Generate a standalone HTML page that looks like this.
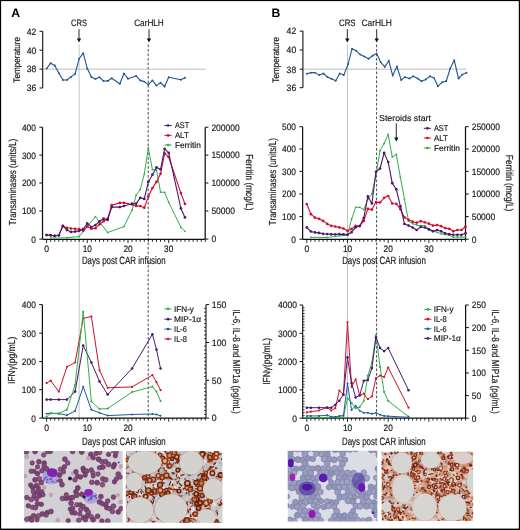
<!DOCTYPE html>
<html><head><meta charset="utf-8"><style>
html,body{margin:0;padding:0;background:#fff;width:520px;height:530px;overflow:hidden;}
svg{display:block;font-family:"Liberation Sans",sans-serif;filter:blur(0.3px);}
</style></head><body>
<svg width="520" height="530" viewBox="0 0 520 530" font-family="Liberation Sans, sans-serif" text-rendering="geometricPrecision"><rect x="0" y="0" width="520" height="530" fill="#fff"/>
<text x="11.30" y="16.90" font-size="12.2" text-anchor="start" fill="#000" font-weight="bold">A</text>
<text x="271.60" y="16.90" font-size="12.2" text-anchor="start" fill="#000" font-weight="bold">B</text>
<line x1="79.10" y1="44.50" x2="79.10" y2="418.00" stroke="#c4c4c4" stroke-width="1.0"/>
<line x1="148.20" y1="44.50" x2="148.20" y2="418.00" stroke="#4a4a4a" stroke-width="1.0" stroke-dasharray="2.7,1.8"/>
<line x1="347.50" y1="44.50" x2="347.50" y2="418.00" stroke="#c4c4c4" stroke-width="1.0"/>
<line x1="376.60" y1="44.50" x2="376.60" y2="418.00" stroke="#4a4a4a" stroke-width="1.0" stroke-dasharray="2.7,1.8"/>
<line x1="42.70" y1="69.20" x2="205.50" y2="69.20" stroke="#b4b4b4" stroke-width="0.9"/>
<line x1="42.70" y1="31.30" x2="42.70" y2="88.00" stroke="#111" stroke-width="1.1"/>
<line x1="39.50" y1="31.30" x2="42.70" y2="31.30" stroke="#111" stroke-width="1"/>
<text x="36.40" y="34.60" font-size="9.2" text-anchor="end" fill="#1a1a1a" stroke="#1a1a1a" stroke-width="0.18" textLength="9.6" lengthAdjust="spacingAndGlyphs">42</text>
<line x1="39.50" y1="50.20" x2="42.70" y2="50.20" stroke="#111" stroke-width="1"/>
<text x="36.40" y="53.50" font-size="9.2" text-anchor="end" fill="#1a1a1a" stroke="#1a1a1a" stroke-width="0.18" textLength="9.6" lengthAdjust="spacingAndGlyphs">40</text>
<line x1="39.50" y1="69.10" x2="42.70" y2="69.10" stroke="#111" stroke-width="1"/>
<text x="36.40" y="72.40" font-size="9.2" text-anchor="end" fill="#1a1a1a" stroke="#1a1a1a" stroke-width="0.18" textLength="9.6" lengthAdjust="spacingAndGlyphs">38</text>
<line x1="39.50" y1="88.00" x2="42.70" y2="88.00" stroke="#111" stroke-width="1"/>
<text x="36.40" y="91.30" font-size="9.2" text-anchor="end" fill="#1a1a1a" stroke="#1a1a1a" stroke-width="0.18" textLength="9.6" lengthAdjust="spacingAndGlyphs">36</text>
<text x="19.70" y="59.80" font-size="9.5" text-anchor="middle" fill="#1a1a1a" stroke="#1a1a1a" stroke-width="0.18" textLength="45.7" lengthAdjust="spacingAndGlyphs" transform="rotate(-90 19.70 59.80)">Temperature</text>
<polyline points="46.60,68.60 50.67,63.20 54.74,65.50 58.81,73.00 62.88,80.00 66.95,80.00 71.02,76.90 75.09,73.90 79.16,58.70 83.23,53.10 87.30,68.60 91.37,76.90 95.44,78.90 99.51,77.30 103.58,81.00 107.65,81.00 111.72,78.20 119.86,83.70 123.93,73.50 128.00,78.70 136.14,75.90 140.21,80.40 144.28,81.60 148.35,84.60 152.42,80.40 156.49,85.60 160.56,82.80 164.63,86.50 168.70,77.30 180.91,79.80 184.98,77.80" fill="none" stroke="#1d5590" stroke-width="1.1" stroke-linejoin="round"/>
<circle cx="46.60" cy="68.60" r="0.95" fill="#1d5590"/>
<circle cx="50.67" cy="63.20" r="0.95" fill="#1d5590"/>
<circle cx="54.74" cy="65.50" r="0.95" fill="#1d5590"/>
<circle cx="58.81" cy="73.00" r="0.95" fill="#1d5590"/>
<circle cx="62.88" cy="80.00" r="0.95" fill="#1d5590"/>
<circle cx="66.95" cy="80.00" r="0.95" fill="#1d5590"/>
<circle cx="71.02" cy="76.90" r="0.95" fill="#1d5590"/>
<circle cx="75.09" cy="73.90" r="0.95" fill="#1d5590"/>
<circle cx="79.16" cy="58.70" r="0.95" fill="#1d5590"/>
<circle cx="83.23" cy="53.10" r="0.95" fill="#1d5590"/>
<circle cx="87.30" cy="68.60" r="0.95" fill="#1d5590"/>
<circle cx="91.37" cy="76.90" r="0.95" fill="#1d5590"/>
<circle cx="95.44" cy="78.90" r="0.95" fill="#1d5590"/>
<circle cx="99.51" cy="77.30" r="0.95" fill="#1d5590"/>
<circle cx="103.58" cy="81.00" r="0.95" fill="#1d5590"/>
<circle cx="107.65" cy="81.00" r="0.95" fill="#1d5590"/>
<circle cx="111.72" cy="78.20" r="0.95" fill="#1d5590"/>
<circle cx="119.86" cy="83.70" r="0.95" fill="#1d5590"/>
<circle cx="123.93" cy="73.50" r="0.95" fill="#1d5590"/>
<circle cx="128.00" cy="78.70" r="0.95" fill="#1d5590"/>
<circle cx="136.14" cy="75.90" r="0.95" fill="#1d5590"/>
<circle cx="140.21" cy="80.40" r="0.95" fill="#1d5590"/>
<circle cx="144.28" cy="81.60" r="0.95" fill="#1d5590"/>
<circle cx="148.35" cy="84.60" r="0.95" fill="#1d5590"/>
<circle cx="152.42" cy="80.40" r="0.95" fill="#1d5590"/>
<circle cx="156.49" cy="85.60" r="0.95" fill="#1d5590"/>
<circle cx="160.56" cy="82.80" r="0.95" fill="#1d5590"/>
<circle cx="164.63" cy="86.50" r="0.95" fill="#1d5590"/>
<circle cx="168.70" cy="77.30" r="0.95" fill="#1d5590"/>
<circle cx="180.91" cy="79.80" r="0.95" fill="#1d5590"/>
<circle cx="184.98" cy="77.80" r="0.95" fill="#1d5590"/>
<text x="79.00" y="25.60" font-size="9.3" text-anchor="middle" fill="#1a1a1a" stroke="#1a1a1a" stroke-width="0.18" textLength="15.9" lengthAdjust="spacingAndGlyphs">CRS</text>
<line x1="79.00" y1="29.20" x2="79.00" y2="39.10" stroke="#111" stroke-width="0.9"/>
<path d="M76.80,38.60 L81.20,38.60 L79.00,42.60 Z" fill="#111"/>
<text x="149.00" y="25.60" font-size="9.3" text-anchor="middle" fill="#1a1a1a" stroke="#1a1a1a" stroke-width="0.18" textLength="29.6" lengthAdjust="spacingAndGlyphs">CarHLH</text>
<line x1="149.00" y1="29.20" x2="149.00" y2="39.10" stroke="#111" stroke-width="0.9"/>
<path d="M146.80,38.60 L151.20,38.60 L149.00,42.60 Z" fill="#111"/>
<line x1="302.90" y1="69.20" x2="466.20" y2="69.20" stroke="#b4b4b4" stroke-width="0.9"/>
<line x1="302.90" y1="31.10" x2="302.90" y2="87.70" stroke="#111" stroke-width="1.1"/>
<line x1="299.70" y1="31.10" x2="302.90" y2="31.10" stroke="#111" stroke-width="1"/>
<text x="296.20" y="34.40" font-size="9.2" text-anchor="end" fill="#1a1a1a" stroke="#1a1a1a" stroke-width="0.18" textLength="9.6" lengthAdjust="spacingAndGlyphs">42</text>
<line x1="299.70" y1="50.00" x2="302.90" y2="50.00" stroke="#111" stroke-width="1"/>
<text x="296.20" y="53.30" font-size="9.2" text-anchor="end" fill="#1a1a1a" stroke="#1a1a1a" stroke-width="0.18" textLength="9.6" lengthAdjust="spacingAndGlyphs">40</text>
<line x1="299.70" y1="69.20" x2="302.90" y2="69.20" stroke="#111" stroke-width="1"/>
<text x="296.20" y="72.50" font-size="9.2" text-anchor="end" fill="#1a1a1a" stroke="#1a1a1a" stroke-width="0.18" textLength="9.6" lengthAdjust="spacingAndGlyphs">38</text>
<line x1="299.70" y1="87.70" x2="302.90" y2="87.70" stroke="#111" stroke-width="1"/>
<text x="296.20" y="91.00" font-size="9.2" text-anchor="end" fill="#1a1a1a" stroke="#1a1a1a" stroke-width="0.18" textLength="9.6" lengthAdjust="spacingAndGlyphs">36</text>
<text x="279.50" y="59.80" font-size="9.5" text-anchor="middle" fill="#1a1a1a" stroke="#1a1a1a" stroke-width="0.18" textLength="45.7" lengthAdjust="spacingAndGlyphs" transform="rotate(-90 279.50 59.80)">Temperature</text>
<polyline points="306.90,73.80 311.10,72.60 315.10,72.60 319.20,75.10 323.40,73.50 327.40,76.90 331.50,78.80 335.70,80.80 339.70,73.50 343.80,75.10 348.00,64.30 352.00,48.80 356.20,50.80 360.30,54.60 364.30,56.60 368.50,58.80 372.60,55.70 376.60,53.50 380.60,62.10 384.80,66.90 388.80,60.80 392.70,75.60 396.90,66.50 401.20,80.00 405.00,77.10 409.40,78.50 413.30,76.20 417.70,78.50 421.50,81.30 425.80,79.40 430.00,76.20 434.00,78.10 437.90,86.20 442.10,82.30 446.30,81.00 450.20,68.50 454.20,60.20 458.50,78.50 462.30,74.60 466.50,72.70" fill="none" stroke="#1d5590" stroke-width="1.1" stroke-linejoin="round"/>
<circle cx="306.90" cy="73.80" r="0.95" fill="#1d5590"/>
<circle cx="311.10" cy="72.60" r="0.95" fill="#1d5590"/>
<circle cx="315.10" cy="72.60" r="0.95" fill="#1d5590"/>
<circle cx="319.20" cy="75.10" r="0.95" fill="#1d5590"/>
<circle cx="323.40" cy="73.50" r="0.95" fill="#1d5590"/>
<circle cx="327.40" cy="76.90" r="0.95" fill="#1d5590"/>
<circle cx="331.50" cy="78.80" r="0.95" fill="#1d5590"/>
<circle cx="335.70" cy="80.80" r="0.95" fill="#1d5590"/>
<circle cx="339.70" cy="73.50" r="0.95" fill="#1d5590"/>
<circle cx="343.80" cy="75.10" r="0.95" fill="#1d5590"/>
<circle cx="348.00" cy="64.30" r="0.95" fill="#1d5590"/>
<circle cx="352.00" cy="48.80" r="0.95" fill="#1d5590"/>
<circle cx="356.20" cy="50.80" r="0.95" fill="#1d5590"/>
<circle cx="360.30" cy="54.60" r="0.95" fill="#1d5590"/>
<circle cx="364.30" cy="56.60" r="0.95" fill="#1d5590"/>
<circle cx="368.50" cy="58.80" r="0.95" fill="#1d5590"/>
<circle cx="372.60" cy="55.70" r="0.95" fill="#1d5590"/>
<circle cx="376.60" cy="53.50" r="0.95" fill="#1d5590"/>
<circle cx="380.60" cy="62.10" r="0.95" fill="#1d5590"/>
<circle cx="384.80" cy="66.90" r="0.95" fill="#1d5590"/>
<circle cx="388.80" cy="60.80" r="0.95" fill="#1d5590"/>
<circle cx="392.70" cy="75.60" r="0.95" fill="#1d5590"/>
<circle cx="396.90" cy="66.50" r="0.95" fill="#1d5590"/>
<circle cx="401.20" cy="80.00" r="0.95" fill="#1d5590"/>
<circle cx="405.00" cy="77.10" r="0.95" fill="#1d5590"/>
<circle cx="409.40" cy="78.50" r="0.95" fill="#1d5590"/>
<circle cx="413.30" cy="76.20" r="0.95" fill="#1d5590"/>
<circle cx="417.70" cy="78.50" r="0.95" fill="#1d5590"/>
<circle cx="421.50" cy="81.30" r="0.95" fill="#1d5590"/>
<circle cx="425.80" cy="79.40" r="0.95" fill="#1d5590"/>
<circle cx="430.00" cy="76.20" r="0.95" fill="#1d5590"/>
<circle cx="434.00" cy="78.10" r="0.95" fill="#1d5590"/>
<circle cx="437.90" cy="86.20" r="0.95" fill="#1d5590"/>
<circle cx="442.10" cy="82.30" r="0.95" fill="#1d5590"/>
<circle cx="446.30" cy="81.00" r="0.95" fill="#1d5590"/>
<circle cx="450.20" cy="68.50" r="0.95" fill="#1d5590"/>
<circle cx="454.20" cy="60.20" r="0.95" fill="#1d5590"/>
<circle cx="458.50" cy="78.50" r="0.95" fill="#1d5590"/>
<circle cx="462.30" cy="74.60" r="0.95" fill="#1d5590"/>
<circle cx="466.50" cy="72.70" r="0.95" fill="#1d5590"/>
<text x="347.30" y="25.60" font-size="9.3" text-anchor="middle" fill="#1a1a1a" stroke="#1a1a1a" stroke-width="0.18" textLength="16.4" lengthAdjust="spacingAndGlyphs">CRS</text>
<line x1="347.30" y1="29.20" x2="347.30" y2="39.10" stroke="#111" stroke-width="0.9"/>
<path d="M345.10,38.60 L349.50,38.60 L347.30,42.60 Z" fill="#111"/>
<text x="376.70" y="25.60" font-size="9.3" text-anchor="middle" fill="#1a1a1a" stroke="#1a1a1a" stroke-width="0.18" textLength="30.3" lengthAdjust="spacingAndGlyphs">CarHLH</text>
<line x1="376.70" y1="29.20" x2="376.70" y2="39.10" stroke="#111" stroke-width="0.9"/>
<path d="M374.50,38.60 L378.90,38.60 L376.70,42.60 Z" fill="#111"/>
<line x1="42.50" y1="127.20" x2="42.50" y2="239.10" stroke="#111" stroke-width="1.25"/>
<line x1="39.30" y1="239.10" x2="42.50" y2="239.10" stroke="#111" stroke-width="1"/>
<text x="35.90" y="242.50" font-size="9.2" text-anchor="end" fill="#1a1a1a" stroke="#1a1a1a" stroke-width="0.18" textLength="4.65" lengthAdjust="spacingAndGlyphs">0</text>
<line x1="39.30" y1="211.00" x2="42.50" y2="211.00" stroke="#111" stroke-width="1"/>
<text x="35.90" y="214.40" font-size="9.2" text-anchor="end" fill="#1a1a1a" stroke="#1a1a1a" stroke-width="0.18" textLength="13.950000000000001" lengthAdjust="spacingAndGlyphs">100</text>
<line x1="39.30" y1="183.00" x2="42.50" y2="183.00" stroke="#111" stroke-width="1"/>
<text x="35.90" y="186.40" font-size="9.2" text-anchor="end" fill="#1a1a1a" stroke="#1a1a1a" stroke-width="0.18" textLength="13.950000000000001" lengthAdjust="spacingAndGlyphs">200</text>
<line x1="39.30" y1="155.10" x2="42.50" y2="155.10" stroke="#111" stroke-width="1"/>
<text x="35.90" y="158.50" font-size="9.2" text-anchor="end" fill="#1a1a1a" stroke="#1a1a1a" stroke-width="0.18" textLength="13.950000000000001" lengthAdjust="spacingAndGlyphs">300</text>
<line x1="39.30" y1="127.20" x2="42.50" y2="127.20" stroke="#111" stroke-width="1"/>
<text x="35.90" y="130.60" font-size="9.2" text-anchor="end" fill="#1a1a1a" stroke="#1a1a1a" stroke-width="0.18" textLength="13.950000000000001" lengthAdjust="spacingAndGlyphs">400</text>
<line x1="205.20" y1="127.20" x2="205.20" y2="239.10" stroke="#111" stroke-width="1.25"/>
<line x1="205.20" y1="239.10" x2="208.40" y2="239.10" stroke="#111" stroke-width="1"/>
<text x="211.40" y="242.40" font-size="9.2" text-anchor="start" fill="#1a1a1a" stroke="#1a1a1a" stroke-width="0.18" textLength="4.72" lengthAdjust="spacingAndGlyphs">0</text>
<line x1="205.20" y1="211.00" x2="208.40" y2="211.00" stroke="#111" stroke-width="1"/>
<text x="211.40" y="214.30" font-size="9.2" text-anchor="start" fill="#1a1a1a" stroke="#1a1a1a" stroke-width="0.18" textLength="23.599999999999998" lengthAdjust="spacingAndGlyphs">50000</text>
<line x1="205.20" y1="183.00" x2="208.40" y2="183.00" stroke="#111" stroke-width="1"/>
<text x="211.40" y="186.30" font-size="9.2" text-anchor="start" fill="#1a1a1a" stroke="#1a1a1a" stroke-width="0.18" textLength="28.32" lengthAdjust="spacingAndGlyphs">100000</text>
<line x1="205.20" y1="155.10" x2="208.40" y2="155.10" stroke="#111" stroke-width="1"/>
<text x="211.40" y="158.40" font-size="9.2" text-anchor="start" fill="#1a1a1a" stroke="#1a1a1a" stroke-width="0.18" textLength="28.32" lengthAdjust="spacingAndGlyphs">150000</text>
<line x1="205.20" y1="127.20" x2="208.40" y2="127.20" stroke="#111" stroke-width="1"/>
<text x="211.40" y="130.50" font-size="9.2" text-anchor="start" fill="#1a1a1a" stroke="#1a1a1a" stroke-width="0.18" textLength="28.32" lengthAdjust="spacingAndGlyphs">200000</text>
<line x1="42.50" y1="239.40" x2="205.20" y2="239.40" stroke="#111" stroke-width="1.25"/>
<line x1="46.60" y1="239.40" x2="46.60" y2="243.00" stroke="#111" stroke-width="0.9"/>
<line x1="50.67" y1="239.40" x2="50.67" y2="241.80" stroke="#111" stroke-width="0.9"/>
<line x1="54.74" y1="239.40" x2="54.74" y2="241.80" stroke="#111" stroke-width="0.9"/>
<line x1="58.81" y1="239.40" x2="58.81" y2="241.80" stroke="#111" stroke-width="0.9"/>
<line x1="62.88" y1="239.40" x2="62.88" y2="241.80" stroke="#111" stroke-width="0.9"/>
<line x1="66.95" y1="239.40" x2="66.95" y2="241.80" stroke="#111" stroke-width="0.9"/>
<line x1="71.02" y1="239.40" x2="71.02" y2="241.80" stroke="#111" stroke-width="0.9"/>
<line x1="75.09" y1="239.40" x2="75.09" y2="241.80" stroke="#111" stroke-width="0.9"/>
<line x1="79.16" y1="239.40" x2="79.16" y2="241.80" stroke="#111" stroke-width="0.9"/>
<line x1="83.23" y1="239.40" x2="83.23" y2="241.80" stroke="#111" stroke-width="0.9"/>
<line x1="87.30" y1="239.40" x2="87.30" y2="243.00" stroke="#111" stroke-width="0.9"/>
<line x1="91.37" y1="239.40" x2="91.37" y2="241.80" stroke="#111" stroke-width="0.9"/>
<line x1="95.44" y1="239.40" x2="95.44" y2="241.80" stroke="#111" stroke-width="0.9"/>
<line x1="99.51" y1="239.40" x2="99.51" y2="241.80" stroke="#111" stroke-width="0.9"/>
<line x1="103.58" y1="239.40" x2="103.58" y2="241.80" stroke="#111" stroke-width="0.9"/>
<line x1="107.65" y1="239.40" x2="107.65" y2="241.80" stroke="#111" stroke-width="0.9"/>
<line x1="111.72" y1="239.40" x2="111.72" y2="241.80" stroke="#111" stroke-width="0.9"/>
<line x1="115.79" y1="239.40" x2="115.79" y2="241.80" stroke="#111" stroke-width="0.9"/>
<line x1="119.86" y1="239.40" x2="119.86" y2="241.80" stroke="#111" stroke-width="0.9"/>
<line x1="123.93" y1="239.40" x2="123.93" y2="241.80" stroke="#111" stroke-width="0.9"/>
<line x1="128.00" y1="239.40" x2="128.00" y2="243.00" stroke="#111" stroke-width="0.9"/>
<line x1="132.07" y1="239.40" x2="132.07" y2="241.80" stroke="#111" stroke-width="0.9"/>
<line x1="136.14" y1="239.40" x2="136.14" y2="241.80" stroke="#111" stroke-width="0.9"/>
<line x1="140.21" y1="239.40" x2="140.21" y2="241.80" stroke="#111" stroke-width="0.9"/>
<line x1="144.28" y1="239.40" x2="144.28" y2="241.80" stroke="#111" stroke-width="0.9"/>
<line x1="148.35" y1="239.40" x2="148.35" y2="241.80" stroke="#111" stroke-width="0.9"/>
<line x1="152.42" y1="239.40" x2="152.42" y2="241.80" stroke="#111" stroke-width="0.9"/>
<line x1="156.49" y1="239.40" x2="156.49" y2="241.80" stroke="#111" stroke-width="0.9"/>
<line x1="160.56" y1="239.40" x2="160.56" y2="241.80" stroke="#111" stroke-width="0.9"/>
<line x1="164.63" y1="239.40" x2="164.63" y2="241.80" stroke="#111" stroke-width="0.9"/>
<line x1="168.70" y1="239.40" x2="168.70" y2="243.00" stroke="#111" stroke-width="0.9"/>
<line x1="172.77" y1="239.40" x2="172.77" y2="241.80" stroke="#111" stroke-width="0.9"/>
<line x1="176.84" y1="239.40" x2="176.84" y2="241.80" stroke="#111" stroke-width="0.9"/>
<line x1="180.91" y1="239.40" x2="180.91" y2="241.80" stroke="#111" stroke-width="0.9"/>
<line x1="184.98" y1="239.40" x2="184.98" y2="241.80" stroke="#111" stroke-width="0.9"/>
<line x1="189.05" y1="239.40" x2="189.05" y2="241.80" stroke="#111" stroke-width="0.9"/>
<line x1="193.12" y1="239.40" x2="193.12" y2="241.80" stroke="#111" stroke-width="0.9"/>
<line x1="197.19" y1="239.40" x2="197.19" y2="241.80" stroke="#111" stroke-width="0.9"/>
<line x1="201.26" y1="239.40" x2="201.26" y2="241.80" stroke="#111" stroke-width="0.9"/>
<line x1="205.33" y1="239.40" x2="205.33" y2="241.80" stroke="#111" stroke-width="0.9"/>
<text x="46.60" y="252.30" font-size="9.4" text-anchor="middle" fill="#1a1a1a" stroke="#1a1a1a" stroke-width="0.18" textLength="4.8" lengthAdjust="spacingAndGlyphs">0</text>
<text x="87.30" y="252.30" font-size="9.4" text-anchor="middle" fill="#1a1a1a" stroke="#1a1a1a" stroke-width="0.18" textLength="9.2" lengthAdjust="spacingAndGlyphs">10</text>
<text x="128.00" y="252.30" font-size="9.4" text-anchor="middle" fill="#1a1a1a" stroke="#1a1a1a" stroke-width="0.18" textLength="9.2" lengthAdjust="spacingAndGlyphs">20</text>
<text x="168.70" y="252.30" font-size="9.4" text-anchor="middle" fill="#1a1a1a" stroke="#1a1a1a" stroke-width="0.18" textLength="9.2" lengthAdjust="spacingAndGlyphs">30</text>
<text x="123.75" y="263.80" font-size="10.6" text-anchor="middle" fill="#1a1a1a" stroke="#1a1a1a" stroke-width="0.18" textLength="83.7" lengthAdjust="spacingAndGlyphs">Days post CAR infusion</text>
<text x="15.90" y="182.00" font-size="10.2" text-anchor="middle" fill="#1a1a1a" stroke="#1a1a1a" stroke-width="0.18" textLength="86.3" lengthAdjust="spacingAndGlyphs" transform="rotate(-90 15.90 182.00)">Transaminases (units/L)</text>
<text x="246.20" y="182.40" font-size="10.2" text-anchor="middle" fill="#1a1a1a" stroke="#1a1a1a" stroke-width="0.18" textLength="56.5" lengthAdjust="spacingAndGlyphs" transform="rotate(90 246.20 182.40)">Ferritin (mcg/L)</text>
<polyline points="50.67,238.10 66.95,237.80 79.16,236.50 95.44,216.70 107.65,232.50 123.93,226.60 132.07,210.20 136.14,195.20 140.21,189.50 144.28,174.20 148.35,147.80 152.42,169.60 156.49,170.00 160.56,192.20 164.63,192.30 168.70,202.30 180.91,227.40 184.98,231.30" fill="none" stroke="#30b04a" stroke-width="1.0" stroke-linejoin="round"/>
<circle cx="50.67" cy="238.10" r="0.9" fill="#30b04a"/>
<circle cx="66.95" cy="237.80" r="0.9" fill="#30b04a"/>
<circle cx="79.16" cy="236.50" r="0.9" fill="#30b04a"/>
<circle cx="95.44" cy="216.70" r="0.9" fill="#30b04a"/>
<circle cx="107.65" cy="232.50" r="0.9" fill="#30b04a"/>
<circle cx="123.93" cy="226.60" r="0.9" fill="#30b04a"/>
<circle cx="132.07" cy="210.20" r="0.9" fill="#30b04a"/>
<circle cx="136.14" cy="195.20" r="0.9" fill="#30b04a"/>
<circle cx="140.21" cy="189.50" r="0.9" fill="#30b04a"/>
<circle cx="144.28" cy="174.20" r="0.9" fill="#30b04a"/>
<circle cx="148.35" cy="147.80" r="0.9" fill="#30b04a"/>
<circle cx="152.42" cy="169.60" r="0.9" fill="#30b04a"/>
<circle cx="156.49" cy="170.00" r="0.9" fill="#30b04a"/>
<circle cx="160.56" cy="192.20" r="0.9" fill="#30b04a"/>
<circle cx="164.63" cy="192.30" r="0.9" fill="#30b04a"/>
<circle cx="168.70" cy="202.30" r="0.9" fill="#30b04a"/>
<circle cx="180.91" cy="227.40" r="0.9" fill="#30b04a"/>
<circle cx="184.98" cy="231.30" r="0.9" fill="#30b04a"/>
<polyline points="46.60,235.00 50.67,235.30 54.74,235.90 58.81,235.30 62.88,226.20 66.95,227.80 71.02,228.50 75.09,228.80 79.16,229.20 83.23,230.70 87.30,226.40 91.37,228.70 95.44,228.20 99.51,224.30 103.58,221.20 107.65,218.50 111.72,205.20 119.86,202.90 123.93,202.90 132.07,204.50 136.14,205.90 140.21,206.00 144.28,207.70 148.35,196.60 152.42,188.10 156.49,181.90 160.56,173.80 164.63,153.40 168.70,157.00 180.91,193.10 184.98,204.00" fill="none" stroke="#d20f2d" stroke-width="1.1" stroke-linejoin="round"/>
<circle cx="46.60" cy="235.00" r="1.35" fill="#d20f2d"/>
<circle cx="50.67" cy="235.30" r="1.35" fill="#d20f2d"/>
<circle cx="54.74" cy="235.90" r="1.35" fill="#d20f2d"/>
<circle cx="58.81" cy="235.30" r="1.35" fill="#d20f2d"/>
<circle cx="62.88" cy="226.20" r="1.35" fill="#d20f2d"/>
<circle cx="66.95" cy="227.80" r="1.35" fill="#d20f2d"/>
<circle cx="71.02" cy="228.50" r="1.35" fill="#d20f2d"/>
<circle cx="75.09" cy="228.80" r="1.35" fill="#d20f2d"/>
<circle cx="79.16" cy="229.20" r="1.35" fill="#d20f2d"/>
<circle cx="83.23" cy="230.70" r="1.35" fill="#d20f2d"/>
<circle cx="87.30" cy="226.40" r="1.35" fill="#d20f2d"/>
<circle cx="91.37" cy="228.70" r="1.35" fill="#d20f2d"/>
<circle cx="95.44" cy="228.20" r="1.35" fill="#d20f2d"/>
<circle cx="99.51" cy="224.30" r="1.35" fill="#d20f2d"/>
<circle cx="103.58" cy="221.20" r="1.35" fill="#d20f2d"/>
<circle cx="107.65" cy="218.50" r="1.35" fill="#d20f2d"/>
<circle cx="111.72" cy="205.20" r="1.35" fill="#d20f2d"/>
<circle cx="119.86" cy="202.90" r="1.35" fill="#d20f2d"/>
<circle cx="123.93" cy="202.90" r="1.35" fill="#d20f2d"/>
<circle cx="132.07" cy="204.50" r="1.35" fill="#d20f2d"/>
<circle cx="136.14" cy="205.90" r="1.35" fill="#d20f2d"/>
<circle cx="140.21" cy="206.00" r="1.35" fill="#d20f2d"/>
<circle cx="144.28" cy="207.70" r="1.35" fill="#d20f2d"/>
<circle cx="148.35" cy="196.60" r="1.35" fill="#d20f2d"/>
<circle cx="152.42" cy="188.10" r="1.35" fill="#d20f2d"/>
<circle cx="156.49" cy="181.90" r="1.35" fill="#d20f2d"/>
<circle cx="160.56" cy="173.80" r="1.35" fill="#d20f2d"/>
<circle cx="164.63" cy="153.40" r="1.35" fill="#d20f2d"/>
<circle cx="168.70" cy="157.00" r="1.35" fill="#d20f2d"/>
<circle cx="180.91" cy="193.10" r="1.35" fill="#d20f2d"/>
<circle cx="184.98" cy="204.00" r="1.35" fill="#d20f2d"/>
<polyline points="46.60,235.00 50.67,235.30 54.74,235.90 58.81,235.30 62.88,225.80 66.95,230.10 71.02,231.90 75.09,231.60 79.16,230.80 83.23,229.20 87.30,223.40 91.37,227.10 95.44,225.10 99.51,221.30 103.58,218.70 107.65,219.90 111.72,207.10 119.86,207.10 123.93,206.00 132.07,203.70 136.14,203.60 140.21,197.90 144.28,198.90 148.35,181.90 152.42,174.70 156.49,167.40 160.56,169.30 164.63,148.80 168.70,152.90 180.91,208.40 184.98,217.40" fill="none" stroke="#4a1872" stroke-width="1.1" stroke-linejoin="round"/>
<circle cx="46.60" cy="235.00" r="1.35" fill="#4a1872"/>
<circle cx="50.67" cy="235.30" r="1.35" fill="#4a1872"/>
<circle cx="54.74" cy="235.90" r="1.35" fill="#4a1872"/>
<circle cx="58.81" cy="235.30" r="1.35" fill="#4a1872"/>
<circle cx="62.88" cy="225.80" r="1.35" fill="#4a1872"/>
<circle cx="66.95" cy="230.10" r="1.35" fill="#4a1872"/>
<circle cx="71.02" cy="231.90" r="1.35" fill="#4a1872"/>
<circle cx="75.09" cy="231.60" r="1.35" fill="#4a1872"/>
<circle cx="79.16" cy="230.80" r="1.35" fill="#4a1872"/>
<circle cx="83.23" cy="229.20" r="1.35" fill="#4a1872"/>
<circle cx="87.30" cy="223.40" r="1.35" fill="#4a1872"/>
<circle cx="91.37" cy="227.10" r="1.35" fill="#4a1872"/>
<circle cx="95.44" cy="225.10" r="1.35" fill="#4a1872"/>
<circle cx="99.51" cy="221.30" r="1.35" fill="#4a1872"/>
<circle cx="103.58" cy="218.70" r="1.35" fill="#4a1872"/>
<circle cx="107.65" cy="219.90" r="1.35" fill="#4a1872"/>
<circle cx="111.72" cy="207.10" r="1.35" fill="#4a1872"/>
<circle cx="119.86" cy="207.10" r="1.35" fill="#4a1872"/>
<circle cx="123.93" cy="206.00" r="1.35" fill="#4a1872"/>
<circle cx="132.07" cy="203.70" r="1.35" fill="#4a1872"/>
<circle cx="136.14" cy="203.60" r="1.35" fill="#4a1872"/>
<circle cx="140.21" cy="197.90" r="1.35" fill="#4a1872"/>
<circle cx="144.28" cy="198.90" r="1.35" fill="#4a1872"/>
<circle cx="148.35" cy="181.90" r="1.35" fill="#4a1872"/>
<circle cx="152.42" cy="174.70" r="1.35" fill="#4a1872"/>
<circle cx="156.49" cy="167.40" r="1.35" fill="#4a1872"/>
<circle cx="160.56" cy="169.30" r="1.35" fill="#4a1872"/>
<circle cx="164.63" cy="148.80" r="1.35" fill="#4a1872"/>
<circle cx="168.70" cy="152.90" r="1.35" fill="#4a1872"/>
<circle cx="180.91" cy="208.40" r="1.35" fill="#4a1872"/>
<circle cx="184.98" cy="217.40" r="1.35" fill="#4a1872"/>
<line x1="164.40" y1="125.50" x2="171.70" y2="125.50" stroke="#4a1872" stroke-width="1.0"/>
<circle cx="168.05" cy="125.50" r="1.35" fill="#4a1872"/>
<text x="174.90" y="128.25" font-size="8.4" text-anchor="start" fill="#1a1a1a" stroke="#1a1a1a" stroke-width="0.18" textLength="14.2" lengthAdjust="spacingAndGlyphs">AST</text>
<line x1="164.40" y1="135.40" x2="171.70" y2="135.40" stroke="#d20f2d" stroke-width="1.0"/>
<circle cx="168.05" cy="135.40" r="1.35" fill="#d20f2d"/>
<text x="174.90" y="138.15" font-size="8.4" text-anchor="start" fill="#1a1a1a" stroke="#1a1a1a" stroke-width="0.18" textLength="13.8" lengthAdjust="spacingAndGlyphs">ALT</text>
<line x1="164.40" y1="145.00" x2="171.70" y2="145.00" stroke="#30b04a" stroke-width="1.0"/>
<circle cx="168.05" cy="145.00" r="1.35" fill="#30b04a"/>
<text x="174.90" y="147.75" font-size="8.4" text-anchor="start" fill="#1a1a1a" stroke="#1a1a1a" stroke-width="0.18" textLength="25.9" lengthAdjust="spacingAndGlyphs">Ferritin</text>
<line x1="302.60" y1="126.70" x2="302.60" y2="239.20" stroke="#111" stroke-width="1.25"/>
<line x1="299.40" y1="239.20" x2="302.60" y2="239.20" stroke="#111" stroke-width="1"/>
<text x="296.00" y="242.60" font-size="9.2" text-anchor="end" fill="#1a1a1a" stroke="#1a1a1a" stroke-width="0.18" textLength="4.65" lengthAdjust="spacingAndGlyphs">0</text>
<line x1="299.40" y1="216.60" x2="302.60" y2="216.60" stroke="#111" stroke-width="1"/>
<text x="296.00" y="220.00" font-size="9.2" text-anchor="end" fill="#1a1a1a" stroke="#1a1a1a" stroke-width="0.18" textLength="13.950000000000001" lengthAdjust="spacingAndGlyphs">100</text>
<line x1="299.40" y1="194.00" x2="302.60" y2="194.00" stroke="#111" stroke-width="1"/>
<text x="296.00" y="197.40" font-size="9.2" text-anchor="end" fill="#1a1a1a" stroke="#1a1a1a" stroke-width="0.18" textLength="13.950000000000001" lengthAdjust="spacingAndGlyphs">200</text>
<line x1="299.40" y1="171.40" x2="302.60" y2="171.40" stroke="#111" stroke-width="1"/>
<text x="296.00" y="174.80" font-size="9.2" text-anchor="end" fill="#1a1a1a" stroke="#1a1a1a" stroke-width="0.18" textLength="13.950000000000001" lengthAdjust="spacingAndGlyphs">300</text>
<line x1="299.40" y1="149.00" x2="302.60" y2="149.00" stroke="#111" stroke-width="1"/>
<text x="296.00" y="152.40" font-size="9.2" text-anchor="end" fill="#1a1a1a" stroke="#1a1a1a" stroke-width="0.18" textLength="13.950000000000001" lengthAdjust="spacingAndGlyphs">400</text>
<line x1="299.40" y1="126.70" x2="302.60" y2="126.70" stroke="#111" stroke-width="1"/>
<text x="296.00" y="130.10" font-size="9.2" text-anchor="end" fill="#1a1a1a" stroke="#1a1a1a" stroke-width="0.18" textLength="13.950000000000001" lengthAdjust="spacingAndGlyphs">500</text>
<line x1="465.50" y1="126.70" x2="465.50" y2="239.20" stroke="#111" stroke-width="1.25"/>
<line x1="465.50" y1="239.20" x2="468.70" y2="239.20" stroke="#111" stroke-width="1"/>
<text x="471.70" y="242.50" font-size="9.2" text-anchor="start" fill="#1a1a1a" stroke="#1a1a1a" stroke-width="0.18" textLength="4.72" lengthAdjust="spacingAndGlyphs">0</text>
<line x1="465.50" y1="216.60" x2="468.70" y2="216.60" stroke="#111" stroke-width="1"/>
<text x="471.70" y="219.90" font-size="9.2" text-anchor="start" fill="#1a1a1a" stroke="#1a1a1a" stroke-width="0.18" textLength="23.599999999999998" lengthAdjust="spacingAndGlyphs">50000</text>
<line x1="465.50" y1="194.00" x2="468.70" y2="194.00" stroke="#111" stroke-width="1"/>
<text x="471.70" y="197.30" font-size="9.2" text-anchor="start" fill="#1a1a1a" stroke="#1a1a1a" stroke-width="0.18" textLength="28.32" lengthAdjust="spacingAndGlyphs">100000</text>
<line x1="465.50" y1="171.40" x2="468.70" y2="171.40" stroke="#111" stroke-width="1"/>
<text x="471.70" y="174.70" font-size="9.2" text-anchor="start" fill="#1a1a1a" stroke="#1a1a1a" stroke-width="0.18" textLength="28.32" lengthAdjust="spacingAndGlyphs">150000</text>
<line x1="465.50" y1="149.00" x2="468.70" y2="149.00" stroke="#111" stroke-width="1"/>
<text x="471.70" y="152.30" font-size="9.2" text-anchor="start" fill="#1a1a1a" stroke="#1a1a1a" stroke-width="0.18" textLength="28.32" lengthAdjust="spacingAndGlyphs">200000</text>
<line x1="465.50" y1="126.70" x2="468.70" y2="126.70" stroke="#111" stroke-width="1"/>
<text x="471.70" y="130.00" font-size="9.2" text-anchor="start" fill="#1a1a1a" stroke="#1a1a1a" stroke-width="0.18" textLength="28.32" lengthAdjust="spacingAndGlyphs">250000</text>
<line x1="302.60" y1="239.40" x2="465.50" y2="239.40" stroke="#111" stroke-width="1.25"/>
<line x1="306.80" y1="239.40" x2="306.80" y2="243.00" stroke="#111" stroke-width="0.9"/>
<line x1="310.87" y1="239.40" x2="310.87" y2="241.80" stroke="#111" stroke-width="0.9"/>
<line x1="314.94" y1="239.40" x2="314.94" y2="241.80" stroke="#111" stroke-width="0.9"/>
<line x1="319.01" y1="239.40" x2="319.01" y2="241.80" stroke="#111" stroke-width="0.9"/>
<line x1="323.08" y1="239.40" x2="323.08" y2="241.80" stroke="#111" stroke-width="0.9"/>
<line x1="327.15" y1="239.40" x2="327.15" y2="241.80" stroke="#111" stroke-width="0.9"/>
<line x1="331.22" y1="239.40" x2="331.22" y2="241.80" stroke="#111" stroke-width="0.9"/>
<line x1="335.29" y1="239.40" x2="335.29" y2="241.80" stroke="#111" stroke-width="0.9"/>
<line x1="339.36" y1="239.40" x2="339.36" y2="241.80" stroke="#111" stroke-width="0.9"/>
<line x1="343.43" y1="239.40" x2="343.43" y2="241.80" stroke="#111" stroke-width="0.9"/>
<line x1="347.50" y1="239.40" x2="347.50" y2="243.00" stroke="#111" stroke-width="0.9"/>
<line x1="351.57" y1="239.40" x2="351.57" y2="241.80" stroke="#111" stroke-width="0.9"/>
<line x1="355.64" y1="239.40" x2="355.64" y2="241.80" stroke="#111" stroke-width="0.9"/>
<line x1="359.71" y1="239.40" x2="359.71" y2="241.80" stroke="#111" stroke-width="0.9"/>
<line x1="363.78" y1="239.40" x2="363.78" y2="241.80" stroke="#111" stroke-width="0.9"/>
<line x1="367.85" y1="239.40" x2="367.85" y2="241.80" stroke="#111" stroke-width="0.9"/>
<line x1="371.92" y1="239.40" x2="371.92" y2="241.80" stroke="#111" stroke-width="0.9"/>
<line x1="375.99" y1="239.40" x2="375.99" y2="241.80" stroke="#111" stroke-width="0.9"/>
<line x1="380.06" y1="239.40" x2="380.06" y2="241.80" stroke="#111" stroke-width="0.9"/>
<line x1="384.13" y1="239.40" x2="384.13" y2="241.80" stroke="#111" stroke-width="0.9"/>
<line x1="388.20" y1="239.40" x2="388.20" y2="243.00" stroke="#111" stroke-width="0.9"/>
<line x1="392.27" y1="239.40" x2="392.27" y2="241.80" stroke="#111" stroke-width="0.9"/>
<line x1="396.34" y1="239.40" x2="396.34" y2="241.80" stroke="#111" stroke-width="0.9"/>
<line x1="400.41" y1="239.40" x2="400.41" y2="241.80" stroke="#111" stroke-width="0.9"/>
<line x1="404.48" y1="239.40" x2="404.48" y2="241.80" stroke="#111" stroke-width="0.9"/>
<line x1="408.55" y1="239.40" x2="408.55" y2="241.80" stroke="#111" stroke-width="0.9"/>
<line x1="412.62" y1="239.40" x2="412.62" y2="241.80" stroke="#111" stroke-width="0.9"/>
<line x1="416.69" y1="239.40" x2="416.69" y2="241.80" stroke="#111" stroke-width="0.9"/>
<line x1="420.76" y1="239.40" x2="420.76" y2="241.80" stroke="#111" stroke-width="0.9"/>
<line x1="424.83" y1="239.40" x2="424.83" y2="241.80" stroke="#111" stroke-width="0.9"/>
<line x1="428.90" y1="239.40" x2="428.90" y2="243.00" stroke="#111" stroke-width="0.9"/>
<line x1="432.97" y1="239.40" x2="432.97" y2="241.80" stroke="#111" stroke-width="0.9"/>
<line x1="437.04" y1="239.40" x2="437.04" y2="241.80" stroke="#111" stroke-width="0.9"/>
<line x1="441.11" y1="239.40" x2="441.11" y2="241.80" stroke="#111" stroke-width="0.9"/>
<line x1="445.18" y1="239.40" x2="445.18" y2="241.80" stroke="#111" stroke-width="0.9"/>
<line x1="449.25" y1="239.40" x2="449.25" y2="241.80" stroke="#111" stroke-width="0.9"/>
<line x1="453.32" y1="239.40" x2="453.32" y2="241.80" stroke="#111" stroke-width="0.9"/>
<line x1="457.39" y1="239.40" x2="457.39" y2="241.80" stroke="#111" stroke-width="0.9"/>
<line x1="461.46" y1="239.40" x2="461.46" y2="241.80" stroke="#111" stroke-width="0.9"/>
<line x1="465.53" y1="239.40" x2="465.53" y2="241.80" stroke="#111" stroke-width="0.9"/>
<text x="306.80" y="252.30" font-size="9.4" text-anchor="middle" fill="#1a1a1a" stroke="#1a1a1a" stroke-width="0.18" textLength="4.8" lengthAdjust="spacingAndGlyphs">0</text>
<text x="347.50" y="252.30" font-size="9.4" text-anchor="middle" fill="#1a1a1a" stroke="#1a1a1a" stroke-width="0.18" textLength="9.2" lengthAdjust="spacingAndGlyphs">10</text>
<text x="388.20" y="252.30" font-size="9.4" text-anchor="middle" fill="#1a1a1a" stroke="#1a1a1a" stroke-width="0.18" textLength="9.2" lengthAdjust="spacingAndGlyphs">20</text>
<text x="428.90" y="252.30" font-size="9.4" text-anchor="middle" fill="#1a1a1a" stroke="#1a1a1a" stroke-width="0.18" textLength="9.2" lengthAdjust="spacingAndGlyphs">30</text>
<text x="384.00" y="263.80" font-size="10.6" text-anchor="middle" fill="#1a1a1a" stroke="#1a1a1a" stroke-width="0.18" textLength="83.7" lengthAdjust="spacingAndGlyphs">Days post CAR infusion</text>
<text x="276.30" y="181.60" font-size="10.2" text-anchor="middle" fill="#1a1a1a" stroke="#1a1a1a" stroke-width="0.18" textLength="87.3" lengthAdjust="spacingAndGlyphs" transform="rotate(-90 276.30 181.60)">Transaminases (units/L)</text>
<text x="506.30" y="183.10" font-size="10.2" text-anchor="middle" fill="#1a1a1a" stroke="#1a1a1a" stroke-width="0.18" textLength="56.5" lengthAdjust="spacingAndGlyphs" transform="rotate(90 506.30 183.10)">Ferritin (mcg/L)</text>
<text x="405.00" y="121.00" font-size="8.6" text-anchor="middle" fill="#1a1a1a" stroke="#1a1a1a" stroke-width="0.18" textLength="52.0" lengthAdjust="spacingAndGlyphs">Steroids start</text>
<line x1="396.30" y1="123.30" x2="396.30" y2="138.00" stroke="#111" stroke-width="0.9"/>
<path d="M394.10,137.50 L398.50,137.50 L396.30,141.50 Z" fill="#111"/>
<polyline points="310.87,237.30 327.15,237.50 347.50,235.00 351.57,219.10 355.64,207.30 359.71,207.30 363.78,209.60 367.85,199.00 371.92,194.00 375.99,174.20 380.06,150.70 384.13,143.50 388.20,134.30 392.27,157.00 396.34,154.50 400.41,177.50 404.48,199.30 408.55,221.20 412.62,223.70 416.69,225.00 420.76,225.60 424.83,225.60 428.90,228.80 432.97,230.80 437.04,232.30 441.11,233.80 445.18,234.60 449.25,235.20 453.32,237.10 457.39,237.10 461.46,237.10 465.53,237.10" fill="none" stroke="#30b04a" stroke-width="1.0" stroke-linejoin="round"/>
<circle cx="310.87" cy="237.30" r="0.9" fill="#30b04a"/>
<circle cx="327.15" cy="237.50" r="0.9" fill="#30b04a"/>
<circle cx="347.50" cy="235.00" r="0.9" fill="#30b04a"/>
<circle cx="351.57" cy="219.10" r="0.9" fill="#30b04a"/>
<circle cx="355.64" cy="207.30" r="0.9" fill="#30b04a"/>
<circle cx="359.71" cy="207.30" r="0.9" fill="#30b04a"/>
<circle cx="363.78" cy="209.60" r="0.9" fill="#30b04a"/>
<circle cx="367.85" cy="199.00" r="0.9" fill="#30b04a"/>
<circle cx="371.92" cy="194.00" r="0.9" fill="#30b04a"/>
<circle cx="375.99" cy="174.20" r="0.9" fill="#30b04a"/>
<circle cx="380.06" cy="150.70" r="0.9" fill="#30b04a"/>
<circle cx="384.13" cy="143.50" r="0.9" fill="#30b04a"/>
<circle cx="388.20" cy="134.30" r="0.9" fill="#30b04a"/>
<circle cx="392.27" cy="157.00" r="0.9" fill="#30b04a"/>
<circle cx="396.34" cy="154.50" r="0.9" fill="#30b04a"/>
<circle cx="400.41" cy="177.50" r="0.9" fill="#30b04a"/>
<circle cx="404.48" cy="199.30" r="0.9" fill="#30b04a"/>
<circle cx="408.55" cy="221.20" r="0.9" fill="#30b04a"/>
<circle cx="412.62" cy="223.70" r="0.9" fill="#30b04a"/>
<circle cx="416.69" cy="225.00" r="0.9" fill="#30b04a"/>
<circle cx="420.76" cy="225.60" r="0.9" fill="#30b04a"/>
<circle cx="424.83" cy="225.60" r="0.9" fill="#30b04a"/>
<circle cx="428.90" cy="228.80" r="0.9" fill="#30b04a"/>
<circle cx="432.97" cy="230.80" r="0.9" fill="#30b04a"/>
<circle cx="437.04" cy="232.30" r="0.9" fill="#30b04a"/>
<circle cx="441.11" cy="233.80" r="0.9" fill="#30b04a"/>
<circle cx="445.18" cy="234.60" r="0.9" fill="#30b04a"/>
<circle cx="449.25" cy="235.20" r="0.9" fill="#30b04a"/>
<circle cx="453.32" cy="237.10" r="0.9" fill="#30b04a"/>
<circle cx="457.39" cy="237.10" r="0.9" fill="#30b04a"/>
<circle cx="461.46" cy="237.10" r="0.9" fill="#30b04a"/>
<circle cx="465.53" cy="237.10" r="0.9" fill="#30b04a"/>
<polyline points="306.80,204.00 310.87,214.20 314.94,217.70 319.01,218.80 323.08,220.90 327.15,223.90 331.22,225.80 335.29,226.50 339.36,227.40 343.43,228.50 347.50,230.80 351.57,228.90 355.64,225.90 359.71,226.00 363.78,220.90 367.85,208.90 371.92,209.60 375.99,202.10 380.06,202.50 384.13,197.80 388.20,196.00 392.27,203.50 396.34,203.80 400.41,209.20 404.48,217.40 408.55,219.80 412.62,221.70 416.69,222.70 420.76,221.20 424.83,222.30 428.90,223.70 432.97,225.60 437.04,225.00 441.11,226.20 445.18,228.10 449.25,228.80 453.32,231.30 457.39,230.00 461.46,230.00 465.53,226.50" fill="none" stroke="#d20f2d" stroke-width="1.1" stroke-linejoin="round"/>
<circle cx="306.80" cy="204.00" r="1.35" fill="#d20f2d"/>
<circle cx="310.87" cy="214.20" r="1.35" fill="#d20f2d"/>
<circle cx="314.94" cy="217.70" r="1.35" fill="#d20f2d"/>
<circle cx="319.01" cy="218.80" r="1.35" fill="#d20f2d"/>
<circle cx="323.08" cy="220.90" r="1.35" fill="#d20f2d"/>
<circle cx="327.15" cy="223.90" r="1.35" fill="#d20f2d"/>
<circle cx="331.22" cy="225.80" r="1.35" fill="#d20f2d"/>
<circle cx="335.29" cy="226.50" r="1.35" fill="#d20f2d"/>
<circle cx="339.36" cy="227.40" r="1.35" fill="#d20f2d"/>
<circle cx="343.43" cy="228.50" r="1.35" fill="#d20f2d"/>
<circle cx="347.50" cy="230.80" r="1.35" fill="#d20f2d"/>
<circle cx="351.57" cy="228.90" r="1.35" fill="#d20f2d"/>
<circle cx="355.64" cy="225.90" r="1.35" fill="#d20f2d"/>
<circle cx="359.71" cy="226.00" r="1.35" fill="#d20f2d"/>
<circle cx="363.78" cy="220.90" r="1.35" fill="#d20f2d"/>
<circle cx="367.85" cy="208.90" r="1.35" fill="#d20f2d"/>
<circle cx="371.92" cy="209.60" r="1.35" fill="#d20f2d"/>
<circle cx="375.99" cy="202.10" r="1.35" fill="#d20f2d"/>
<circle cx="380.06" cy="202.50" r="1.35" fill="#d20f2d"/>
<circle cx="384.13" cy="197.80" r="1.35" fill="#d20f2d"/>
<circle cx="388.20" cy="196.00" r="1.35" fill="#d20f2d"/>
<circle cx="392.27" cy="203.50" r="1.35" fill="#d20f2d"/>
<circle cx="396.34" cy="203.80" r="1.35" fill="#d20f2d"/>
<circle cx="400.41" cy="209.20" r="1.35" fill="#d20f2d"/>
<circle cx="404.48" cy="217.40" r="1.35" fill="#d20f2d"/>
<circle cx="408.55" cy="219.80" r="1.35" fill="#d20f2d"/>
<circle cx="412.62" cy="221.70" r="1.35" fill="#d20f2d"/>
<circle cx="416.69" cy="222.70" r="1.35" fill="#d20f2d"/>
<circle cx="420.76" cy="221.20" r="1.35" fill="#d20f2d"/>
<circle cx="424.83" cy="222.30" r="1.35" fill="#d20f2d"/>
<circle cx="428.90" cy="223.70" r="1.35" fill="#d20f2d"/>
<circle cx="432.97" cy="225.60" r="1.35" fill="#d20f2d"/>
<circle cx="437.04" cy="225.00" r="1.35" fill="#d20f2d"/>
<circle cx="441.11" cy="226.20" r="1.35" fill="#d20f2d"/>
<circle cx="445.18" cy="228.10" r="1.35" fill="#d20f2d"/>
<circle cx="449.25" cy="228.80" r="1.35" fill="#d20f2d"/>
<circle cx="453.32" cy="231.30" r="1.35" fill="#d20f2d"/>
<circle cx="457.39" cy="230.00" r="1.35" fill="#d20f2d"/>
<circle cx="461.46" cy="230.00" r="1.35" fill="#d20f2d"/>
<circle cx="465.53" cy="226.50" r="1.35" fill="#d20f2d"/>
<polyline points="306.80,227.40 310.87,231.50 314.94,232.40 319.01,232.90 323.08,233.80 327.15,234.00 331.22,234.40 335.29,234.40 339.36,234.20 343.43,234.40 347.50,234.70 351.57,232.20 355.64,227.30 359.71,226.10 363.78,218.10 367.85,196.40 371.92,203.50 375.99,171.80 380.06,168.50 384.13,152.90 388.20,162.10 392.27,183.20 396.34,189.40 400.41,206.30 404.48,224.00 408.55,225.60 412.62,227.50 416.69,230.00 420.76,226.90 424.83,227.50 428.90,229.40 432.97,231.30 437.04,230.00 441.11,231.30 445.18,233.30 449.25,234.20 453.32,234.80 457.39,234.80 461.46,234.80 465.53,233.30" fill="none" stroke="#4a1872" stroke-width="1.1" stroke-linejoin="round"/>
<circle cx="306.80" cy="227.40" r="1.35" fill="#4a1872"/>
<circle cx="310.87" cy="231.50" r="1.35" fill="#4a1872"/>
<circle cx="314.94" cy="232.40" r="1.35" fill="#4a1872"/>
<circle cx="319.01" cy="232.90" r="1.35" fill="#4a1872"/>
<circle cx="323.08" cy="233.80" r="1.35" fill="#4a1872"/>
<circle cx="327.15" cy="234.00" r="1.35" fill="#4a1872"/>
<circle cx="331.22" cy="234.40" r="1.35" fill="#4a1872"/>
<circle cx="335.29" cy="234.40" r="1.35" fill="#4a1872"/>
<circle cx="339.36" cy="234.20" r="1.35" fill="#4a1872"/>
<circle cx="343.43" cy="234.40" r="1.35" fill="#4a1872"/>
<circle cx="347.50" cy="234.70" r="1.35" fill="#4a1872"/>
<circle cx="351.57" cy="232.20" r="1.35" fill="#4a1872"/>
<circle cx="355.64" cy="227.30" r="1.35" fill="#4a1872"/>
<circle cx="359.71" cy="226.10" r="1.35" fill="#4a1872"/>
<circle cx="363.78" cy="218.10" r="1.35" fill="#4a1872"/>
<circle cx="367.85" cy="196.40" r="1.35" fill="#4a1872"/>
<circle cx="371.92" cy="203.50" r="1.35" fill="#4a1872"/>
<circle cx="375.99" cy="171.80" r="1.35" fill="#4a1872"/>
<circle cx="380.06" cy="168.50" r="1.35" fill="#4a1872"/>
<circle cx="384.13" cy="152.90" r="1.35" fill="#4a1872"/>
<circle cx="388.20" cy="162.10" r="1.35" fill="#4a1872"/>
<circle cx="392.27" cy="183.20" r="1.35" fill="#4a1872"/>
<circle cx="396.34" cy="189.40" r="1.35" fill="#4a1872"/>
<circle cx="400.41" cy="206.30" r="1.35" fill="#4a1872"/>
<circle cx="404.48" cy="224.00" r="1.35" fill="#4a1872"/>
<circle cx="408.55" cy="225.60" r="1.35" fill="#4a1872"/>
<circle cx="412.62" cy="227.50" r="1.35" fill="#4a1872"/>
<circle cx="416.69" cy="230.00" r="1.35" fill="#4a1872"/>
<circle cx="420.76" cy="226.90" r="1.35" fill="#4a1872"/>
<circle cx="424.83" cy="227.50" r="1.35" fill="#4a1872"/>
<circle cx="428.90" cy="229.40" r="1.35" fill="#4a1872"/>
<circle cx="432.97" cy="231.30" r="1.35" fill="#4a1872"/>
<circle cx="437.04" cy="230.00" r="1.35" fill="#4a1872"/>
<circle cx="441.11" cy="231.30" r="1.35" fill="#4a1872"/>
<circle cx="445.18" cy="233.30" r="1.35" fill="#4a1872"/>
<circle cx="449.25" cy="234.20" r="1.35" fill="#4a1872"/>
<circle cx="453.32" cy="234.80" r="1.35" fill="#4a1872"/>
<circle cx="457.39" cy="234.80" r="1.35" fill="#4a1872"/>
<circle cx="461.46" cy="234.80" r="1.35" fill="#4a1872"/>
<circle cx="465.53" cy="233.30" r="1.35" fill="#4a1872"/>
<line x1="423.80" y1="128.30" x2="431.00" y2="128.30" stroke="#4a1872" stroke-width="1.0"/>
<circle cx="427.40" cy="128.30" r="1.35" fill="#4a1872"/>
<text x="434.00" y="131.05" font-size="8.4" text-anchor="start" fill="#1a1a1a" stroke="#1a1a1a" stroke-width="0.18" textLength="14.2" lengthAdjust="spacingAndGlyphs">AST</text>
<line x1="423.80" y1="138.00" x2="431.00" y2="138.00" stroke="#d20f2d" stroke-width="1.0"/>
<circle cx="427.40" cy="138.00" r="1.35" fill="#d20f2d"/>
<text x="434.00" y="140.75" font-size="8.4" text-anchor="start" fill="#1a1a1a" stroke="#1a1a1a" stroke-width="0.18" textLength="13.8" lengthAdjust="spacingAndGlyphs">ALT</text>
<line x1="423.80" y1="148.00" x2="431.00" y2="148.00" stroke="#30b04a" stroke-width="1.0"/>
<circle cx="427.40" cy="148.00" r="1.35" fill="#30b04a"/>
<text x="434.00" y="150.75" font-size="8.4" text-anchor="start" fill="#1a1a1a" stroke="#1a1a1a" stroke-width="0.18" textLength="25.9" lengthAdjust="spacingAndGlyphs">Ferritin</text>
<line x1="42.40" y1="304.60" x2="42.40" y2="418.10" stroke="#111" stroke-width="1.25"/>
<line x1="39.20" y1="418.10" x2="42.40" y2="418.10" stroke="#111" stroke-width="1"/>
<text x="35.80" y="421.50" font-size="9.2" text-anchor="end" fill="#1a1a1a" stroke="#1a1a1a" stroke-width="0.18" textLength="4.65" lengthAdjust="spacingAndGlyphs">0</text>
<line x1="39.20" y1="389.70" x2="42.40" y2="389.70" stroke="#111" stroke-width="1"/>
<text x="35.80" y="393.10" font-size="9.2" text-anchor="end" fill="#1a1a1a" stroke="#1a1a1a" stroke-width="0.18" textLength="13.950000000000001" lengthAdjust="spacingAndGlyphs">100</text>
<line x1="39.20" y1="361.60" x2="42.40" y2="361.60" stroke="#111" stroke-width="1"/>
<text x="35.80" y="365.00" font-size="9.2" text-anchor="end" fill="#1a1a1a" stroke="#1a1a1a" stroke-width="0.18" textLength="13.950000000000001" lengthAdjust="spacingAndGlyphs">200</text>
<line x1="39.20" y1="333.20" x2="42.40" y2="333.20" stroke="#111" stroke-width="1"/>
<text x="35.80" y="336.60" font-size="9.2" text-anchor="end" fill="#1a1a1a" stroke="#1a1a1a" stroke-width="0.18" textLength="13.950000000000001" lengthAdjust="spacingAndGlyphs">300</text>
<line x1="39.20" y1="304.60" x2="42.40" y2="304.60" stroke="#111" stroke-width="1"/>
<text x="35.80" y="308.00" font-size="9.2" text-anchor="end" fill="#1a1a1a" stroke="#1a1a1a" stroke-width="0.18" textLength="13.950000000000001" lengthAdjust="spacingAndGlyphs">400</text>
<line x1="206.00" y1="304.60" x2="206.00" y2="418.10" stroke="#111" stroke-width="1.1"/>
<line x1="206.00" y1="418.10" x2="209.20" y2="418.10" stroke="#111" stroke-width="1"/>
<line x1="204.00" y1="414.32" x2="206.00" y2="414.32" stroke="#111" stroke-width="0.8"/>
<line x1="204.00" y1="410.53" x2="206.00" y2="410.53" stroke="#111" stroke-width="0.8"/>
<line x1="204.00" y1="406.75" x2="206.00" y2="406.75" stroke="#111" stroke-width="0.8"/>
<line x1="204.00" y1="402.97" x2="206.00" y2="402.97" stroke="#111" stroke-width="0.8"/>
<line x1="204.00" y1="399.18" x2="206.00" y2="399.18" stroke="#111" stroke-width="0.8"/>
<line x1="204.00" y1="395.40" x2="206.00" y2="395.40" stroke="#111" stroke-width="0.8"/>
<line x1="204.00" y1="391.62" x2="206.00" y2="391.62" stroke="#111" stroke-width="0.8"/>
<line x1="204.00" y1="387.83" x2="206.00" y2="387.83" stroke="#111" stroke-width="0.8"/>
<line x1="204.00" y1="384.05" x2="206.00" y2="384.05" stroke="#111" stroke-width="0.8"/>
<line x1="206.00" y1="380.27" x2="209.20" y2="380.27" stroke="#111" stroke-width="1"/>
<line x1="204.00" y1="376.48" x2="206.00" y2="376.48" stroke="#111" stroke-width="0.8"/>
<line x1="204.00" y1="372.70" x2="206.00" y2="372.70" stroke="#111" stroke-width="0.8"/>
<line x1="204.00" y1="368.92" x2="206.00" y2="368.92" stroke="#111" stroke-width="0.8"/>
<line x1="204.00" y1="365.13" x2="206.00" y2="365.13" stroke="#111" stroke-width="0.8"/>
<line x1="204.00" y1="361.35" x2="206.00" y2="361.35" stroke="#111" stroke-width="0.8"/>
<line x1="204.00" y1="357.57" x2="206.00" y2="357.57" stroke="#111" stroke-width="0.8"/>
<line x1="204.00" y1="353.78" x2="206.00" y2="353.78" stroke="#111" stroke-width="0.8"/>
<line x1="204.00" y1="350.00" x2="206.00" y2="350.00" stroke="#111" stroke-width="0.8"/>
<line x1="204.00" y1="346.22" x2="206.00" y2="346.22" stroke="#111" stroke-width="0.8"/>
<line x1="206.00" y1="342.43" x2="209.20" y2="342.43" stroke="#111" stroke-width="1"/>
<line x1="204.00" y1="338.65" x2="206.00" y2="338.65" stroke="#111" stroke-width="0.8"/>
<line x1="204.00" y1="334.87" x2="206.00" y2="334.87" stroke="#111" stroke-width="0.8"/>
<line x1="204.00" y1="331.08" x2="206.00" y2="331.08" stroke="#111" stroke-width="0.8"/>
<line x1="204.00" y1="327.30" x2="206.00" y2="327.30" stroke="#111" stroke-width="0.8"/>
<line x1="204.00" y1="323.52" x2="206.00" y2="323.52" stroke="#111" stroke-width="0.8"/>
<line x1="204.00" y1="319.73" x2="206.00" y2="319.73" stroke="#111" stroke-width="0.8"/>
<line x1="204.00" y1="315.95" x2="206.00" y2="315.95" stroke="#111" stroke-width="0.8"/>
<line x1="204.00" y1="312.17" x2="206.00" y2="312.17" stroke="#111" stroke-width="0.8"/>
<line x1="204.00" y1="308.38" x2="206.00" y2="308.38" stroke="#111" stroke-width="0.8"/>
<line x1="206.00" y1="304.60" x2="209.20" y2="304.60" stroke="#111" stroke-width="1"/>
<text x="211.80" y="421.40" font-size="9.2" text-anchor="start" fill="#1a1a1a" stroke="#1a1a1a" stroke-width="0.18" textLength="4.85" lengthAdjust="spacingAndGlyphs">0</text>
<text x="211.80" y="383.70" font-size="9.2" text-anchor="start" fill="#1a1a1a" stroke="#1a1a1a" stroke-width="0.18" textLength="9.7" lengthAdjust="spacingAndGlyphs">50</text>
<text x="211.80" y="345.70" font-size="9.2" text-anchor="start" fill="#1a1a1a" stroke="#1a1a1a" stroke-width="0.18" textLength="14.549999999999999" lengthAdjust="spacingAndGlyphs">100</text>
<text x="211.80" y="307.90" font-size="9.2" text-anchor="start" fill="#1a1a1a" stroke="#1a1a1a" stroke-width="0.18" textLength="14.549999999999999" lengthAdjust="spacingAndGlyphs">150</text>
<line x1="42.40" y1="418.10" x2="206.00" y2="418.10" stroke="#111" stroke-width="1.25"/>
<line x1="46.60" y1="418.10" x2="46.60" y2="421.70" stroke="#111" stroke-width="0.9"/>
<line x1="50.67" y1="418.10" x2="50.67" y2="420.50" stroke="#111" stroke-width="0.9"/>
<line x1="54.74" y1="418.10" x2="54.74" y2="420.50" stroke="#111" stroke-width="0.9"/>
<line x1="58.81" y1="418.10" x2="58.81" y2="420.50" stroke="#111" stroke-width="0.9"/>
<line x1="62.88" y1="418.10" x2="62.88" y2="420.50" stroke="#111" stroke-width="0.9"/>
<line x1="66.95" y1="418.10" x2="66.95" y2="420.50" stroke="#111" stroke-width="0.9"/>
<line x1="71.02" y1="418.10" x2="71.02" y2="420.50" stroke="#111" stroke-width="0.9"/>
<line x1="75.09" y1="418.10" x2="75.09" y2="420.50" stroke="#111" stroke-width="0.9"/>
<line x1="79.16" y1="418.10" x2="79.16" y2="420.50" stroke="#111" stroke-width="0.9"/>
<line x1="83.23" y1="418.10" x2="83.23" y2="420.50" stroke="#111" stroke-width="0.9"/>
<line x1="87.30" y1="418.10" x2="87.30" y2="421.70" stroke="#111" stroke-width="0.9"/>
<line x1="91.37" y1="418.10" x2="91.37" y2="420.50" stroke="#111" stroke-width="0.9"/>
<line x1="95.44" y1="418.10" x2="95.44" y2="420.50" stroke="#111" stroke-width="0.9"/>
<line x1="99.51" y1="418.10" x2="99.51" y2="420.50" stroke="#111" stroke-width="0.9"/>
<line x1="103.58" y1="418.10" x2="103.58" y2="420.50" stroke="#111" stroke-width="0.9"/>
<line x1="107.65" y1="418.10" x2="107.65" y2="420.50" stroke="#111" stroke-width="0.9"/>
<line x1="111.72" y1="418.10" x2="111.72" y2="420.50" stroke="#111" stroke-width="0.9"/>
<line x1="115.79" y1="418.10" x2="115.79" y2="420.50" stroke="#111" stroke-width="0.9"/>
<line x1="119.86" y1="418.10" x2="119.86" y2="420.50" stroke="#111" stroke-width="0.9"/>
<line x1="123.93" y1="418.10" x2="123.93" y2="420.50" stroke="#111" stroke-width="0.9"/>
<line x1="128.00" y1="418.10" x2="128.00" y2="421.70" stroke="#111" stroke-width="0.9"/>
<line x1="132.07" y1="418.10" x2="132.07" y2="420.50" stroke="#111" stroke-width="0.9"/>
<line x1="136.14" y1="418.10" x2="136.14" y2="420.50" stroke="#111" stroke-width="0.9"/>
<line x1="140.21" y1="418.10" x2="140.21" y2="420.50" stroke="#111" stroke-width="0.9"/>
<line x1="144.28" y1="418.10" x2="144.28" y2="420.50" stroke="#111" stroke-width="0.9"/>
<line x1="148.35" y1="418.10" x2="148.35" y2="420.50" stroke="#111" stroke-width="0.9"/>
<line x1="152.42" y1="418.10" x2="152.42" y2="420.50" stroke="#111" stroke-width="0.9"/>
<line x1="156.49" y1="418.10" x2="156.49" y2="420.50" stroke="#111" stroke-width="0.9"/>
<line x1="160.56" y1="418.10" x2="160.56" y2="420.50" stroke="#111" stroke-width="0.9"/>
<line x1="164.63" y1="418.10" x2="164.63" y2="420.50" stroke="#111" stroke-width="0.9"/>
<line x1="168.70" y1="418.10" x2="168.70" y2="421.70" stroke="#111" stroke-width="0.9"/>
<line x1="172.77" y1="418.10" x2="172.77" y2="420.50" stroke="#111" stroke-width="0.9"/>
<line x1="176.84" y1="418.10" x2="176.84" y2="420.50" stroke="#111" stroke-width="0.9"/>
<line x1="180.91" y1="418.10" x2="180.91" y2="420.50" stroke="#111" stroke-width="0.9"/>
<line x1="184.98" y1="418.10" x2="184.98" y2="420.50" stroke="#111" stroke-width="0.9"/>
<line x1="189.05" y1="418.10" x2="189.05" y2="420.50" stroke="#111" stroke-width="0.9"/>
<line x1="193.12" y1="418.10" x2="193.12" y2="420.50" stroke="#111" stroke-width="0.9"/>
<line x1="197.19" y1="418.10" x2="197.19" y2="420.50" stroke="#111" stroke-width="0.9"/>
<line x1="201.26" y1="418.10" x2="201.26" y2="420.50" stroke="#111" stroke-width="0.9"/>
<line x1="205.33" y1="418.10" x2="205.33" y2="420.50" stroke="#111" stroke-width="0.9"/>
<text x="46.60" y="431.00" font-size="9.4" text-anchor="middle" fill="#1a1a1a" stroke="#1a1a1a" stroke-width="0.18" textLength="4.8" lengthAdjust="spacingAndGlyphs">0</text>
<text x="87.30" y="431.00" font-size="9.4" text-anchor="middle" fill="#1a1a1a" stroke="#1a1a1a" stroke-width="0.18" textLength="9.2" lengthAdjust="spacingAndGlyphs">10</text>
<text x="128.00" y="431.00" font-size="9.4" text-anchor="middle" fill="#1a1a1a" stroke="#1a1a1a" stroke-width="0.18" textLength="9.2" lengthAdjust="spacingAndGlyphs">20</text>
<text x="123.90" y="444.60" font-size="10.6" text-anchor="middle" fill="#1a1a1a" stroke="#1a1a1a" stroke-width="0.18" textLength="83.7" lengthAdjust="spacingAndGlyphs">Days post CAR infusion</text>
<text x="15.00" y="360.30" font-size="10.2" text-anchor="middle" fill="#1a1a1a" stroke="#1a1a1a" stroke-width="0.18" textLength="47.3" lengthAdjust="spacingAndGlyphs" transform="rotate(-90 15.00 360.30)">IFN&#947;(pg/mL)</text>
<text x="232.50" y="361.40" font-size="10.2" text-anchor="middle" fill="#1a1a1a" stroke="#1a1a1a" stroke-width="0.18" textLength="104.5" lengthAdjust="spacingAndGlyphs" transform="rotate(90 232.50 361.40)">IL-6, IL-8 and MIP1a (pg/mL)</text>
<polyline points="46.60,413.70 50.67,413.30 58.81,413.70 66.95,415.20 75.09,410.90 83.23,386.80 91.37,409.70 99.51,412.80 107.65,415.60 132.07,414.50 152.42,414.00 156.49,414.50 160.56,415.70" fill="none" stroke="#1d5b98" stroke-width="1.0" stroke-linejoin="round"/>
<circle cx="46.60" cy="413.70" r="1.0" fill="#1d5b98"/>
<circle cx="50.67" cy="413.30" r="1.0" fill="#1d5b98"/>
<circle cx="58.81" cy="413.70" r="1.0" fill="#1d5b98"/>
<circle cx="66.95" cy="415.20" r="1.0" fill="#1d5b98"/>
<circle cx="75.09" cy="410.90" r="1.0" fill="#1d5b98"/>
<circle cx="83.23" cy="386.80" r="1.0" fill="#1d5b98"/>
<circle cx="91.37" cy="409.70" r="1.0" fill="#1d5b98"/>
<circle cx="99.51" cy="412.80" r="1.0" fill="#1d5b98"/>
<circle cx="107.65" cy="415.60" r="1.0" fill="#1d5b98"/>
<circle cx="132.07" cy="414.50" r="1.0" fill="#1d5b98"/>
<circle cx="152.42" cy="414.00" r="1.0" fill="#1d5b98"/>
<circle cx="156.49" cy="414.50" r="1.0" fill="#1d5b98"/>
<circle cx="160.56" cy="415.70" r="1.0" fill="#1d5b98"/>
<polyline points="46.60,383.10 50.67,380.70 58.81,391.60 66.95,366.80 75.09,362.50 83.23,318.40 91.37,316.50 99.51,370.30 107.65,387.80 132.07,386.90 152.42,375.10 156.49,382.20 160.56,390.20" fill="none" stroke="#d20f2d" stroke-width="1.0" stroke-linejoin="round"/>
<circle cx="46.60" cy="383.10" r="1.1" fill="#d20f2d"/>
<circle cx="50.67" cy="380.70" r="1.1" fill="#d20f2d"/>
<circle cx="58.81" cy="391.60" r="1.1" fill="#d20f2d"/>
<circle cx="66.95" cy="366.80" r="1.1" fill="#d20f2d"/>
<circle cx="75.09" cy="362.50" r="1.1" fill="#d20f2d"/>
<circle cx="83.23" cy="318.40" r="1.1" fill="#d20f2d"/>
<circle cx="91.37" cy="316.50" r="1.1" fill="#d20f2d"/>
<circle cx="99.51" cy="370.30" r="1.1" fill="#d20f2d"/>
<circle cx="107.65" cy="387.80" r="1.1" fill="#d20f2d"/>
<circle cx="132.07" cy="386.90" r="1.1" fill="#d20f2d"/>
<circle cx="152.42" cy="375.10" r="1.1" fill="#d20f2d"/>
<circle cx="156.49" cy="382.20" r="1.1" fill="#d20f2d"/>
<circle cx="160.56" cy="390.20" r="1.1" fill="#d20f2d"/>
<polyline points="46.60,399.60 50.67,399.60 58.81,399.60 66.95,399.60 75.09,391.60 83.23,345.50 91.37,362.50 99.51,381.40 107.65,394.40 132.07,368.50 152.42,334.20 156.49,349.60 160.56,368.50" fill="none" stroke="#4a1872" stroke-width="1.0" stroke-linejoin="round"/>
<circle cx="46.60" cy="399.60" r="1.3" fill="#4a1872"/>
<circle cx="50.67" cy="399.60" r="1.3" fill="#4a1872"/>
<circle cx="58.81" cy="399.60" r="1.3" fill="#4a1872"/>
<circle cx="66.95" cy="399.60" r="1.3" fill="#4a1872"/>
<circle cx="75.09" cy="391.60" r="1.3" fill="#4a1872"/>
<circle cx="83.23" cy="345.50" r="1.3" fill="#4a1872"/>
<circle cx="91.37" cy="362.50" r="1.3" fill="#4a1872"/>
<circle cx="99.51" cy="381.40" r="1.3" fill="#4a1872"/>
<circle cx="107.65" cy="394.40" r="1.3" fill="#4a1872"/>
<circle cx="132.07" cy="368.50" r="1.3" fill="#4a1872"/>
<circle cx="152.42" cy="334.20" r="1.3" fill="#4a1872"/>
<circle cx="156.49" cy="349.60" r="1.3" fill="#4a1872"/>
<circle cx="160.56" cy="368.50" r="1.3" fill="#4a1872"/>
<polyline points="46.60,416.80 50.67,413.30 58.81,413.30 66.95,409.70 75.09,385.00 83.23,311.80 91.37,401.50 99.51,409.00 107.65,408.60 132.07,392.10 152.42,386.60 156.49,391.60 160.56,401.00" fill="none" stroke="#30b04a" stroke-width="1.0" stroke-linejoin="round"/>
<circle cx="46.60" cy="416.80" r="1.1" fill="#30b04a"/>
<circle cx="50.67" cy="413.30" r="1.1" fill="#30b04a"/>
<circle cx="58.81" cy="413.30" r="1.1" fill="#30b04a"/>
<circle cx="66.95" cy="409.70" r="1.1" fill="#30b04a"/>
<circle cx="75.09" cy="385.00" r="1.1" fill="#30b04a"/>
<circle cx="83.23" cy="311.80" r="1.1" fill="#30b04a"/>
<circle cx="91.37" cy="401.50" r="1.1" fill="#30b04a"/>
<circle cx="99.51" cy="409.00" r="1.1" fill="#30b04a"/>
<circle cx="107.65" cy="408.60" r="1.1" fill="#30b04a"/>
<circle cx="132.07" cy="392.10" r="1.1" fill="#30b04a"/>
<circle cx="152.42" cy="386.60" r="1.1" fill="#30b04a"/>
<circle cx="156.49" cy="391.60" r="1.1" fill="#30b04a"/>
<circle cx="160.56" cy="401.00" r="1.1" fill="#30b04a"/>
<line x1="164.40" y1="308.90" x2="171.70" y2="308.90" stroke="#30b04a" stroke-width="1.0"/>
<circle cx="168.05" cy="308.90" r="1.35" fill="#30b04a"/>
<text x="174.10" y="311.65" font-size="8.4" text-anchor="start" fill="#1a1a1a" stroke="#1a1a1a" stroke-width="0.18" textLength="19.8" lengthAdjust="spacingAndGlyphs">IFN-y</text>
<line x1="164.40" y1="319.20" x2="171.70" y2="319.20" stroke="#4a1872" stroke-width="1.0"/>
<circle cx="168.05" cy="319.20" r="1.35" fill="#4a1872"/>
<text x="174.10" y="321.95" font-size="8.4" text-anchor="start" fill="#1a1a1a" stroke="#1a1a1a" stroke-width="0.18" textLength="27.1" lengthAdjust="spacingAndGlyphs">MIP-1&#945;</text>
<line x1="164.40" y1="329.10" x2="171.70" y2="329.10" stroke="#1d5b98" stroke-width="1.0"/>
<circle cx="168.05" cy="329.10" r="1.35" fill="#1d5b98"/>
<text x="174.10" y="331.85" font-size="8.4" text-anchor="start" fill="#1a1a1a" stroke="#1a1a1a" stroke-width="0.18" textLength="12.9" lengthAdjust="spacingAndGlyphs">IL-6</text>
<line x1="164.40" y1="339.00" x2="171.70" y2="339.00" stroke="#d20f2d" stroke-width="1.0"/>
<circle cx="168.05" cy="339.00" r="1.35" fill="#d20f2d"/>
<text x="174.10" y="341.75" font-size="8.4" text-anchor="start" fill="#1a1a1a" stroke="#1a1a1a" stroke-width="0.18" textLength="12.9" lengthAdjust="spacingAndGlyphs">IL-8</text>
<line x1="302.70" y1="305.00" x2="302.70" y2="418.20" stroke="#111" stroke-width="1.1"/>
<line x1="299.50" y1="418.20" x2="302.70" y2="418.20" stroke="#111" stroke-width="1"/>
<line x1="302.70" y1="415.37" x2="304.60" y2="415.37" stroke="#111" stroke-width="0.8"/>
<line x1="302.70" y1="412.54" x2="304.60" y2="412.54" stroke="#111" stroke-width="0.8"/>
<line x1="302.70" y1="409.71" x2="304.60" y2="409.71" stroke="#111" stroke-width="0.8"/>
<line x1="302.70" y1="406.88" x2="304.60" y2="406.88" stroke="#111" stroke-width="0.8"/>
<line x1="302.70" y1="404.05" x2="304.60" y2="404.05" stroke="#111" stroke-width="0.8"/>
<line x1="302.70" y1="401.22" x2="304.60" y2="401.22" stroke="#111" stroke-width="0.8"/>
<line x1="302.70" y1="398.39" x2="304.60" y2="398.39" stroke="#111" stroke-width="0.8"/>
<line x1="302.70" y1="395.56" x2="304.60" y2="395.56" stroke="#111" stroke-width="0.8"/>
<line x1="302.70" y1="392.73" x2="304.60" y2="392.73" stroke="#111" stroke-width="0.8"/>
<line x1="299.50" y1="389.90" x2="302.70" y2="389.90" stroke="#111" stroke-width="1"/>
<line x1="302.70" y1="387.07" x2="304.60" y2="387.07" stroke="#111" stroke-width="0.8"/>
<line x1="302.70" y1="384.24" x2="304.60" y2="384.24" stroke="#111" stroke-width="0.8"/>
<line x1="302.70" y1="381.41" x2="304.60" y2="381.41" stroke="#111" stroke-width="0.8"/>
<line x1="302.70" y1="378.58" x2="304.60" y2="378.58" stroke="#111" stroke-width="0.8"/>
<line x1="302.70" y1="375.75" x2="304.60" y2="375.75" stroke="#111" stroke-width="0.8"/>
<line x1="302.70" y1="372.92" x2="304.60" y2="372.92" stroke="#111" stroke-width="0.8"/>
<line x1="302.70" y1="370.09" x2="304.60" y2="370.09" stroke="#111" stroke-width="0.8"/>
<line x1="302.70" y1="367.26" x2="304.60" y2="367.26" stroke="#111" stroke-width="0.8"/>
<line x1="302.70" y1="364.43" x2="304.60" y2="364.43" stroke="#111" stroke-width="0.8"/>
<line x1="299.50" y1="361.60" x2="302.70" y2="361.60" stroke="#111" stroke-width="1"/>
<line x1="302.70" y1="358.77" x2="304.60" y2="358.77" stroke="#111" stroke-width="0.8"/>
<line x1="302.70" y1="355.94" x2="304.60" y2="355.94" stroke="#111" stroke-width="0.8"/>
<line x1="302.70" y1="353.11" x2="304.60" y2="353.11" stroke="#111" stroke-width="0.8"/>
<line x1="302.70" y1="350.28" x2="304.60" y2="350.28" stroke="#111" stroke-width="0.8"/>
<line x1="302.70" y1="347.45" x2="304.60" y2="347.45" stroke="#111" stroke-width="0.8"/>
<line x1="302.70" y1="344.62" x2="304.60" y2="344.62" stroke="#111" stroke-width="0.8"/>
<line x1="302.70" y1="341.79" x2="304.60" y2="341.79" stroke="#111" stroke-width="0.8"/>
<line x1="302.70" y1="338.96" x2="304.60" y2="338.96" stroke="#111" stroke-width="0.8"/>
<line x1="302.70" y1="336.13" x2="304.60" y2="336.13" stroke="#111" stroke-width="0.8"/>
<line x1="299.50" y1="333.30" x2="302.70" y2="333.30" stroke="#111" stroke-width="1"/>
<line x1="302.70" y1="330.47" x2="304.60" y2="330.47" stroke="#111" stroke-width="0.8"/>
<line x1="302.70" y1="327.64" x2="304.60" y2="327.64" stroke="#111" stroke-width="0.8"/>
<line x1="302.70" y1="324.81" x2="304.60" y2="324.81" stroke="#111" stroke-width="0.8"/>
<line x1="302.70" y1="321.98" x2="304.60" y2="321.98" stroke="#111" stroke-width="0.8"/>
<line x1="302.70" y1="319.15" x2="304.60" y2="319.15" stroke="#111" stroke-width="0.8"/>
<line x1="302.70" y1="316.32" x2="304.60" y2="316.32" stroke="#111" stroke-width="0.8"/>
<line x1="302.70" y1="313.49" x2="304.60" y2="313.49" stroke="#111" stroke-width="0.8"/>
<line x1="302.70" y1="310.66" x2="304.60" y2="310.66" stroke="#111" stroke-width="0.8"/>
<line x1="302.70" y1="307.83" x2="304.60" y2="307.83" stroke="#111" stroke-width="0.8"/>
<line x1="299.50" y1="305.00" x2="302.70" y2="305.00" stroke="#111" stroke-width="1"/>
<text x="297.00" y="421.50" font-size="9.2" text-anchor="end" fill="#1a1a1a" stroke="#1a1a1a" stroke-width="0.18" textLength="4.75" lengthAdjust="spacingAndGlyphs">0</text>
<text x="297.00" y="393.20" font-size="9.2" text-anchor="end" fill="#1a1a1a" stroke="#1a1a1a" stroke-width="0.18" textLength="19.0" lengthAdjust="spacingAndGlyphs">1000</text>
<text x="297.00" y="364.80" font-size="9.2" text-anchor="end" fill="#1a1a1a" stroke="#1a1a1a" stroke-width="0.18" textLength="19.0" lengthAdjust="spacingAndGlyphs">2000</text>
<text x="297.00" y="336.50" font-size="9.2" text-anchor="end" fill="#1a1a1a" stroke="#1a1a1a" stroke-width="0.18" textLength="19.0" lengthAdjust="spacingAndGlyphs">3000</text>
<text x="297.00" y="308.30" font-size="9.2" text-anchor="end" fill="#1a1a1a" stroke="#1a1a1a" stroke-width="0.18" textLength="19.0" lengthAdjust="spacingAndGlyphs">4000</text>
<line x1="465.60" y1="305.00" x2="465.60" y2="418.20" stroke="#111" stroke-width="1.25"/>
<line x1="465.60" y1="418.20" x2="468.80" y2="418.20" stroke="#111" stroke-width="1"/>
<text x="471.80" y="421.50" font-size="9.2" text-anchor="start" fill="#1a1a1a" stroke="#1a1a1a" stroke-width="0.18" textLength="4.72" lengthAdjust="spacingAndGlyphs">0</text>
<line x1="465.60" y1="395.60" x2="468.80" y2="395.60" stroke="#111" stroke-width="1"/>
<text x="471.80" y="398.90" font-size="9.2" text-anchor="start" fill="#1a1a1a" stroke="#1a1a1a" stroke-width="0.18" textLength="9.44" lengthAdjust="spacingAndGlyphs">50</text>
<line x1="465.60" y1="373.00" x2="468.80" y2="373.00" stroke="#111" stroke-width="1"/>
<text x="471.80" y="376.30" font-size="9.2" text-anchor="start" fill="#1a1a1a" stroke="#1a1a1a" stroke-width="0.18" textLength="14.16" lengthAdjust="spacingAndGlyphs">100</text>
<line x1="465.60" y1="350.30" x2="468.80" y2="350.30" stroke="#111" stroke-width="1"/>
<text x="471.80" y="353.60" font-size="9.2" text-anchor="start" fill="#1a1a1a" stroke="#1a1a1a" stroke-width="0.18" textLength="14.16" lengthAdjust="spacingAndGlyphs">150</text>
<line x1="465.60" y1="327.60" x2="468.80" y2="327.60" stroke="#111" stroke-width="1"/>
<text x="471.80" y="330.90" font-size="9.2" text-anchor="start" fill="#1a1a1a" stroke="#1a1a1a" stroke-width="0.18" textLength="14.16" lengthAdjust="spacingAndGlyphs">200</text>
<line x1="465.60" y1="305.00" x2="468.80" y2="305.00" stroke="#111" stroke-width="1"/>
<text x="471.80" y="308.30" font-size="9.2" text-anchor="start" fill="#1a1a1a" stroke="#1a1a1a" stroke-width="0.18" textLength="14.16" lengthAdjust="spacingAndGlyphs">250</text>
<line x1="302.70" y1="418.20" x2="465.60" y2="418.20" stroke="#111" stroke-width="1.25"/>
<line x1="306.80" y1="418.20" x2="306.80" y2="421.80" stroke="#111" stroke-width="0.9"/>
<line x1="310.87" y1="418.20" x2="310.87" y2="420.60" stroke="#111" stroke-width="0.9"/>
<line x1="314.94" y1="418.20" x2="314.94" y2="420.60" stroke="#111" stroke-width="0.9"/>
<line x1="319.01" y1="418.20" x2="319.01" y2="420.60" stroke="#111" stroke-width="0.9"/>
<line x1="323.08" y1="418.20" x2="323.08" y2="420.60" stroke="#111" stroke-width="0.9"/>
<line x1="327.15" y1="418.20" x2="327.15" y2="420.60" stroke="#111" stroke-width="0.9"/>
<line x1="331.22" y1="418.20" x2="331.22" y2="420.60" stroke="#111" stroke-width="0.9"/>
<line x1="335.29" y1="418.20" x2="335.29" y2="420.60" stroke="#111" stroke-width="0.9"/>
<line x1="339.36" y1="418.20" x2="339.36" y2="420.60" stroke="#111" stroke-width="0.9"/>
<line x1="343.43" y1="418.20" x2="343.43" y2="420.60" stroke="#111" stroke-width="0.9"/>
<line x1="347.50" y1="418.20" x2="347.50" y2="421.80" stroke="#111" stroke-width="0.9"/>
<line x1="351.57" y1="418.20" x2="351.57" y2="420.60" stroke="#111" stroke-width="0.9"/>
<line x1="355.64" y1="418.20" x2="355.64" y2="420.60" stroke="#111" stroke-width="0.9"/>
<line x1="359.71" y1="418.20" x2="359.71" y2="420.60" stroke="#111" stroke-width="0.9"/>
<line x1="363.78" y1="418.20" x2="363.78" y2="420.60" stroke="#111" stroke-width="0.9"/>
<line x1="367.85" y1="418.20" x2="367.85" y2="420.60" stroke="#111" stroke-width="0.9"/>
<line x1="371.92" y1="418.20" x2="371.92" y2="420.60" stroke="#111" stroke-width="0.9"/>
<line x1="375.99" y1="418.20" x2="375.99" y2="420.60" stroke="#111" stroke-width="0.9"/>
<line x1="380.06" y1="418.20" x2="380.06" y2="420.60" stroke="#111" stroke-width="0.9"/>
<line x1="384.13" y1="418.20" x2="384.13" y2="420.60" stroke="#111" stroke-width="0.9"/>
<line x1="388.20" y1="418.20" x2="388.20" y2="421.80" stroke="#111" stroke-width="0.9"/>
<line x1="392.27" y1="418.20" x2="392.27" y2="420.60" stroke="#111" stroke-width="0.9"/>
<line x1="396.34" y1="418.20" x2="396.34" y2="420.60" stroke="#111" stroke-width="0.9"/>
<line x1="400.41" y1="418.20" x2="400.41" y2="420.60" stroke="#111" stroke-width="0.9"/>
<line x1="404.48" y1="418.20" x2="404.48" y2="420.60" stroke="#111" stroke-width="0.9"/>
<line x1="408.55" y1="418.20" x2="408.55" y2="420.60" stroke="#111" stroke-width="0.9"/>
<line x1="412.62" y1="418.20" x2="412.62" y2="420.60" stroke="#111" stroke-width="0.9"/>
<line x1="416.69" y1="418.20" x2="416.69" y2="420.60" stroke="#111" stroke-width="0.9"/>
<line x1="420.76" y1="418.20" x2="420.76" y2="420.60" stroke="#111" stroke-width="0.9"/>
<line x1="424.83" y1="418.20" x2="424.83" y2="420.60" stroke="#111" stroke-width="0.9"/>
<line x1="428.90" y1="418.20" x2="428.90" y2="421.80" stroke="#111" stroke-width="0.9"/>
<line x1="432.97" y1="418.20" x2="432.97" y2="420.60" stroke="#111" stroke-width="0.9"/>
<line x1="437.04" y1="418.20" x2="437.04" y2="420.60" stroke="#111" stroke-width="0.9"/>
<line x1="441.11" y1="418.20" x2="441.11" y2="420.60" stroke="#111" stroke-width="0.9"/>
<line x1="445.18" y1="418.20" x2="445.18" y2="420.60" stroke="#111" stroke-width="0.9"/>
<line x1="449.25" y1="418.20" x2="449.25" y2="420.60" stroke="#111" stroke-width="0.9"/>
<line x1="453.32" y1="418.20" x2="453.32" y2="420.60" stroke="#111" stroke-width="0.9"/>
<line x1="457.39" y1="418.20" x2="457.39" y2="420.60" stroke="#111" stroke-width="0.9"/>
<line x1="461.46" y1="418.20" x2="461.46" y2="420.60" stroke="#111" stroke-width="0.9"/>
<line x1="465.53" y1="418.20" x2="465.53" y2="420.60" stroke="#111" stroke-width="0.9"/>
<text x="306.80" y="431.00" font-size="9.4" text-anchor="middle" fill="#1a1a1a" stroke="#1a1a1a" stroke-width="0.18" textLength="4.8" lengthAdjust="spacingAndGlyphs">0</text>
<text x="347.50" y="431.00" font-size="9.4" text-anchor="middle" fill="#1a1a1a" stroke="#1a1a1a" stroke-width="0.18" textLength="9.2" lengthAdjust="spacingAndGlyphs">10</text>
<text x="388.20" y="431.00" font-size="9.4" text-anchor="middle" fill="#1a1a1a" stroke="#1a1a1a" stroke-width="0.18" textLength="9.2" lengthAdjust="spacingAndGlyphs">20</text>
<text x="383.80" y="444.60" font-size="10.6" text-anchor="middle" fill="#1a1a1a" stroke="#1a1a1a" stroke-width="0.18" textLength="83.7" lengthAdjust="spacingAndGlyphs">Days post CAR infusion</text>
<text x="270.40" y="361.30" font-size="10.2" text-anchor="middle" fill="#1a1a1a" stroke="#1a1a1a" stroke-width="0.18" textLength="47.0" lengthAdjust="spacingAndGlyphs" transform="rotate(-90 270.40 361.30)">IFN&#947;(pg/mL)</text>
<text x="491.50" y="361.40" font-size="10.2" text-anchor="middle" fill="#1a1a1a" stroke="#1a1a1a" stroke-width="0.18" textLength="104.5" lengthAdjust="spacingAndGlyphs" transform="rotate(90 491.50 361.40)">IL-6, IL-8 and MIP1a (pg/mL)</text>
<polyline points="306.80,417.50 310.87,417.50 319.01,417.50 327.15,417.50 331.22,417.30 335.29,417.30 339.36,417.30 343.43,417.00 347.50,398.40 351.57,402.80 355.64,408.20 359.71,407.00 363.78,401.10 367.85,375.70 371.92,362.50 375.99,335.10 380.06,366.90 384.13,392.00 388.20,400.90 408.55,416.70" fill="none" stroke="#30b04a" stroke-width="1.0" stroke-linejoin="round"/>
<circle cx="306.80" cy="417.50" r="1.1" fill="#30b04a"/>
<circle cx="310.87" cy="417.50" r="1.1" fill="#30b04a"/>
<circle cx="319.01" cy="417.50" r="1.1" fill="#30b04a"/>
<circle cx="327.15" cy="417.50" r="1.1" fill="#30b04a"/>
<circle cx="331.22" cy="417.30" r="1.1" fill="#30b04a"/>
<circle cx="335.29" cy="417.30" r="1.1" fill="#30b04a"/>
<circle cx="339.36" cy="417.30" r="1.1" fill="#30b04a"/>
<circle cx="343.43" cy="417.00" r="1.1" fill="#30b04a"/>
<circle cx="347.50" cy="398.40" r="1.1" fill="#30b04a"/>
<circle cx="351.57" cy="402.80" r="1.1" fill="#30b04a"/>
<circle cx="355.64" cy="408.20" r="1.1" fill="#30b04a"/>
<circle cx="359.71" cy="407.00" r="1.1" fill="#30b04a"/>
<circle cx="363.78" cy="401.10" r="1.1" fill="#30b04a"/>
<circle cx="367.85" cy="375.70" r="1.1" fill="#30b04a"/>
<circle cx="371.92" cy="362.50" r="1.1" fill="#30b04a"/>
<circle cx="375.99" cy="335.10" r="1.1" fill="#30b04a"/>
<circle cx="380.06" cy="366.90" r="1.1" fill="#30b04a"/>
<circle cx="384.13" cy="392.00" r="1.1" fill="#30b04a"/>
<circle cx="388.20" cy="400.90" r="1.1" fill="#30b04a"/>
<circle cx="408.55" cy="416.70" r="1.1" fill="#30b04a"/>
<polyline points="306.80,415.90 310.87,415.90 319.01,415.90 327.15,415.20 331.22,416.70 335.29,417.10 339.36,415.90 343.43,415.60 347.50,383.60 351.57,410.10 355.64,405.70 359.71,410.70 363.78,412.80 367.85,412.80 371.92,413.80 375.99,412.80 380.06,414.70 384.13,415.90 388.20,416.20 408.55,417.30" fill="none" stroke="#1d5b98" stroke-width="1.0" stroke-linejoin="round"/>
<circle cx="306.80" cy="415.90" r="1.0" fill="#1d5b98"/>
<circle cx="310.87" cy="415.90" r="1.0" fill="#1d5b98"/>
<circle cx="319.01" cy="415.90" r="1.0" fill="#1d5b98"/>
<circle cx="327.15" cy="415.20" r="1.0" fill="#1d5b98"/>
<circle cx="331.22" cy="416.70" r="1.0" fill="#1d5b98"/>
<circle cx="335.29" cy="417.10" r="1.0" fill="#1d5b98"/>
<circle cx="339.36" cy="415.90" r="1.0" fill="#1d5b98"/>
<circle cx="343.43" cy="415.60" r="1.0" fill="#1d5b98"/>
<circle cx="347.50" cy="383.60" r="1.0" fill="#1d5b98"/>
<circle cx="351.57" cy="410.10" r="1.0" fill="#1d5b98"/>
<circle cx="355.64" cy="405.70" r="1.0" fill="#1d5b98"/>
<circle cx="359.71" cy="410.70" r="1.0" fill="#1d5b98"/>
<circle cx="363.78" cy="412.80" r="1.0" fill="#1d5b98"/>
<circle cx="367.85" cy="412.80" r="1.0" fill="#1d5b98"/>
<circle cx="371.92" cy="413.80" r="1.0" fill="#1d5b98"/>
<circle cx="375.99" cy="412.80" r="1.0" fill="#1d5b98"/>
<circle cx="380.06" cy="414.70" r="1.0" fill="#1d5b98"/>
<circle cx="384.13" cy="415.90" r="1.0" fill="#1d5b98"/>
<circle cx="388.20" cy="416.20" r="1.0" fill="#1d5b98"/>
<circle cx="408.55" cy="417.30" r="1.0" fill="#1d5b98"/>
<polyline points="306.80,412.40 310.87,411.70 319.01,410.50 327.15,407.40 331.22,410.50 335.29,408.20 339.36,390.60 343.43,394.90 347.50,322.30 351.57,386.80 355.64,379.40 359.71,395.60 363.78,393.60 367.85,399.20 371.92,396.40 375.99,378.10 380.06,375.50 384.13,377.00 388.20,367.50 408.55,407.70" fill="none" stroke="#d20f2d" stroke-width="1.0" stroke-linejoin="round"/>
<circle cx="306.80" cy="412.40" r="1.1" fill="#d20f2d"/>
<circle cx="310.87" cy="411.70" r="1.1" fill="#d20f2d"/>
<circle cx="319.01" cy="410.50" r="1.1" fill="#d20f2d"/>
<circle cx="327.15" cy="407.40" r="1.1" fill="#d20f2d"/>
<circle cx="331.22" cy="410.50" r="1.1" fill="#d20f2d"/>
<circle cx="335.29" cy="408.20" r="1.1" fill="#d20f2d"/>
<circle cx="339.36" cy="390.60" r="1.1" fill="#d20f2d"/>
<circle cx="343.43" cy="394.90" r="1.1" fill="#d20f2d"/>
<circle cx="347.50" cy="322.30" r="1.1" fill="#d20f2d"/>
<circle cx="351.57" cy="386.80" r="1.1" fill="#d20f2d"/>
<circle cx="355.64" cy="379.40" r="1.1" fill="#d20f2d"/>
<circle cx="359.71" cy="395.60" r="1.1" fill="#d20f2d"/>
<circle cx="363.78" cy="393.60" r="1.1" fill="#d20f2d"/>
<circle cx="367.85" cy="399.20" r="1.1" fill="#d20f2d"/>
<circle cx="371.92" cy="396.40" r="1.1" fill="#d20f2d"/>
<circle cx="375.99" cy="378.10" r="1.1" fill="#d20f2d"/>
<circle cx="380.06" cy="375.50" r="1.1" fill="#d20f2d"/>
<circle cx="384.13" cy="377.00" r="1.1" fill="#d20f2d"/>
<circle cx="388.20" cy="367.50" r="1.1" fill="#d20f2d"/>
<circle cx="408.55" cy="407.70" r="1.1" fill="#d20f2d"/>
<polyline points="306.80,407.70 310.87,407.70 319.01,407.70 327.15,407.70 331.22,407.70 335.29,404.70 339.36,400.70 343.43,394.50 347.50,357.40 351.57,383.00 355.64,397.50 359.71,395.30 363.78,380.80 367.85,380.00 371.92,368.10 375.99,337.40 380.06,348.10 384.13,351.10 388.20,348.10 408.55,390.20" fill="none" stroke="#4a1872" stroke-width="1.0" stroke-linejoin="round"/>
<circle cx="306.80" cy="407.70" r="1.3" fill="#4a1872"/>
<circle cx="310.87" cy="407.70" r="1.3" fill="#4a1872"/>
<circle cx="319.01" cy="407.70" r="1.3" fill="#4a1872"/>
<circle cx="327.15" cy="407.70" r="1.3" fill="#4a1872"/>
<circle cx="331.22" cy="407.70" r="1.3" fill="#4a1872"/>
<circle cx="335.29" cy="404.70" r="1.3" fill="#4a1872"/>
<circle cx="339.36" cy="400.70" r="1.3" fill="#4a1872"/>
<circle cx="343.43" cy="394.50" r="1.3" fill="#4a1872"/>
<circle cx="347.50" cy="357.40" r="1.3" fill="#4a1872"/>
<circle cx="351.57" cy="383.00" r="1.3" fill="#4a1872"/>
<circle cx="355.64" cy="397.50" r="1.3" fill="#4a1872"/>
<circle cx="359.71" cy="395.30" r="1.3" fill="#4a1872"/>
<circle cx="363.78" cy="380.80" r="1.3" fill="#4a1872"/>
<circle cx="367.85" cy="380.00" r="1.3" fill="#4a1872"/>
<circle cx="371.92" cy="368.10" r="1.3" fill="#4a1872"/>
<circle cx="375.99" cy="337.40" r="1.3" fill="#4a1872"/>
<circle cx="380.06" cy="348.10" r="1.3" fill="#4a1872"/>
<circle cx="384.13" cy="351.10" r="1.3" fill="#4a1872"/>
<circle cx="388.20" cy="348.10" r="1.3" fill="#4a1872"/>
<circle cx="408.55" cy="390.20" r="1.3" fill="#4a1872"/>
<line x1="424.20" y1="309.40" x2="431.40" y2="309.40" stroke="#30b04a" stroke-width="1.0"/>
<circle cx="427.80" cy="309.40" r="1.35" fill="#30b04a"/>
<text x="433.80" y="312.15" font-size="8.4" text-anchor="start" fill="#1a1a1a" stroke="#1a1a1a" stroke-width="0.18" textLength="19.8" lengthAdjust="spacingAndGlyphs">IFN-y</text>
<line x1="424.20" y1="319.20" x2="431.40" y2="319.20" stroke="#d20f2d" stroke-width="1.0"/>
<circle cx="427.80" cy="319.20" r="1.35" fill="#d20f2d"/>
<text x="433.80" y="321.95" font-size="8.4" text-anchor="start" fill="#1a1a1a" stroke="#1a1a1a" stroke-width="0.18" textLength="12.9" lengthAdjust="spacingAndGlyphs">IL-8</text>
<line x1="424.20" y1="328.80" x2="431.40" y2="328.80" stroke="#1d5b98" stroke-width="1.0"/>
<circle cx="427.80" cy="328.80" r="1.35" fill="#1d5b98"/>
<text x="433.80" y="331.55" font-size="8.4" text-anchor="start" fill="#1a1a1a" stroke="#1a1a1a" stroke-width="0.18" textLength="12.9" lengthAdjust="spacingAndGlyphs">IL-6</text>
<line x1="424.20" y1="338.40" x2="431.40" y2="338.40" stroke="#4a1872" stroke-width="1.0"/>
<circle cx="427.80" cy="338.40" r="1.35" fill="#4a1872"/>
<text x="433.80" y="341.15" font-size="8.4" text-anchor="start" fill="#1a1a1a" stroke="#1a1a1a" stroke-width="0.18" textLength="27.1" lengthAdjust="spacingAndGlyphs">MIP-1&#945;</text>
<filter id="pb" x="-5%" y="-5%" width="110%" height="110%"><feGaussianBlur stdDeviation="0.4"/></filter>
<clipPath id="c1"><rect x="24.0" y="451.0" width="98.8" height="71.79999999999995"/></clipPath>
<g clip-path="url(#c1)"><g filter="url(#pb)">
<rect x="24.0" y="451.0" width="98.8" height="71.79999999999995" fill="#d3d0d3"/>
<path d="M42.5,474 C43,469 47,467.5 51,468.5 C56,468 59.5,471 59.5,476 C60,481 57,484.5 52,484 C47,485 42,481 42.5,474 Z" fill="#a49cd8" opacity="0.9"/>
<path d="M83.5,496 C84,492 87,491 91,491.5 C95,491.5 97.5,494 97.5,498 C97.5,502 94,504 90,503.5 C86,503.5 83,500.5 83.5,496 Z" fill="#a69ed8" opacity="0.9"/>
<circle cx="46.8" cy="476.8" r="0.68" fill="#6a4cb8"/>
<circle cx="52.3" cy="477.8" r="0.53" fill="#6a4cb8"/>
<circle cx="43.4" cy="480.6" r="0.63" fill="#6a4cb8"/>
<circle cx="46.7" cy="482.6" r="0.74" fill="#6a4cb8"/>
<circle cx="55.7" cy="475.9" r="0.82" fill="#6a4cb8"/>
<circle cx="45.5" cy="478.0" r="0.93" fill="#6a4cb8"/>
<circle cx="51.0" cy="479.3" r="0.84" fill="#6a4cb8"/>
<circle cx="44.2" cy="479.6" r="0.80" fill="#6a4cb8"/>
<circle cx="47.7" cy="470.1" r="0.93" fill="#6a4cb8"/>
<circle cx="50.3" cy="479.0" r="0.94" fill="#6a4cb8"/>
<circle cx="53.9" cy="481.7" r="0.70" fill="#6a4cb8"/>
<circle cx="55.2" cy="475.5" r="0.97" fill="#6a4cb8"/>
<circle cx="56.4" cy="471.0" r="0.57" fill="#6a4cb8"/>
<circle cx="46.5" cy="482.3" r="0.72" fill="#6a4cb8"/>
<circle cx="52.6" cy="473.6" r="0.75" fill="#6a4cb8"/>
<circle cx="49.0" cy="474.3" r="0.79" fill="#6a4cb8"/>
<circle cx="52.0" cy="481.5" r="0.84" fill="#6a4cb8"/>
<circle cx="57.1" cy="480.8" r="1.00" fill="#6a4cb8"/>
<circle cx="53.3" cy="471.8" r="0.93" fill="#6a4cb8"/>
<circle cx="57.7" cy="481.5" r="0.78" fill="#6a4cb8"/>
<circle cx="53.9" cy="472.4" r="0.92" fill="#6a4cb8"/>
<circle cx="51.8" cy="473.4" r="0.53" fill="#6a4cb8"/>
<circle cx="56.0" cy="482.6" r="0.54" fill="#6a4cb8"/>
<circle cx="55.2" cy="475.0" r="0.58" fill="#6a4cb8"/>
<circle cx="47.6" cy="479.7" r="0.94" fill="#6a4cb8"/>
<circle cx="43.9" cy="477.7" r="0.52" fill="#6a4cb8"/>
<circle cx="93.0" cy="496.1" r="0.94" fill="#6a4cb8"/>
<circle cx="96.2" cy="497.9" r="1.00" fill="#6a4cb8"/>
<circle cx="88.1" cy="493.6" r="0.80" fill="#6a4cb8"/>
<circle cx="84.8" cy="494.8" r="0.70" fill="#6a4cb8"/>
<circle cx="91.7" cy="494.4" r="0.52" fill="#6a4cb8"/>
<circle cx="94.8" cy="495.9" r="0.98" fill="#6a4cb8"/>
<circle cx="95.2" cy="496.6" r="0.73" fill="#6a4cb8"/>
<circle cx="90.6" cy="499.2" r="0.80" fill="#6a4cb8"/>
<circle cx="91.1" cy="499.0" r="0.97" fill="#6a4cb8"/>
<circle cx="90.5" cy="497.1" r="0.86" fill="#6a4cb8"/>
<circle cx="87.3" cy="495.8" r="0.99" fill="#6a4cb8"/>
<circle cx="90.7" cy="498.3" r="0.51" fill="#6a4cb8"/>
<circle cx="89.4" cy="498.6" r="0.51" fill="#6a4cb8"/>
<circle cx="91.8" cy="499.1" r="0.53" fill="#6a4cb8"/>
<circle cx="91.9" cy="497.5" r="0.84" fill="#6a4cb8"/>
<circle cx="88.6" cy="499.9" r="0.87" fill="#6a4cb8"/>
<circle cx="84.7" cy="493.4" r="0.84" fill="#6a4cb8"/>
<circle cx="96.0" cy="495.3" r="0.73" fill="#6a4cb8"/>
<circle cx="91.5" cy="496.0" r="0.68" fill="#6a4cb8"/>
<circle cx="88.2" cy="496.5" r="0.80" fill="#6a4cb8"/>
<ellipse cx="52.2" cy="472.6" rx="5.4" ry="4.4" fill="#8424b0"/>
<ellipse cx="88.6" cy="492.4" rx="4.3" ry="3.4" fill="#8c22b4"/>
<circle cx="26.4" cy="452" r="2.31" fill="#804c76" stroke="#663060" stroke-width="0.7"/>
<circle cx="35.1" cy="451.5" r="2.45" fill="#784270" stroke="#663060" stroke-width="0.7"/>
<circle cx="47.6" cy="451.5" r="2.31" fill="#804c76" stroke="#663060" stroke-width="0.7"/>
<circle cx="50.4" cy="451.5" r="2.22" fill="#804c76" stroke="#663060" stroke-width="0.7"/>
<circle cx="72.6" cy="451.5" r="2.32" fill="#804c76" stroke="#663060" stroke-width="0.7"/>
<circle cx="26.7" cy="456.8" r="2.43" fill="#c49fbb"/>
<circle cx="43.7" cy="455" r="2.18" fill="#8a5680" stroke="#663060" stroke-width="0.7"/>
<circle cx="32.2" cy="463" r="2.20" fill="#804c76" stroke="#663060" stroke-width="0.7"/>
<circle cx="38.9" cy="461.8" r="2.43" fill="#7c4670" stroke="#663060" stroke-width="0.7"/>
<circle cx="44.2" cy="463" r="2.36" fill="#784270" stroke="#663060" stroke-width="0.7"/>
<circle cx="44.2" cy="466.4" r="2.49" fill="#804c76" stroke="#663060" stroke-width="0.7"/>
<circle cx="46.6" cy="468.8" r="2.38" fill="#804c76" stroke="#663060" stroke-width="0.7"/>
<circle cx="37.5" cy="466.9" r="2.16" fill="#804c76" stroke="#663060" stroke-width="0.7"/>
<circle cx="34.1" cy="471.2" r="2.17" fill="#7c4670" stroke="#663060" stroke-width="0.7"/>
<circle cx="31.2" cy="471.2" r="2.22" fill="#84507a" stroke="#663060" stroke-width="0.7"/>
<circle cx="37.5" cy="473.6" r="2.36" fill="#784270" stroke="#663060" stroke-width="0.7"/>
<circle cx="41.8" cy="470.7" r="2.26" fill="#804c76" stroke="#663060" stroke-width="0.7"/>
<circle cx="64.9" cy="459.2" r="2.44" fill="#804c76" stroke="#663060" stroke-width="0.7"/>
<circle cx="67.8" cy="463" r="2.23" fill="#8a5680" stroke="#663060" stroke-width="0.7"/>
<circle cx="64.4" cy="466.9" r="2.32" fill="#7c4670" stroke="#663060" stroke-width="0.7"/>
<circle cx="60.5" cy="469.3" r="2.31" fill="#8a5680" stroke="#663060" stroke-width="0.7"/>
<circle cx="63.4" cy="471.7" r="2.29" fill="#804c76" stroke="#663060" stroke-width="0.7"/>
<circle cx="35.1" cy="479.8" r="2.50" fill="#7c4670" stroke="#663060" stroke-width="0.7"/>
<circle cx="39.4" cy="478.9" r="2.40" fill="#8a5680" stroke="#663060" stroke-width="0.7"/>
<circle cx="41.3" cy="482.7" r="2.42" fill="#804c76" stroke="#663060" stroke-width="0.7"/>
<circle cx="30.7" cy="485.1" r="2.25" fill="#7c4670" stroke="#663060" stroke-width="0.7"/>
<circle cx="36.5" cy="485.6" r="2.35" fill="#7c4670" stroke="#663060" stroke-width="0.7"/>
<circle cx="25" cy="476" r="2.29" fill="#c49fbb"/>
<circle cx="59.6" cy="475" r="2.45" fill="#784270" stroke="#663060" stroke-width="0.7"/>
<circle cx="60.5" cy="480.8" r="2.17" fill="#7c4670" stroke="#663060" stroke-width="0.7"/>
<circle cx="62" cy="484.7" r="2.45" fill="#7c4670" stroke="#663060" stroke-width="0.7"/>
<circle cx="73" cy="473.6" r="2.22" fill="#c49fbb"/>
<circle cx="81.7" cy="452" r="2.47" fill="#7c4670" stroke="#663060" stroke-width="0.7"/>
<circle cx="90.8" cy="454.4" r="2.31" fill="#784270" stroke="#663060" stroke-width="0.7"/>
<circle cx="96.1" cy="453.4" r="2.30" fill="#804c76" stroke="#663060" stroke-width="0.7"/>
<circle cx="99.5" cy="452.4" r="2.37" fill="#8a5680" stroke="#663060" stroke-width="0.7"/>
<circle cx="88.4" cy="458.2" r="2.27" fill="#c49fbb"/>
<circle cx="93.2" cy="457.7" r="2.26" fill="#7c4670" stroke="#663060" stroke-width="0.7"/>
<circle cx="98.5" cy="459.2" r="2.49" fill="#7c4670" stroke="#663060" stroke-width="0.7"/>
<circle cx="108.6" cy="454.4" r="2.20" fill="#7c4670" stroke="#663060" stroke-width="0.7"/>
<circle cx="115.3" cy="455.8" r="2.15" fill="#784270" stroke="#663060" stroke-width="0.7"/>
<circle cx="115.8" cy="452.4" r="2.43" fill="#84507a" stroke="#663060" stroke-width="0.7"/>
<circle cx="101.9" cy="461.6" r="2.39" fill="#84507a" stroke="#663060" stroke-width="0.7"/>
<circle cx="105.7" cy="461.6" r="2.31" fill="#84507a" stroke="#663060" stroke-width="0.7"/>
<circle cx="108.6" cy="464.5" r="2.49" fill="#84507a" stroke="#663060" stroke-width="0.7"/>
<circle cx="114.4" cy="464.5" r="2.30" fill="#784270" stroke="#663060" stroke-width="0.7"/>
<circle cx="113.4" cy="466.9" r="2.19" fill="#784270" stroke="#663060" stroke-width="0.7"/>
<circle cx="102.8" cy="466.9" r="2.50" fill="#7c4670" stroke="#663060" stroke-width="0.7"/>
<circle cx="99.5" cy="467.8" r="2.24" fill="#804c76" stroke="#663060" stroke-width="0.7"/>
<circle cx="83.1" cy="468.3" r="2.26" fill="#7c4670" stroke="#663060" stroke-width="0.7"/>
<circle cx="83.6" cy="470.7" r="2.22" fill="#784270" stroke="#663060" stroke-width="0.7"/>
<circle cx="86.5" cy="471.2" r="2.50" fill="#804c76" stroke="#663060" stroke-width="0.7"/>
<circle cx="85.1" cy="475" r="2.37" fill="#7c4670" stroke="#663060" stroke-width="0.7"/>
<circle cx="91.3" cy="469.8" r="2.16" fill="#84507a" stroke="#663060" stroke-width="0.7"/>
<circle cx="92.8" cy="472.6" r="2.22" fill="#8a5680" stroke="#663060" stroke-width="0.7"/>
<circle cx="93.2" cy="476" r="2.15" fill="#804c76" stroke="#663060" stroke-width="0.7"/>
<circle cx="98" cy="474.1" r="2.27" fill="#8a5680" stroke="#663060" stroke-width="0.7"/>
<circle cx="75.9" cy="471.7" r="2.29" fill="#7c4670" stroke="#663060" stroke-width="0.7"/>
<circle cx="77.4" cy="476" r="2.18" fill="#804c76" stroke="#663060" stroke-width="0.7"/>
<circle cx="80.3" cy="477" r="2.37" fill="#7c4670" stroke="#663060" stroke-width="0.7"/>
<circle cx="75" cy="479.8" r="2.36" fill="#8a5680" stroke="#663060" stroke-width="0.7"/>
<circle cx="91.8" cy="482.3" r="2.37" fill="#84507a" stroke="#663060" stroke-width="0.7"/>
<circle cx="97.1" cy="482.7" r="2.49" fill="#784270" stroke="#663060" stroke-width="0.7"/>
<circle cx="102.8" cy="478.9" r="2.44" fill="#84507a" stroke="#663060" stroke-width="0.7"/>
<circle cx="105.7" cy="479.8" r="2.45" fill="#84507a" stroke="#663060" stroke-width="0.7"/>
<circle cx="102.4" cy="484.7" r="2.37" fill="#8a5680" stroke="#663060" stroke-width="0.7"/>
<circle cx="118.2" cy="474.1" r="2.47" fill="#804c76" stroke="#663060" stroke-width="0.7"/>
<circle cx="120.2" cy="477" r="2.24" fill="#84507a" stroke="#663060" stroke-width="0.7"/>
<circle cx="116.3" cy="478.9" r="2.21" fill="#804c76" stroke="#663060" stroke-width="0.7"/>
<circle cx="114.4" cy="481.8" r="2.22" fill="#784270" stroke="#663060" stroke-width="0.7"/>
<circle cx="121.1" cy="466.4" r="2.46" fill="#c49fbb"/>
<circle cx="32.7" cy="487.5" r="2.36" fill="#784270" stroke="#663060" stroke-width="0.7"/>
<circle cx="38.4" cy="488" r="2.17" fill="#7c4670" stroke="#663060" stroke-width="0.7"/>
<circle cx="44.2" cy="487.5" r="2.16" fill="#c49fbb"/>
<circle cx="33.6" cy="491.8" r="2.49" fill="#84507a" stroke="#663060" stroke-width="0.7"/>
<circle cx="37.5" cy="492.3" r="2.41" fill="#784270" stroke="#663060" stroke-width="0.7"/>
<circle cx="41.8" cy="491.8" r="2.24" fill="#804c76" stroke="#663060" stroke-width="0.7"/>
<circle cx="42.8" cy="494.7" r="2.32" fill="#804c76" stroke="#663060" stroke-width="0.7"/>
<circle cx="34.1" cy="496.1" r="2.21" fill="#7c4670" stroke="#663060" stroke-width="0.7"/>
<circle cx="39.4" cy="496.1" r="2.19" fill="#784270" stroke="#663060" stroke-width="0.7"/>
<circle cx="26.9" cy="497.6" r="2.35" fill="#804c76" stroke="#663060" stroke-width="0.7"/>
<circle cx="31.2" cy="499.5" r="2.37" fill="#8a5680" stroke="#663060" stroke-width="0.7"/>
<circle cx="36.5" cy="499" r="2.22" fill="#84507a" stroke="#663060" stroke-width="0.7"/>
<circle cx="37.5" cy="503.8" r="2.41" fill="#7c4670" stroke="#663060" stroke-width="0.7"/>
<circle cx="41.3" cy="504.3" r="2.24" fill="#784270" stroke="#663060" stroke-width="0.7"/>
<circle cx="28.3" cy="505.8" r="2.24" fill="#7c4670" stroke="#663060" stroke-width="0.7"/>
<circle cx="32.2" cy="507.2" r="2.21" fill="#8a5680" stroke="#663060" stroke-width="0.7"/>
<circle cx="35.5" cy="507.7" r="2.34" fill="#84507a" stroke="#663060" stroke-width="0.7"/>
<circle cx="50.9" cy="494.7" r="2.18" fill="#c49fbb"/>
<circle cx="47.1" cy="512.5" r="2.20" fill="#784270" stroke="#663060" stroke-width="0.7"/>
<circle cx="50.9" cy="511.5" r="2.49" fill="#804c76" stroke="#663060" stroke-width="0.7"/>
<circle cx="46.1" cy="514.9" r="2.35" fill="#84507a" stroke="#663060" stroke-width="0.7"/>
<circle cx="42.3" cy="513.9" r="2.36" fill="#7c4670" stroke="#663060" stroke-width="0.7"/>
<circle cx="38.4" cy="515.8" r="2.32" fill="#8a5680" stroke="#663060" stroke-width="0.7"/>
<circle cx="33.6" cy="515.8" r="2.40" fill="#7c4670" stroke="#663060" stroke-width="0.7"/>
<circle cx="29.8" cy="518.3" r="2.16" fill="#7c4670" stroke="#663060" stroke-width="0.7"/>
<circle cx="26.9" cy="519.2" r="2.32" fill="#8a5680" stroke="#663060" stroke-width="0.7"/>
<circle cx="31.7" cy="520.2" r="2.26" fill="#7c4670" stroke="#663060" stroke-width="0.7"/>
<circle cx="37" cy="519.7" r="2.18" fill="#804c76" stroke="#663060" stroke-width="0.7"/>
<circle cx="57.7" cy="520.2" r="2.28" fill="#c49fbb"/>
<circle cx="66.3" cy="494.7" r="2.17" fill="#84507a" stroke="#663060" stroke-width="0.7"/>
<circle cx="62.5" cy="498.5" r="2.43" fill="#8a5680" stroke="#663060" stroke-width="0.7"/>
<circle cx="66.3" cy="498.5" r="2.27" fill="#784270" stroke="#663060" stroke-width="0.7"/>
<circle cx="70.2" cy="498.1" r="2.47" fill="#784270" stroke="#663060" stroke-width="0.7"/>
<circle cx="72.6" cy="497.6" r="2.48" fill="#7c4670" stroke="#663060" stroke-width="0.7"/>
<circle cx="71.1" cy="503.3" r="2.45" fill="#804c76" stroke="#663060" stroke-width="0.7"/>
<circle cx="70.2" cy="509.1" r="2.16" fill="#784270" stroke="#663060" stroke-width="0.7"/>
<circle cx="72.6" cy="508.2" r="2.28" fill="#7c4670" stroke="#663060" stroke-width="0.7"/>
<circle cx="72.1" cy="512.5" r="2.36" fill="#7c4670" stroke="#663060" stroke-width="0.7"/>
<circle cx="68.2" cy="520.7" r="2.18" fill="#7c4670" stroke="#663060" stroke-width="0.7"/>
<circle cx="77.8" cy="488" r="2.50" fill="#784270" stroke="#663060" stroke-width="0.7"/>
<circle cx="75.9" cy="491.8" r="2.40" fill="#784270" stroke="#663060" stroke-width="0.7"/>
<circle cx="76.9" cy="495.2" r="2.48" fill="#804c76" stroke="#663060" stroke-width="0.7"/>
<circle cx="81.7" cy="494.2" r="2.31" fill="#784270" stroke="#663060" stroke-width="0.7"/>
<circle cx="100.9" cy="496.6" r="2.44" fill="#7c4670" stroke="#663060" stroke-width="0.7"/>
<circle cx="113.4" cy="497.1" r="2.33" fill="#804c76" stroke="#663060" stroke-width="0.7"/>
<circle cx="117.8" cy="495.2" r="2.16" fill="#c49fbb"/>
<circle cx="120.6" cy="501.9" r="2.36" fill="#c49fbb"/>
<circle cx="107.7" cy="501" r="2.32" fill="#84507a" stroke="#663060" stroke-width="0.7"/>
<circle cx="99.5" cy="501.9" r="2.49" fill="#7c4670" stroke="#663060" stroke-width="0.7"/>
<circle cx="102.4" cy="503.8" r="2.32" fill="#804c76" stroke="#663060" stroke-width="0.7"/>
<circle cx="105.7" cy="504.8" r="2.38" fill="#784270" stroke="#663060" stroke-width="0.7"/>
<circle cx="106.7" cy="507.7" r="2.24" fill="#7c4670" stroke="#663060" stroke-width="0.7"/>
<circle cx="109.6" cy="508.6" r="2.28" fill="#84507a" stroke="#663060" stroke-width="0.7"/>
<circle cx="113.4" cy="506.2" r="2.39" fill="#84507a" stroke="#663060" stroke-width="0.7"/>
<circle cx="112.5" cy="511.5" r="2.33" fill="#8a5680" stroke="#663060" stroke-width="0.7"/>
<circle cx="118.2" cy="512" r="2.38" fill="#784270" stroke="#663060" stroke-width="0.7"/>
<circle cx="121.1" cy="508.6" r="2.32" fill="#84507a" stroke="#663060" stroke-width="0.7"/>
<circle cx="76.9" cy="504.8" r="2.26" fill="#8a5680" stroke="#663060" stroke-width="0.7"/>
<circle cx="80.3" cy="504.8" r="2.22" fill="#784270" stroke="#663060" stroke-width="0.7"/>
<circle cx="83.1" cy="506.7" r="2.43" fill="#84507a" stroke="#663060" stroke-width="0.7"/>
<circle cx="86.5" cy="509.6" r="2.46" fill="#784270" stroke="#663060" stroke-width="0.7"/>
<circle cx="80.7" cy="509.6" r="2.23" fill="#8a5680" stroke="#663060" stroke-width="0.7"/>
<circle cx="79.8" cy="513.9" r="2.22" fill="#84507a" stroke="#663060" stroke-width="0.7"/>
<circle cx="75" cy="513" r="2.32" fill="#7c4670" stroke="#663060" stroke-width="0.7"/>
<circle cx="88.4" cy="512.5" r="2.40" fill="#8a5680" stroke="#663060" stroke-width="0.7"/>
<circle cx="87.5" cy="515.8" r="2.44" fill="#7c4670" stroke="#663060" stroke-width="0.7"/>
<circle cx="91.3" cy="516.8" r="2.31" fill="#8a5680" stroke="#663060" stroke-width="0.7"/>
<circle cx="83.6" cy="517.8" r="2.47" fill="#784270" stroke="#663060" stroke-width="0.7"/>
<circle cx="85.5" cy="519.7" r="2.28" fill="#804c76" stroke="#663060" stroke-width="0.7"/>
<circle cx="78.8" cy="520.2" r="2.32" fill="#8a5680" stroke="#663060" stroke-width="0.7"/>
<circle cx="97.6" cy="516.3" r="2.40" fill="#804c76" stroke="#663060" stroke-width="0.7"/>
<circle cx="101.9" cy="521.1" r="2.31" fill="#7c4670" stroke="#663060" stroke-width="0.7"/>
<circle cx="107.7" cy="521.1" r="2.44" fill="#8a5680" stroke="#663060" stroke-width="0.7"/>
<circle cx="93.2" cy="519.7" r="2.46" fill="#7c4670" stroke="#663060" stroke-width="0.7"/>
<circle cx="70.0" cy="478.4" r="2.0" fill="#221660"/>
<circle cx="84.1" cy="496.9" r="1.7" fill="#221660"/>
<circle cx="112" cy="452.2" r="0.9" fill="#5030a0"/>
<circle cx="118.7" cy="462.5" r="0.9" fill="#5030a0"/>
</g></g>
<clipPath id="c2"><rect x="125.7" y="451.0" width="96.8" height="71.79999999999995"/></clipPath>
<g clip-path="url(#c2)"><g filter="url(#pb)">
<rect x="125.7" y="451.0" width="96.80" height="71.80" fill="#cac8ca"/>
<ellipse cx="187.2" cy="485.4" rx="2.52" ry="2.01" fill="#c88860" opacity="0.45"/>
<ellipse cx="174.6" cy="467.9" rx="2.05" ry="2.03" fill="#b06030" opacity="0.45"/>
<ellipse cx="126.0" cy="477.6" rx="2.69" ry="2.04" fill="#c88860" opacity="0.45"/>
<ellipse cx="202.5" cy="467.7" rx="1.82" ry="2.19" fill="#b06030" opacity="0.45"/>
<ellipse cx="222.3" cy="504.0" rx="3.16" ry="1.77" fill="#b06030" opacity="0.45"/>
<ellipse cx="173.9" cy="459.3" rx="2.62" ry="1.87" fill="#c07040" opacity="0.45"/>
<ellipse cx="217.9" cy="477.5" rx="2.61" ry="2.20" fill="#b06030" opacity="0.45"/>
<ellipse cx="169.6" cy="490.6" rx="2.36" ry="2.72" fill="#c88860" opacity="0.45"/>
<ellipse cx="158.9" cy="485.8" rx="2.60" ry="1.91" fill="#c88860" opacity="0.45"/>
<ellipse cx="209.5" cy="467.9" rx="2.37" ry="2.60" fill="#c07040" opacity="0.45"/>
<ellipse cx="198.8" cy="505.8" rx="1.88" ry="1.28" fill="#b06030" opacity="0.45"/>
<ellipse cx="205.8" cy="465.4" rx="1.57" ry="1.64" fill="#c88860" opacity="0.45"/>
<ellipse cx="165.3" cy="477.2" rx="2.89" ry="2.36" fill="#b06030" opacity="0.45"/>
<ellipse cx="169.4" cy="478.7" rx="2.86" ry="1.84" fill="#b06030" opacity="0.45"/>
<ellipse cx="222.0" cy="478.8" rx="2.33" ry="2.21" fill="#c88860" opacity="0.45"/>
<ellipse cx="128.3" cy="457.7" rx="1.65" ry="1.97" fill="#b06030" opacity="0.45"/>
<ellipse cx="195.2" cy="522.3" rx="2.13" ry="2.17" fill="#c07040" opacity="0.45"/>
<ellipse cx="173.7" cy="486.3" rx="2.83" ry="2.20" fill="#c88860" opacity="0.45"/>
<ellipse cx="147.2" cy="494.7" rx="2.64" ry="2.57" fill="#c88860" opacity="0.45"/>
<ellipse cx="179.6" cy="495.7" rx="2.89" ry="1.62" fill="#b06030" opacity="0.45"/>
<ellipse cx="159.3" cy="493.9" rx="3.06" ry="1.82" fill="#c88860" opacity="0.45"/>
<ellipse cx="200.9" cy="477.9" rx="2.15" ry="2.04" fill="#c88860" opacity="0.45"/>
<ellipse cx="191.8" cy="499.5" rx="3.18" ry="1.21" fill="#b06030" opacity="0.45"/>
<ellipse cx="162.1" cy="468.7" rx="1.84" ry="2.60" fill="#c88860" opacity="0.45"/>
<ellipse cx="210.5" cy="462.7" rx="1.75" ry="2.09" fill="#c07040" opacity="0.45"/>
<ellipse cx="200.6" cy="485.7" rx="2.39" ry="2.19" fill="#b06030" opacity="0.45"/>
<ellipse cx="206.7" cy="454.7" rx="2.76" ry="1.94" fill="#c07040" opacity="0.45"/>
<ellipse cx="166.3" cy="463.3" rx="3.18" ry="1.47" fill="#b06030" opacity="0.45"/>
<ellipse cx="197.9" cy="485.4" rx="1.85" ry="1.74" fill="#c88860" opacity="0.45"/>
<ellipse cx="150.1" cy="519.8" rx="2.49" ry="1.50" fill="#c07040" opacity="0.45"/>
<ellipse cx="128.4" cy="466.2" rx="3.12" ry="1.72" fill="#b06030" opacity="0.45"/>
<ellipse cx="206.8" cy="508.1" rx="3.11" ry="2.75" fill="#c88860" opacity="0.45"/>
<ellipse cx="166.9" cy="492.7" rx="2.36" ry="1.58" fill="#c88860" opacity="0.45"/>
<ellipse cx="207.9" cy="473.1" rx="1.97" ry="1.81" fill="#b06030" opacity="0.45"/>
<ellipse cx="177.4" cy="470.8" rx="2.29" ry="1.90" fill="#c88860" opacity="0.45"/>
<ellipse cx="200.1" cy="451.7" rx="2.63" ry="2.27" fill="#c88860" opacity="0.45"/>
<ellipse cx="192.0" cy="519.5" rx="2.15" ry="1.64" fill="#c07040" opacity="0.45"/>
<ellipse cx="128.0" cy="493.6" rx="3.16" ry="1.54" fill="#b06030" opacity="0.45"/>
<ellipse cx="188.0" cy="512.2" rx="2.88" ry="2.70" fill="#c88860" opacity="0.45"/>
<ellipse cx="213.4" cy="460.6" rx="2.13" ry="1.32" fill="#c88860" opacity="0.45"/>
<ellipse cx="177.8" cy="474.3" rx="1.57" ry="2.17" fill="#c88860" opacity="0.45"/>
<ellipse cx="173.5" cy="466.8" rx="2.26" ry="2.79" fill="#c88860" opacity="0.45"/>
<ellipse cx="178.9" cy="454.3" rx="1.75" ry="2.76" fill="#c07040" opacity="0.45"/>
<ellipse cx="194.5" cy="513.7" rx="2.27" ry="2.63" fill="#b06030" opacity="0.45"/>
<ellipse cx="200.6" cy="507.8" rx="1.78" ry="2.11" fill="#b06030" opacity="0.45"/>
<ellipse cx="150.2" cy="501.0" rx="2.40" ry="1.28" fill="#c07040" opacity="0.45"/>
<ellipse cx="163.3" cy="473.2" rx="2.21" ry="2.61" fill="#c07040" opacity="0.45"/>
<ellipse cx="212.9" cy="472.2" rx="1.88" ry="2.48" fill="#c88860" opacity="0.45"/>
<ellipse cx="174.4" cy="490.4" rx="3.07" ry="2.61" fill="#c07040" opacity="0.45"/>
<ellipse cx="217.5" cy="458.1" rx="2.62" ry="1.32" fill="#b06030" opacity="0.45"/>
<ellipse cx="212.8" cy="504.6" rx="1.15" ry="1.01" fill="#a0b3ce"/>
<ellipse cx="184.4" cy="495.5" rx="1.54" ry="1.30" fill="#a9bbd3"/>
<ellipse cx="158.4" cy="470.4" rx="1.75" ry="1.25" fill="#a9bbd3"/>
<ellipse cx="159.9" cy="472.4" rx="1.10" ry="1.23" fill="#a0b3ce"/>
<ellipse cx="186.4" cy="514.9" rx="0.91" ry="1.42" fill="#a0b3ce"/>
<ellipse cx="131.4" cy="453.7" rx="1.87" ry="1.43" fill="#a9bbd3"/>
<ellipse cx="177.8" cy="480.3" rx="1.54" ry="1.36" fill="#a0b3ce"/>
<ellipse cx="192.6" cy="503.3" rx="1.75" ry="1.12" fill="#a0b3ce"/>
<ellipse cx="176.5" cy="456.6" rx="1.59" ry="1.14" fill="#a9bbd3"/>
<ellipse cx="205.8" cy="466.3" rx="1.61" ry="1.57" fill="#b3c2d8"/>
<ellipse cx="173.5" cy="462.6" rx="1.10" ry="1.34" fill="#b3c2d8"/>
<ellipse cx="208.1" cy="508.9" rx="1.83" ry="1.30" fill="#b3c2d8"/>
<ellipse cx="216.4" cy="508.0" rx="1.39" ry="1.27" fill="#a9bbd3"/>
<ellipse cx="126.8" cy="476.3" rx="0.96" ry="1.09" fill="#b3c2d8"/>
<ellipse cx="185.1" cy="494.6" rx="1.86" ry="1.22" fill="#a0b3ce"/>
<ellipse cx="198.8" cy="497.4" rx="0.96" ry="1.34" fill="#a9bbd3"/>
<ellipse cx="145.7" cy="522.7" rx="1.76" ry="0.88" fill="#a0b3ce"/>
<ellipse cx="197.3" cy="514.4" rx="1.70" ry="0.98" fill="#a0b3ce"/>
<ellipse cx="160.8" cy="456.9" rx="1.07" ry="1.28" fill="#a0b3ce"/>
<ellipse cx="165.0" cy="463.8" rx="1.82" ry="1.28" fill="#a9bbd3"/>
<ellipse cx="181.9" cy="452.9" rx="1.86" ry="1.48" fill="#b3c2d8"/>
<ellipse cx="175.4" cy="459.8" rx="1.73" ry="1.25" fill="#a9bbd3"/>
<ellipse cx="148.9" cy="481.5" rx="1.07" ry="1.12" fill="#b3c2d8"/>
<ellipse cx="187.7" cy="506.3" rx="1.36" ry="0.83" fill="#a9bbd3"/>
<ellipse cx="198.4" cy="497.7" rx="1.05" ry="1.55" fill="#b3c2d8"/>
<ellipse cx="150.2" cy="481.9" rx="1.54" ry="1.16" fill="#b3c2d8"/>
<ellipse cx="162.3" cy="486.2" rx="1.70" ry="1.11" fill="#a9bbd3"/>
<ellipse cx="151.4" cy="489.6" rx="1.57" ry="0.96" fill="#a0b3ce"/>
<ellipse cx="170.1" cy="453.6" rx="1.73" ry="0.88" fill="#b3c2d8"/>
<ellipse cx="203.4" cy="503.9" rx="0.94" ry="1.57" fill="#a0b3ce"/>
<ellipse cx="196.4" cy="522.3" rx="1.24" ry="1.12" fill="#a0b3ce"/>
<ellipse cx="162.2" cy="479.3" rx="1.38" ry="0.87" fill="#a0b3ce"/>
<ellipse cx="126.1" cy="498.7" rx="1.82" ry="0.84" fill="#a0b3ce"/>
<ellipse cx="182.0" cy="492.4" rx="1.48" ry="0.92" fill="#a0b3ce"/>
<ellipse cx="222.3" cy="465.1" rx="1.40" ry="1.06" fill="#a9bbd3"/>
<ellipse cx="170.4" cy="479.0" rx="1.36" ry="1.13" fill="#b3c2d8"/>
<ellipse cx="186.5" cy="494.0" rx="1.72" ry="1.41" fill="#a0b3ce"/>
<ellipse cx="192.8" cy="513.1" rx="1.70" ry="1.13" fill="#a0b3ce"/>
<ellipse cx="198.4" cy="477.9" rx="1.81" ry="1.42" fill="#a0b3ce"/>
<ellipse cx="211.9" cy="456.5" rx="1.61" ry="1.01" fill="#b3c2d8"/>
<ellipse cx="155.5" cy="496.5" rx="1.16" ry="1.26" fill="#a0b3ce"/>
<ellipse cx="151.3" cy="500.0" rx="1.33" ry="1.42" fill="#a0b3ce"/>
<ellipse cx="145.7" cy="486.7" rx="1.68" ry="1.10" fill="#b3c2d8"/>
<ellipse cx="192.1" cy="475.1" rx="1.79" ry="1.50" fill="#a9bbd3"/>
<ellipse cx="188.5" cy="477.4" rx="1.21" ry="1.47" fill="#b3c2d8"/>
<ellipse cx="165.7" cy="459.8" rx="1.66" ry="1.03" fill="#b3c2d8"/>
<ellipse cx="127.7" cy="503.0" rx="0.93" ry="1.30" fill="#b3c2d8"/>
<ellipse cx="183.3" cy="482.9" rx="0.97" ry="0.89" fill="#b3c2d8"/>
<ellipse cx="187.2" cy="477.3" rx="1.85" ry="1.18" fill="#b3c2d8"/>
<ellipse cx="187.2" cy="483.8" rx="1.23" ry="0.98" fill="#b3c2d8"/>
<ellipse cx="175.4" cy="467.0" rx="0.98" ry="1.48" fill="#a9bbd3"/>
<ellipse cx="202.1" cy="452.4" rx="1.45" ry="1.54" fill="#a9bbd3"/>
<ellipse cx="188.0" cy="483.7" rx="1.27" ry="1.12" fill="#a0b3ce"/>
<ellipse cx="147.1" cy="493.1" rx="1.87" ry="1.21" fill="#b3c2d8"/>
<ellipse cx="173.1" cy="462.9" rx="1.01" ry="1.21" fill="#a9bbd3"/>
<ellipse cx="203.1" cy="474.5" rx="0.99" ry="1.29" fill="#a0b3ce"/>
<ellipse cx="140.4" cy="495.8" rx="1.86" ry="1.19" fill="#b3c2d8"/>
<ellipse cx="207.7" cy="466.9" rx="1.70" ry="0.98" fill="#a9bbd3"/>
<ellipse cx="193.4" cy="489.7" rx="0.92" ry="1.32" fill="#a9bbd3"/>
<ellipse cx="145.4" cy="492.4" rx="0.95" ry="1.28" fill="#a0b3ce"/>
<ellipse cx="155.0" cy="473.8" rx="1.60" ry="0.96" fill="#a9bbd3"/>
<ellipse cx="214.1" cy="476.7" rx="1.83" ry="1.03" fill="#a9bbd3"/>
<ellipse cx="201.7" cy="453.5" rx="1.73" ry="1.53" fill="#a9bbd3"/>
<ellipse cx="200.4" cy="492.6" rx="1.59" ry="1.47" fill="#a9bbd3"/>
<ellipse cx="200.8" cy="502.7" rx="1.82" ry="1.44" fill="#b3c2d8"/>
<ellipse cx="177.1" cy="462.8" rx="1.25" ry="1.10" fill="#b3c2d8"/>
<ellipse cx="158.7" cy="498.7" rx="1.64" ry="1.02" fill="#a9bbd3"/>
<ellipse cx="189.2" cy="479.0" rx="1.44" ry="0.90" fill="#b3c2d8"/>
<ellipse cx="203.3" cy="454.8" rx="1.45" ry="1.27" fill="#b3c2d8"/>
<ellipse cx="189.8" cy="482.8" rx="1.85" ry="1.17" fill="#a9bbd3"/>
<ellipse cx="148.1" cy="477.9" rx="1.48" ry="1.02" fill="#a0b3ce"/>
<ellipse cx="192.6" cy="496.1" rx="1.59" ry="1.01" fill="#b3c2d8"/>
<ellipse cx="171.5" cy="491.0" rx="1.21" ry="1.38" fill="#a9bbd3"/>
<ellipse cx="173.6" cy="472.9" rx="1.86" ry="1.52" fill="#a0b3ce"/>
<ellipse cx="158.3" cy="498.9" rx="0.94" ry="1.01" fill="#a9bbd3"/>
<ellipse cx="148.0" cy="497.7" rx="1.29" ry="1.22" fill="#a9bbd3"/>
<ellipse cx="176.9" cy="478.0" rx="1.88" ry="1.01" fill="#a0b3ce"/>
<ellipse cx="152.8" cy="493.7" rx="1.54" ry="0.87" fill="#a0b3ce"/>
<ellipse cx="206.2" cy="500.7" rx="1.25" ry="1.18" fill="#b3c2d8"/>
<ellipse cx="172.2" cy="474.6" rx="0.97" ry="1.58" fill="#a0b3ce"/>
<ellipse cx="200.4" cy="499.5" rx="1.75" ry="1.00" fill="#a0b3ce"/>
<ellipse cx="149.5" cy="522.6" rx="1.24" ry="0.80" fill="#b3c2d8"/>
<ellipse cx="157.4" cy="478.3" rx="1.61" ry="1.31" fill="#b3c2d8"/>
<ellipse cx="220.2" cy="463.0" rx="1.85" ry="0.93" fill="#a0b3ce"/>
<ellipse cx="202.6" cy="495.0" rx="0.92" ry="1.58" fill="#a9bbd3"/>
<ellipse cx="197.7" cy="507.7" rx="1.04" ry="1.01" fill="#a9bbd3"/>
<ellipse cx="189.1" cy="481.9" rx="1.04" ry="1.53" fill="#a0b3ce"/>
<ellipse cx="139.0" cy="451.3" rx="1.12" ry="1.54" fill="#a0b3ce"/>
<ellipse cx="175.1" cy="472.2" rx="1.73" ry="0.96" fill="#b3c2d8"/>
<ellipse cx="165.7" cy="479.1" rx="1.75" ry="1.05" fill="#a9bbd3"/>
<ellipse cx="150.6" cy="495.9" rx="1.03" ry="1.08" fill="#b3c2d8"/>
<ellipse cx="156.0" cy="501.4" rx="1.57" ry="1.02" fill="#b3c2d8"/>
<ellipse cx="207.6" cy="460.7" rx="1.29" ry="0.97" fill="#a0b3ce"/>
<ellipse cx="159.8" cy="496.4" rx="1.08" ry="1.48" fill="#b3c2d8"/>
<ellipse cx="204.9" cy="471.0" rx="1.77" ry="0.83" fill="#b3c2d8"/>
<ellipse cx="201.5" cy="451.3" rx="1.15" ry="1.01" fill="#a0b3ce"/>
<ellipse cx="142.5" cy="492.2" rx="1.48" ry="1.13" fill="#a0b3ce"/>
<ellipse cx="146.7" cy="479.4" rx="1.50" ry="1.07" fill="#a0b3ce"/>
<ellipse cx="197.9" cy="503.4" rx="0.91" ry="1.28" fill="#a0b3ce"/>
<ellipse cx="149.3" cy="474.1" rx="0.94" ry="1.17" fill="#b3c2d8"/>
<ellipse cx="155.1" cy="482.1" rx="1.57" ry="1.16" fill="#a0b3ce"/>
<ellipse cx="192.8" cy="507.3" rx="1.05" ry="1.57" fill="#b3c2d8"/>
<ellipse cx="143.8" cy="495.2" rx="1.34" ry="1.32" fill="#a9bbd3"/>
<ellipse cx="213.9" cy="457.1" rx="1.43" ry="1.59" fill="#a0b3ce"/>
<ellipse cx="194.9" cy="485.9" rx="0.94" ry="1.19" fill="#a0b3ce"/>
<ellipse cx="213.7" cy="463.0" rx="1.88" ry="1.14" fill="#b3c2d8"/>
<ellipse cx="178.8" cy="459.7" rx="1.33" ry="0.90" fill="#a9bbd3"/>
<ellipse cx="203.6" cy="502.9" rx="1.16" ry="1.04" fill="#a0b3ce"/>
<ellipse cx="128.7" cy="473.2" rx="1.09" ry="1.06" fill="#b3c2d8"/>
<ellipse cx="139.4" cy="496.6" rx="1.63" ry="1.08" fill="#a9bbd3"/>
<ellipse cx="217.7" cy="520.3" rx="1.88" ry="1.49" fill="#b3c2d8"/>
<ellipse cx="168.4" cy="492.2" rx="1.60" ry="1.19" fill="#a0b3ce"/>
<ellipse cx="160.9" cy="494.5" rx="1.41" ry="1.58" fill="#a9bbd3"/>
<ellipse cx="164.3" cy="482.6" rx="1.62" ry="1.19" fill="#a0b3ce"/>
<ellipse cx="154.6" cy="505.8" rx="0.98" ry="0.94" fill="#b3c2d8"/>
<ellipse cx="213.9" cy="462.5" rx="1.78" ry="1.45" fill="#a0b3ce"/>
<ellipse cx="165.5" cy="473.5" rx="1.76" ry="1.24" fill="#b3c2d8"/>
<ellipse cx="151.0" cy="476.3" rx="1.28" ry="1.05" fill="#a9bbd3"/>
<ellipse cx="177.7" cy="459.3" rx="1.28" ry="1.26" fill="#a9bbd3"/>
<ellipse cx="177.3" cy="454.7" rx="1.42" ry="1.43" fill="#b3c2d8"/>
<ellipse cx="149.0" cy="475.5" rx="1.20" ry="1.23" fill="#b3c2d8"/>
<ellipse cx="153.9" cy="511.1" rx="1.50" ry="0.82" fill="#a0b3ce"/>
<ellipse cx="189.4" cy="485.0" rx="1.66" ry="1.11" fill="#b3c2d8"/>
<ellipse cx="200.4" cy="500.2" rx="1.01" ry="1.41" fill="#a9bbd3"/>
<ellipse cx="156.2" cy="495.2" rx="1.59" ry="1.38" fill="#a9bbd3"/>
<ellipse cx="197.9" cy="489.4" rx="1.11" ry="1.36" fill="#b3c2d8"/>
<ellipse cx="198.5" cy="496.4" rx="0.97" ry="1.29" fill="#b3c2d8"/>
<ellipse cx="215.5" cy="470.0" rx="1.06" ry="0.96" fill="#b3c2d8"/>
<ellipse cx="190.7" cy="521.1" rx="0.92" ry="0.86" fill="#a0b3ce"/>
<ellipse cx="166.7" cy="489.4" rx="1.39" ry="1.29" fill="#a9bbd3"/>
<ellipse cx="172.4" cy="481.9" rx="1.34" ry="1.19" fill="#e0dcd8"/>
<ellipse cx="214.5" cy="505.6" rx="1.57" ry="1.15" fill="#e0dcd8"/>
<ellipse cx="154.5" cy="480.5" rx="1.46" ry="0.96" fill="#ecebe8"/>
<ellipse cx="177.9" cy="481.3" rx="1.07" ry="1.29" fill="#e0dcd8"/>
<ellipse cx="216.8" cy="453.9" rx="1.19" ry="0.82" fill="#e8e4e2"/>
<ellipse cx="155.2" cy="485.7" rx="0.96" ry="1.00" fill="#e8e4e2"/>
<ellipse cx="192.5" cy="511.8" rx="1.46" ry="0.98" fill="#ecebe8"/>
<ellipse cx="153.8" cy="502.6" rx="1.04" ry="1.28" fill="#e8e4e2"/>
<ellipse cx="177.6" cy="478.6" rx="0.87" ry="1.14" fill="#ecebe8"/>
<ellipse cx="186.8" cy="516.3" rx="1.42" ry="0.94" fill="#ecebe8"/>
<ellipse cx="166.8" cy="457.9" rx="1.20" ry="1.02" fill="#e0dcd8"/>
<ellipse cx="211.8" cy="451.6" rx="0.82" ry="0.85" fill="#ecebe8"/>
<ellipse cx="221.5" cy="475.3" rx="0.82" ry="1.34" fill="#e8e4e2"/>
<ellipse cx="219.1" cy="452.2" rx="0.87" ry="1.18" fill="#ecebe8"/>
<ellipse cx="212.3" cy="500.8" rx="1.28" ry="1.30" fill="#ecebe8"/>
<ellipse cx="150.8" cy="491.5" rx="0.94" ry="0.84" fill="#e8e4e2"/>
<ellipse cx="202.8" cy="456.4" rx="1.01" ry="0.98" fill="#ecebe8"/>
<ellipse cx="188.1" cy="515.4" rx="1.46" ry="1.01" fill="#ecebe8"/>
<ellipse cx="148.0" cy="486.9" rx="1.42" ry="0.95" fill="#e8e4e2"/>
<ellipse cx="215.9" cy="463.9" rx="1.46" ry="0.83" fill="#e8e4e2"/>
<ellipse cx="140.4" cy="494.6" rx="1.17" ry="1.40" fill="#e8e4e2"/>
<ellipse cx="202.4" cy="470.3" rx="0.89" ry="1.33" fill="#e0dcd8"/>
<ellipse cx="163.4" cy="478.6" rx="1.36" ry="1.01" fill="#e8e4e2"/>
<ellipse cx="168.1" cy="462.4" rx="1.17" ry="1.39" fill="#e8e4e2"/>
<ellipse cx="207.7" cy="457.2" rx="1.24" ry="0.97" fill="#e8e4e2"/>
<ellipse cx="203.0" cy="483.3" rx="1.55" ry="0.84" fill="#e8e4e2"/>
<ellipse cx="148.1" cy="497.0" rx="1.18" ry="0.84" fill="#e0dcd8"/>
<ellipse cx="185.6" cy="518.7" rx="1.16" ry="0.83" fill="#e0dcd8"/>
<ellipse cx="213.8" cy="505.4" rx="1.59" ry="0.97" fill="#e0dcd8"/>
<ellipse cx="179.0" cy="474.7" rx="0.85" ry="1.36" fill="#e8e4e2"/>
<ellipse cx="175.2" cy="487.5" rx="1.36" ry="1.39" fill="#e8e4e2"/>
<ellipse cx="154.8" cy="519.3" rx="0.96" ry="1.03" fill="#e0dcd8"/>
<ellipse cx="202.9" cy="451.3" rx="1.25" ry="0.92" fill="#e0dcd8"/>
<ellipse cx="195.8" cy="496.0" rx="1.45" ry="1.03" fill="#ecebe8"/>
<ellipse cx="210.0" cy="508.9" rx="0.82" ry="0.83" fill="#e0dcd8"/>
<ellipse cx="152.3" cy="516.6" rx="1.50" ry="0.83" fill="#ecebe8"/>
<ellipse cx="203.3" cy="464.2" rx="1.03" ry="1.13" fill="#e8e4e2"/>
<ellipse cx="163.4" cy="487.4" rx="1.14" ry="1.26" fill="#e8e4e2"/>
<ellipse cx="213.6" cy="504.9" rx="0.81" ry="0.91" fill="#e0dcd8"/>
<ellipse cx="180.8" cy="457.0" rx="1.17" ry="0.91" fill="#ecebe8"/>
<ellipse cx="190.3" cy="486.3" rx="1.20" ry="1.08" fill="#e0dcd8"/>
<ellipse cx="130.0" cy="496.4" rx="0.90" ry="1.20" fill="#ecebe8"/>
<ellipse cx="153.7" cy="494.2" rx="1.30" ry="1.05" fill="#e8e4e2"/>
<ellipse cx="197.2" cy="517.6" rx="1.57" ry="1.29" fill="#e8e4e2"/>
<ellipse cx="193.6" cy="508.8" rx="1.02" ry="1.24" fill="#ecebe8"/>
<ellipse cx="178.0" cy="473.8" rx="0.91" ry="0.84" fill="#e0dcd8"/>
<ellipse cx="163.5" cy="488.5" rx="1.49" ry="1.22" fill="#ecebe8"/>
<ellipse cx="161.8" cy="494.3" rx="1.57" ry="1.36" fill="#e8e4e2"/>
<ellipse cx="192.3" cy="514.4" rx="0.90" ry="1.31" fill="#ecebe8"/>
<ellipse cx="165.8" cy="477.7" rx="1.57" ry="0.90" fill="#e8e4e2"/>
<ellipse cx="220.3" cy="474.2" rx="1.57" ry="0.99" fill="#e0dcd8"/>
<ellipse cx="193.9" cy="479.9" rx="0.88" ry="0.90" fill="#e0dcd8"/>
<ellipse cx="194.8" cy="498.0" rx="1.45" ry="0.83" fill="#e0dcd8"/>
<ellipse cx="217.4" cy="516.8" rx="0.92" ry="1.34" fill="#e8e4e2"/>
<ellipse cx="164.3" cy="480.9" rx="1.10" ry="1.16" fill="#e0dcd8"/>
<ellipse cx="205.7" cy="499.0" rx="1.30" ry="1.37" fill="#ecebe8"/>
<ellipse cx="205.2" cy="461.7" rx="1.15" ry="1.11" fill="#ecebe8"/>
<ellipse cx="217.4" cy="458.7" rx="0.82" ry="0.96" fill="#e8e4e2"/>
<ellipse cx="173.9" cy="468.5" rx="1.39" ry="1.25" fill="#e0dcd8"/>
<ellipse cx="162.1" cy="452.4" rx="1.46" ry="0.87" fill="#e8e4e2"/>
<ellipse cx="208.6" cy="474.3" rx="0.94" ry="1.05" fill="#e8e4e2"/>
<ellipse cx="191.6" cy="508.3" rx="1.16" ry="0.91" fill="#e0dcd8"/>
<ellipse cx="221.3" cy="451.8" rx="0.99" ry="1.04" fill="#ecebe8"/>
<ellipse cx="216.2" cy="457.5" rx="1.11" ry="0.88" fill="#ecebe8"/>
<ellipse cx="169.0" cy="470.6" rx="1.30" ry="0.88" fill="#e0dcd8"/>
<ellipse cx="214.2" cy="503.8" rx="1.56" ry="1.01" fill="#ecebe8"/>
<ellipse cx="207.9" cy="472.7" rx="1.55" ry="1.29" fill="#e0dcd8"/>
<ellipse cx="197.8" cy="484.8" rx="1.14" ry="1.07" fill="#e8e4e2"/>
<ellipse cx="181.9" cy="482.3" rx="0.98" ry="1.23" fill="#e0dcd8"/>
<ellipse cx="171.6" cy="491.2" rx="0.95" ry="0.99" fill="#e8e4e2"/>
<line x1="199.4" y1="493.1" x2="195.7" y2="494.0" stroke="#74200c" stroke-width="1.18" stroke-linecap="round"/>
<line x1="216.9" y1="511.8" x2="217.8" y2="514.7" stroke="#6a1a08" stroke-width="1.30" stroke-linecap="round"/>
<line x1="169.0" y1="460.4" x2="169.5" y2="463.7" stroke="#842c10" stroke-width="1.01" stroke-linecap="round"/>
<line x1="149.6" y1="474.6" x2="150.2" y2="476.8" stroke="#842c10" stroke-width="1.35" stroke-linecap="round"/>
<line x1="129.4" y1="517.4" x2="129.0" y2="520.1" stroke="#6a1a08" stroke-width="1.02" stroke-linecap="round"/>
<line x1="148.1" y1="495.0" x2="147.2" y2="497.0" stroke="#74200c" stroke-width="0.85" stroke-linecap="round"/>
<line x1="197.5" y1="497.3" x2="197.6" y2="499.6" stroke="#6a1a08" stroke-width="0.98" stroke-linecap="round"/>
<line x1="164.1" y1="469.6" x2="166.8" y2="471.8" stroke="#8e3616" stroke-width="0.91" stroke-linecap="round"/>
<line x1="209.3" y1="503.6" x2="210.3" y2="507.1" stroke="#842c10" stroke-width="1.03" stroke-linecap="round"/>
<line x1="214.9" y1="458.4" x2="212.5" y2="459.7" stroke="#842c10" stroke-width="1.16" stroke-linecap="round"/>
<line x1="215.3" y1="463.1" x2="213.8" y2="464.1" stroke="#74200c" stroke-width="1.34" stroke-linecap="round"/>
<line x1="200.5" y1="478.9" x2="198.2" y2="481.8" stroke="#6a1a08" stroke-width="1.16" stroke-linecap="round"/>
<line x1="127.0" y1="491.3" x2="130.2" y2="492.0" stroke="#6a1a08" stroke-width="1.26" stroke-linecap="round"/>
<line x1="180.6" y1="468.8" x2="177.9" y2="469.2" stroke="#74200c" stroke-width="1.23" stroke-linecap="round"/>
<line x1="196.6" y1="484.9" x2="195.7" y2="486.2" stroke="#6a1a08" stroke-width="1.10" stroke-linecap="round"/>
<line x1="217.2" y1="522.2" x2="220.4" y2="522.7" stroke="#74200c" stroke-width="1.02" stroke-linecap="round"/>
<line x1="176.9" y1="474.1" x2="176.4" y2="475.6" stroke="#8e3616" stroke-width="1.08" stroke-linecap="round"/>
<line x1="168.6" y1="488.5" x2="166.1" y2="489.2" stroke="#74200c" stroke-width="0.91" stroke-linecap="round"/>
<line x1="198.5" y1="500.5" x2="198.1" y2="502.6" stroke="#6a1a08" stroke-width="0.94" stroke-linecap="round"/>
<line x1="196.8" y1="494.8" x2="199.8" y2="495.7" stroke="#842c10" stroke-width="0.89" stroke-linecap="round"/>
<line x1="126.7" y1="485.3" x2="125.3" y2="488.1" stroke="#842c10" stroke-width="1.24" stroke-linecap="round"/>
<line x1="192.9" y1="513.3" x2="193.2" y2="514.8" stroke="#842c10" stroke-width="1.13" stroke-linecap="round"/>
<line x1="199.7" y1="505.5" x2="201.1" y2="508.5" stroke="#8e3616" stroke-width="1.14" stroke-linecap="round"/>
<line x1="179.0" y1="481.0" x2="177.3" y2="483.4" stroke="#6a1a08" stroke-width="1.22" stroke-linecap="round"/>
<line x1="159.1" y1="468.5" x2="158.7" y2="471.6" stroke="#6a1a08" stroke-width="0.97" stroke-linecap="round"/>
<line x1="193.4" y1="498.5" x2="195.5" y2="500.1" stroke="#842c10" stroke-width="1.31" stroke-linecap="round"/>
<line x1="177.8" y1="460.5" x2="179.8" y2="460.6" stroke="#74200c" stroke-width="1.20" stroke-linecap="round"/>
<line x1="221.0" y1="502.7" x2="222.5" y2="503.8" stroke="#6a1a08" stroke-width="1.30" stroke-linecap="round"/>
<line x1="199.2" y1="488.5" x2="195.3" y2="488.5" stroke="#74200c" stroke-width="0.85" stroke-linecap="round"/>
<line x1="199.6" y1="507.0" x2="197.6" y2="508.6" stroke="#74200c" stroke-width="0.92" stroke-linecap="round"/>
<line x1="183.9" y1="474.6" x2="181.0" y2="475.5" stroke="#842c10" stroke-width="1.39" stroke-linecap="round"/>
<line x1="135.9" y1="450.5" x2="136.9" y2="453.0" stroke="#74200c" stroke-width="0.85" stroke-linecap="round"/>
<line x1="186.2" y1="487.2" x2="183.2" y2="489.7" stroke="#8e3616" stroke-width="1.03" stroke-linecap="round"/>
<line x1="210.2" y1="461.6" x2="207.7" y2="462.0" stroke="#8e3616" stroke-width="1.28" stroke-linecap="round"/>
<line x1="221.5" y1="472.9" x2="222.5" y2="475.6" stroke="#8e3616" stroke-width="1.30" stroke-linecap="round"/>
<line x1="156.8" y1="518.0" x2="159.1" y2="519.2" stroke="#74200c" stroke-width="1.20" stroke-linecap="round"/>
<line x1="165.9" y1="492.5" x2="164.2" y2="493.7" stroke="#842c10" stroke-width="0.96" stroke-linecap="round"/>
<line x1="194.9" y1="504.7" x2="195.2" y2="506.3" stroke="#74200c" stroke-width="1.12" stroke-linecap="round"/>
<line x1="178.2" y1="459.8" x2="177.5" y2="462.7" stroke="#842c10" stroke-width="1.32" stroke-linecap="round"/>
<line x1="155.7" y1="450.9" x2="154.9" y2="453.6" stroke="#8e3616" stroke-width="0.99" stroke-linecap="round"/>
<line x1="168.1" y1="488.5" x2="171.5" y2="489.1" stroke="#8e3616" stroke-width="0.92" stroke-linecap="round"/>
<line x1="146.2" y1="480.1" x2="145.3" y2="483.1" stroke="#6a1a08" stroke-width="1.21" stroke-linecap="round"/>
<line x1="166.5" y1="462.2" x2="167.2" y2="465.7" stroke="#74200c" stroke-width="0.94" stroke-linecap="round"/>
<line x1="134.1" y1="491.0" x2="133.6" y2="494.0" stroke="#6a1a08" stroke-width="1.22" stroke-linecap="round"/>
<line x1="195.8" y1="505.2" x2="194.3" y2="506.1" stroke="#842c10" stroke-width="1.04" stroke-linecap="round"/>
<line x1="208.8" y1="469.7" x2="207.3" y2="470.9" stroke="#842c10" stroke-width="1.27" stroke-linecap="round"/>
<line x1="154.7" y1="497.1" x2="152.5" y2="499.9" stroke="#842c10" stroke-width="0.87" stroke-linecap="round"/>
<line x1="221.8" y1="499.3" x2="220.0" y2="502.6" stroke="#74200c" stroke-width="0.82" stroke-linecap="round"/>
<line x1="166.8" y1="459.1" x2="164.7" y2="460.9" stroke="#6a1a08" stroke-width="0.87" stroke-linecap="round"/>
<line x1="169.2" y1="476.3" x2="169.5" y2="478.3" stroke="#8e3616" stroke-width="1.27" stroke-linecap="round"/>
<line x1="169.8" y1="478.9" x2="172.9" y2="479.1" stroke="#6a1a08" stroke-width="0.91" stroke-linecap="round"/>
<line x1="205.2" y1="478.4" x2="206.9" y2="480.4" stroke="#8e3616" stroke-width="1.17" stroke-linecap="round"/>
<line x1="186.4" y1="502.5" x2="187.7" y2="504.7" stroke="#842c10" stroke-width="1.32" stroke-linecap="round"/>
<line x1="201.3" y1="504.7" x2="198.4" y2="507.4" stroke="#842c10" stroke-width="0.82" stroke-linecap="round"/>
<line x1="220.7" y1="504.0" x2="224.2" y2="505.0" stroke="#842c10" stroke-width="1.13" stroke-linecap="round"/>
<line x1="151.3" y1="492.2" x2="153.4" y2="494.4" stroke="#6a1a08" stroke-width="1.34" stroke-linecap="round"/>
<line x1="132.7" y1="470.8" x2="133.3" y2="474.0" stroke="#8e3616" stroke-width="1.02" stroke-linecap="round"/>
<line x1="218.7" y1="476.1" x2="216.2" y2="476.6" stroke="#8e3616" stroke-width="1.14" stroke-linecap="round"/>
<line x1="201.1" y1="473.3" x2="198.0" y2="475.8" stroke="#74200c" stroke-width="1.17" stroke-linecap="round"/>
<line x1="193.2" y1="513.9" x2="194.2" y2="515.7" stroke="#842c10" stroke-width="0.81" stroke-linecap="round"/>
<line x1="144.9" y1="486.1" x2="146.0" y2="488.2" stroke="#842c10" stroke-width="1.04" stroke-linecap="round"/>
<line x1="222.0" y1="453.4" x2="220.3" y2="455.2" stroke="#74200c" stroke-width="0.82" stroke-linecap="round"/>
<line x1="203.8" y1="469.9" x2="202.9" y2="471.3" stroke="#6a1a08" stroke-width="0.84" stroke-linecap="round"/>
<line x1="129.9" y1="518.6" x2="128.7" y2="521.1" stroke="#842c10" stroke-width="1.10" stroke-linecap="round"/>
<line x1="213.2" y1="459.1" x2="210.8" y2="460.2" stroke="#6a1a08" stroke-width="1.05" stroke-linecap="round"/>
<line x1="176.1" y1="475.4" x2="177.6" y2="478.7" stroke="#6a1a08" stroke-width="0.83" stroke-linecap="round"/>
<line x1="195.3" y1="514.1" x2="197.4" y2="516.6" stroke="#842c10" stroke-width="0.84" stroke-linecap="round"/>
<line x1="215.4" y1="456.2" x2="214.7" y2="458.8" stroke="#8e3616" stroke-width="1.27" stroke-linecap="round"/>
<line x1="166.9" y1="474.1" x2="164.1" y2="474.2" stroke="#8e3616" stroke-width="1.08" stroke-linecap="round"/>
<line x1="192.7" y1="518.7" x2="195.7" y2="520.3" stroke="#8e3616" stroke-width="1.22" stroke-linecap="round"/>
<line x1="168.2" y1="460.4" x2="166.4" y2="461.5" stroke="#6a1a08" stroke-width="0.84" stroke-linecap="round"/>
<line x1="218.3" y1="452.9" x2="220.3" y2="454.3" stroke="#6a1a08" stroke-width="1.09" stroke-linecap="round"/>
<line x1="176.9" y1="491.1" x2="177.8" y2="492.9" stroke="#8e3616" stroke-width="1.22" stroke-linecap="round"/>
<line x1="190.3" y1="520.4" x2="193.0" y2="522.4" stroke="#74200c" stroke-width="1.06" stroke-linecap="round"/>
<line x1="192.3" y1="514.3" x2="193.9" y2="514.3" stroke="#8e3616" stroke-width="1.33" stroke-linecap="round"/>
<line x1="212.3" y1="469.6" x2="213.7" y2="471.8" stroke="#6a1a08" stroke-width="0.90" stroke-linecap="round"/>
<line x1="195.9" y1="482.5" x2="196.5" y2="486.4" stroke="#8e3616" stroke-width="1.16" stroke-linecap="round"/>
<line x1="140.8" y1="491.3" x2="141.4" y2="493.5" stroke="#842c10" stroke-width="1.26" stroke-linecap="round"/>
<line x1="163.1" y1="492.6" x2="165.6" y2="493.5" stroke="#8e3616" stroke-width="1.30" stroke-linecap="round"/>
<line x1="178.1" y1="467.9" x2="177.1" y2="471.7" stroke="#6a1a08" stroke-width="0.99" stroke-linecap="round"/>
<line x1="209.8" y1="452.9" x2="208.3" y2="453.0" stroke="#74200c" stroke-width="0.80" stroke-linecap="round"/>
<line x1="165.5" y1="451.6" x2="166.4" y2="453.4" stroke="#8e3616" stroke-width="1.18" stroke-linecap="round"/>
<line x1="179.1" y1="495.5" x2="181.0" y2="497.1" stroke="#842c10" stroke-width="0.92" stroke-linecap="round"/>
<line x1="208.3" y1="455.3" x2="206.8" y2="457.5" stroke="#842c10" stroke-width="1.00" stroke-linecap="round"/>
<line x1="151.3" y1="478.9" x2="148.7" y2="481.7" stroke="#74200c" stroke-width="1.16" stroke-linecap="round"/>
<line x1="208.3" y1="508.4" x2="206.8" y2="509.1" stroke="#842c10" stroke-width="1.36" stroke-linecap="round"/>
<line x1="213.5" y1="466.7" x2="211.0" y2="467.9" stroke="#74200c" stroke-width="1.38" stroke-linecap="round"/>
<line x1="172.8" y1="489.2" x2="173.3" y2="491.0" stroke="#74200c" stroke-width="0.87" stroke-linecap="round"/>
<line x1="128.6" y1="494.7" x2="125.8" y2="496.2" stroke="#74200c" stroke-width="1.36" stroke-linecap="round"/>
<line x1="153.9" y1="500.1" x2="152.8" y2="503.8" stroke="#6a1a08" stroke-width="1.19" stroke-linecap="round"/>
<line x1="147.7" y1="477.2" x2="149.5" y2="477.8" stroke="#842c10" stroke-width="1.17" stroke-linecap="round"/>
<line x1="209.2" y1="455.9" x2="209.6" y2="457.9" stroke="#6a1a08" stroke-width="1.29" stroke-linecap="round"/>
<line x1="201.3" y1="490.4" x2="203.1" y2="490.9" stroke="#842c10" stroke-width="1.11" stroke-linecap="round"/>
<line x1="150.8" y1="494.5" x2="153.1" y2="494.5" stroke="#6a1a08" stroke-width="0.97" stroke-linecap="round"/>
<line x1="206.4" y1="477.4" x2="206.3" y2="481.2" stroke="#8e3616" stroke-width="0.98" stroke-linecap="round"/>
<line x1="125.7" y1="491.8" x2="128.0" y2="494.4" stroke="#8e3616" stroke-width="0.82" stroke-linecap="round"/>
<line x1="177.5" y1="460.0" x2="175.6" y2="463.4" stroke="#8e3616" stroke-width="1.35" stroke-linecap="round"/>
<line x1="217.7" y1="503.7" x2="220.7" y2="505.0" stroke="#8e3616" stroke-width="0.95" stroke-linecap="round"/>
<line x1="140.9" y1="489.2" x2="143.4" y2="492.3" stroke="#6a1a08" stroke-width="0.92" stroke-linecap="round"/>
<line x1="162.1" y1="489.5" x2="163.8" y2="489.7" stroke="#842c10" stroke-width="1.17" stroke-linecap="round"/>
<line x1="153.1" y1="486.9" x2="154.5" y2="488.4" stroke="#8e3616" stroke-width="1.06" stroke-linecap="round"/>
<line x1="199.6" y1="502.1" x2="198.2" y2="504.6" stroke="#6a1a08" stroke-width="1.13" stroke-linecap="round"/>
<line x1="174.0" y1="489.1" x2="176.6" y2="489.8" stroke="#6a1a08" stroke-width="1.23" stroke-linecap="round"/>
<line x1="178.8" y1="477.3" x2="179.6" y2="478.6" stroke="#74200c" stroke-width="1.29" stroke-linecap="round"/>
<line x1="169.5" y1="476.7" x2="171.4" y2="477.7" stroke="#8e3616" stroke-width="1.27" stroke-linecap="round"/>
<line x1="210.7" y1="467.3" x2="209.1" y2="467.9" stroke="#6a1a08" stroke-width="0.81" stroke-linecap="round"/>
<line x1="160.8" y1="467.6" x2="158.0" y2="470.1" stroke="#6a1a08" stroke-width="1.09" stroke-linecap="round"/>
<line x1="153.1" y1="496.1" x2="154.3" y2="498.2" stroke="#8e3616" stroke-width="1.15" stroke-linecap="round"/>
<line x1="170.7" y1="481.7" x2="169.2" y2="485.2" stroke="#74200c" stroke-width="1.20" stroke-linecap="round"/>
<line x1="200.0" y1="505.8" x2="202.4" y2="506.0" stroke="#8e3616" stroke-width="0.85" stroke-linecap="round"/>
<line x1="162.1" y1="455.3" x2="160.1" y2="458.3" stroke="#74200c" stroke-width="1.13" stroke-linecap="round"/>
<line x1="151.0" y1="501.2" x2="152.5" y2="503.1" stroke="#6a1a08" stroke-width="1.31" stroke-linecap="round"/>
<line x1="169.8" y1="464.5" x2="171.5" y2="464.5" stroke="#74200c" stroke-width="1.03" stroke-linecap="round"/>
<line x1="206.4" y1="506.4" x2="204.9" y2="506.4" stroke="#6a1a08" stroke-width="1.08" stroke-linecap="round"/>
<line x1="171.9" y1="472.7" x2="174.6" y2="473.4" stroke="#842c10" stroke-width="1.30" stroke-linecap="round"/>
<line x1="215.9" y1="462.4" x2="214.4" y2="464.9" stroke="#842c10" stroke-width="0.99" stroke-linecap="round"/>
<line x1="208.5" y1="508.5" x2="210.4" y2="509.3" stroke="#74200c" stroke-width="1.22" stroke-linecap="round"/>
<line x1="195.7" y1="502.1" x2="198.6" y2="502.5" stroke="#74200c" stroke-width="1.38" stroke-linecap="round"/>
<line x1="128.2" y1="466.9" x2="125.5" y2="469.2" stroke="#842c10" stroke-width="0.97" stroke-linecap="round"/>
<line x1="206.6" y1="498.8" x2="208.4" y2="500.1" stroke="#74200c" stroke-width="0.85" stroke-linecap="round"/>
<line x1="147.6" y1="475.1" x2="149.6" y2="475.5" stroke="#842c10" stroke-width="1.20" stroke-linecap="round"/>
<line x1="139.0" y1="489.3" x2="137.9" y2="492.8" stroke="#842c10" stroke-width="1.17" stroke-linecap="round"/>
<line x1="187.9" y1="509.8" x2="188.3" y2="512.2" stroke="#6a1a08" stroke-width="1.34" stroke-linecap="round"/>
<line x1="125.9" y1="454.7" x2="128.2" y2="457.5" stroke="#8e3616" stroke-width="0.94" stroke-linecap="round"/>
<line x1="169.2" y1="477.8" x2="172.1" y2="479.3" stroke="#6a1a08" stroke-width="0.92" stroke-linecap="round"/>
<line x1="128.8" y1="473.2" x2="126.1" y2="473.3" stroke="#74200c" stroke-width="1.10" stroke-linecap="round"/>
<line x1="221.6" y1="479.4" x2="220.5" y2="480.8" stroke="#8e3616" stroke-width="0.82" stroke-linecap="round"/>
<line x1="179.2" y1="460.3" x2="177.7" y2="463.3" stroke="#842c10" stroke-width="1.33" stroke-linecap="round"/>
<line x1="190.9" y1="484.8" x2="188.1" y2="487.4" stroke="#842c10" stroke-width="1.02" stroke-linecap="round"/>
<line x1="159.5" y1="473.5" x2="156.5" y2="475.3" stroke="#8e3616" stroke-width="1.20" stroke-linecap="round"/>
<line x1="158.2" y1="487.6" x2="155.9" y2="489.4" stroke="#6a1a08" stroke-width="1.12" stroke-linecap="round"/>
<line x1="158.5" y1="492.0" x2="156.5" y2="494.6" stroke="#842c10" stroke-width="0.91" stroke-linecap="round"/>
<line x1="198.1" y1="486.5" x2="199.4" y2="487.8" stroke="#74200c" stroke-width="0.93" stroke-linecap="round"/>
<line x1="199.2" y1="499.1" x2="199.6" y2="501.2" stroke="#842c10" stroke-width="0.96" stroke-linecap="round"/>
<line x1="188.5" y1="491.4" x2="189.3" y2="495.2" stroke="#842c10" stroke-width="1.06" stroke-linecap="round"/>
<line x1="146.6" y1="473.6" x2="146.1" y2="477.0" stroke="#6a1a08" stroke-width="0.92" stroke-linecap="round"/>
<line x1="180.3" y1="454.7" x2="178.7" y2="455.5" stroke="#842c10" stroke-width="0.99" stroke-linecap="round"/>
<line x1="174.0" y1="462.9" x2="172.8" y2="465.0" stroke="#8e3616" stroke-width="1.06" stroke-linecap="round"/>
<line x1="203.8" y1="473.0" x2="204.3" y2="474.7" stroke="#6a1a08" stroke-width="0.99" stroke-linecap="round"/>
<line x1="193.4" y1="513.4" x2="195.8" y2="516.3" stroke="#8e3616" stroke-width="1.28" stroke-linecap="round"/>
<line x1="196.3" y1="489.9" x2="192.7" y2="490.8" stroke="#8e3616" stroke-width="0.84" stroke-linecap="round"/>
<line x1="193.6" y1="504.7" x2="190.6" y2="506.8" stroke="#842c10" stroke-width="0.92" stroke-linecap="round"/>
<line x1="209.1" y1="469.9" x2="206.7" y2="471.1" stroke="#842c10" stroke-width="0.81" stroke-linecap="round"/>
<line x1="210.1" y1="452.6" x2="212.6" y2="453.9" stroke="#74200c" stroke-width="1.08" stroke-linecap="round"/>
<line x1="179.5" y1="483.7" x2="181.7" y2="485.7" stroke="#74200c" stroke-width="1.36" stroke-linecap="round"/>
<line x1="204.5" y1="499.9" x2="204.2" y2="501.8" stroke="#74200c" stroke-width="1.10" stroke-linecap="round"/>
<line x1="152.0" y1="521.2" x2="153.4" y2="522.3" stroke="#842c10" stroke-width="1.25" stroke-linecap="round"/>
<line x1="160.2" y1="477.7" x2="157.6" y2="479.4" stroke="#6a1a08" stroke-width="0.91" stroke-linecap="round"/>
<line x1="216.7" y1="509.9" x2="215.8" y2="511.2" stroke="#8e3616" stroke-width="0.88" stroke-linecap="round"/>
<line x1="162.4" y1="481.0" x2="161.2" y2="484.1" stroke="#6a1a08" stroke-width="1.31" stroke-linecap="round"/>
<circle cx="144.5" cy="477.8" r="2.02" fill="#bc7a4c" stroke="#842c10" stroke-width="1.63"/>
<circle cx="202.4" cy="454.1" r="2.40" fill="#dab08c" stroke="#842c10" stroke-width="1.70"/>
<circle cx="171.9" cy="458.7" r="1.74" fill="#bc7a4c" stroke="#6a1a08" stroke-width="1.40"/>
<circle cx="197.3" cy="503.2" r="2.27" fill="#bc7a4c" stroke="#74200c" stroke-width="1.64"/>
<circle cx="158.2" cy="475.7" r="2.11" fill="#dab08c" stroke="#8e3616" stroke-width="1.43"/>
<circle cx="162.3" cy="477.5" r="2.10" fill="#d4a27a" stroke="#8e3616" stroke-width="1.65"/>
<circle cx="153.4" cy="479.6" r="2.43" fill="#c88a5c" stroke="#842c10" stroke-width="1.36"/>
<circle cx="149.6" cy="480.4" r="2.15" fill="#d4a27a" stroke="#842c10" stroke-width="1.62"/>
<circle cx="164.7" cy="461.0" r="2.59" fill="#dab08c" stroke="#74200c" stroke-width="1.49"/>
<circle cx="196.2" cy="482.6" r="2.27" fill="#bc7a4c" stroke="#6a1a08" stroke-width="1.29"/>
<circle cx="187.6" cy="487.3" r="2.64" fill="#d4a27a" stroke="#8e3616" stroke-width="1.27"/>
<circle cx="131.1" cy="492.5" r="1.91" fill="#c88a5c" stroke="#842c10" stroke-width="1.70"/>
<circle cx="134.3" cy="496.5" r="2.56" fill="#c88a5c" stroke="#74200c" stroke-width="1.42"/>
<circle cx="179.0" cy="491.0" r="1.85" fill="#dab08c" stroke="#74200c" stroke-width="1.52"/>
<circle cx="214.6" cy="455.6" r="2.08" fill="#dab08c" stroke="#6a1a08" stroke-width="1.40"/>
<circle cx="190.4" cy="489.4" r="2.21" fill="#d4a27a" stroke="#8e3616" stroke-width="1.52"/>
<circle cx="220.7" cy="475.1" r="2.45" fill="#bc7a4c" stroke="#6a1a08" stroke-width="1.53"/>
<circle cx="201.3" cy="483.3" r="2.52" fill="#bc7a4c" stroke="#8e3616" stroke-width="1.28"/>
<circle cx="126.7" cy="460.0" r="1.76" fill="#bc7a4c" stroke="#8e3616" stroke-width="1.36"/>
<circle cx="203.6" cy="475.6" r="1.95" fill="#bc7a4c" stroke="#842c10" stroke-width="1.68"/>
<circle cx="212.4" cy="473.2" r="2.27" fill="#d4a27a" stroke="#6a1a08" stroke-width="1.34"/>
<circle cx="205.0" cy="476.1" r="1.89" fill="#dab08c" stroke="#8e3616" stroke-width="1.59"/>
<circle cx="206.2" cy="502.9" r="2.68" fill="#dab08c" stroke="#8e3616" stroke-width="1.33"/>
<circle cx="195.2" cy="514.1" r="2.16" fill="#c88a5c" stroke="#842c10" stroke-width="1.39"/>
<circle cx="167.9" cy="492.9" r="1.97" fill="#bc7a4c" stroke="#74200c" stroke-width="1.59"/>
<circle cx="196.2" cy="493.9" r="2.13" fill="#d4a27a" stroke="#6a1a08" stroke-width="1.62"/>
<circle cx="152.2" cy="492.5" r="2.16" fill="#d4a27a" stroke="#8e3616" stroke-width="1.58"/>
<circle cx="187.4" cy="483.3" r="2.58" fill="#dab08c" stroke="#6a1a08" stroke-width="1.57"/>
<circle cx="204.5" cy="477.6" r="2.61" fill="#bc7a4c" stroke="#74200c" stroke-width="1.56"/>
<circle cx="176.8" cy="456.9" r="2.09" fill="#dab08c" stroke="#6a1a08" stroke-width="1.50"/>
<circle cx="162.4" cy="458.6" r="2.30" fill="#c88a5c" stroke="#74200c" stroke-width="1.37"/>
<circle cx="166.3" cy="490.1" r="1.76" fill="#c88a5c" stroke="#74200c" stroke-width="1.24"/>
<circle cx="160.0" cy="484.9" r="2.44" fill="#c88a5c" stroke="#6a1a08" stroke-width="1.27"/>
<circle cx="169.4" cy="455.4" r="2.52" fill="#c88a5c" stroke="#842c10" stroke-width="1.21"/>
<circle cx="177.9" cy="470.1" r="1.90" fill="#c88a5c" stroke="#6a1a08" stroke-width="1.31"/>
<circle cx="210.1" cy="458.4" r="2.10" fill="#dab08c" stroke="#8e3616" stroke-width="1.49"/>
<circle cx="160.0" cy="455.1" r="1.83" fill="#c88a5c" stroke="#8e3616" stroke-width="1.54"/>
<circle cx="169.1" cy="466.1" r="2.14" fill="#dab08c" stroke="#74200c" stroke-width="1.29"/>
<circle cx="200.1" cy="488.4" r="2.52" fill="#d4a27a" stroke="#842c10" stroke-width="1.54"/>
<circle cx="198.4" cy="508.3" r="2.12" fill="#bc7a4c" stroke="#6a1a08" stroke-width="1.36"/>
<circle cx="162.0" cy="494.2" r="2.41" fill="#bc7a4c" stroke="#6a1a08" stroke-width="1.27"/>
<circle cx="186.9" cy="520.4" r="2.61" fill="#bc7a4c" stroke="#74200c" stroke-width="1.64"/>
<circle cx="216.5" cy="453.8" r="2.24" fill="#dab08c" stroke="#8e3616" stroke-width="1.69"/>
<circle cx="148.3" cy="490.5" r="2.66" fill="#c88a5c" stroke="#74200c" stroke-width="1.43"/>
<circle cx="210.0" cy="501.0" r="2.24" fill="#bc7a4c" stroke="#8e3616" stroke-width="1.52"/>
<circle cx="169.7" cy="465.8" r="1.97" fill="#dab08c" stroke="#8e3616" stroke-width="1.62"/>
<circle cx="160.3" cy="490.4" r="2.45" fill="#d4a27a" stroke="#8e3616" stroke-width="1.32"/>
<circle cx="196.8" cy="499.3" r="2.26" fill="#bc7a4c" stroke="#6a1a08" stroke-width="1.67"/>
<circle cx="181.9" cy="521.6" r="1.79" fill="#dab08c" stroke="#74200c" stroke-width="1.44"/>
<circle cx="210.0" cy="457.4" r="2.08" fill="#c88a5c" stroke="#842c10" stroke-width="1.40"/>
<circle cx="216.0" cy="457.6" r="2.05" fill="#dab08c" stroke="#8e3616" stroke-width="1.25"/>
<circle cx="174.3" cy="452.4" r="2.22" fill="#dab08c" stroke="#8e3616" stroke-width="1.42"/>
<circle cx="164.9" cy="460.9" r="2.67" fill="#dab08c" stroke="#8e3616" stroke-width="1.37"/>
<circle cx="216.2" cy="521.5" r="1.72" fill="#bc7a4c" stroke="#6a1a08" stroke-width="1.59"/>
<circle cx="154.1" cy="491.4" r="2.52" fill="#bc7a4c" stroke="#842c10" stroke-width="1.42"/>
<circle cx="145.6" cy="496.6" r="2.22" fill="#dab08c" stroke="#74200c" stroke-width="1.60"/>
<circle cx="202.1" cy="495.5" r="2.14" fill="#bc7a4c" stroke="#842c10" stroke-width="1.68"/>
<circle cx="200.2" cy="502.8" r="2.25" fill="#c88a5c" stroke="#6a1a08" stroke-width="1.65"/>
<circle cx="194.4" cy="499.5" r="2.43" fill="#bc7a4c" stroke="#8e3616" stroke-width="1.36"/>
<circle cx="166.4" cy="475.6" r="2.51" fill="#d4a27a" stroke="#842c10" stroke-width="1.54"/>
<circle cx="206.0" cy="472.8" r="1.71" fill="#c88a5c" stroke="#842c10" stroke-width="1.20"/>
<circle cx="151.5" cy="493.1" r="1.78" fill="#d4a27a" stroke="#842c10" stroke-width="1.63"/>
<ellipse cx="190.1" cy="509.2" rx="0.95" ry="1.19" fill="#8e3616"/>
<ellipse cx="192.0" cy="486.9" rx="1.23" ry="1.07" fill="#74200c"/>
<ellipse cx="179.6" cy="487.5" rx="1.23" ry="0.73" fill="#6a1a08"/>
<ellipse cx="154.4" cy="521.5" rx="1.12" ry="0.77" fill="#74200c"/>
<ellipse cx="216.3" cy="520.7" rx="0.71" ry="0.85" fill="#842c10"/>
<ellipse cx="215.7" cy="468.1" rx="0.67" ry="1.21" fill="#8e3616"/>
<ellipse cx="211.8" cy="460.9" rx="0.82" ry="1.27" fill="#8e3616"/>
<ellipse cx="174.7" cy="452.3" rx="0.78" ry="0.62" fill="#8e3616"/>
<ellipse cx="214.2" cy="470.0" rx="0.61" ry="0.76" fill="#74200c"/>
<ellipse cx="177.4" cy="459.7" rx="1.09" ry="1.27" fill="#842c10"/>
<ellipse cx="185.2" cy="479.0" rx="1.19" ry="0.78" fill="#8e3616"/>
<ellipse cx="194.5" cy="502.9" rx="0.66" ry="0.95" fill="#842c10"/>
<ellipse cx="161.6" cy="464.9" rx="1.13" ry="0.86" fill="#842c10"/>
<ellipse cx="126.0" cy="495.1" rx="0.70" ry="1.01" fill="#842c10"/>
<ellipse cx="191.2" cy="518.6" rx="0.85" ry="0.87" fill="#8e3616"/>
<ellipse cx="189.0" cy="521.7" rx="0.99" ry="0.84" fill="#8e3616"/>
<ellipse cx="174.0" cy="456.7" rx="1.18" ry="0.88" fill="#8e3616"/>
<ellipse cx="179.7" cy="478.4" rx="0.62" ry="0.66" fill="#8e3616"/>
<ellipse cx="177.8" cy="461.0" rx="0.89" ry="1.01" fill="#842c10"/>
<ellipse cx="210.0" cy="469.0" rx="0.84" ry="1.24" fill="#74200c"/>
<ellipse cx="127.6" cy="502.0" rx="0.69" ry="0.89" fill="#842c10"/>
<ellipse cx="153.3" cy="485.0" rx="0.87" ry="0.94" fill="#842c10"/>
<ellipse cx="191.3" cy="489.3" rx="1.14" ry="0.62" fill="#8e3616"/>
<ellipse cx="165.4" cy="477.3" rx="1.24" ry="0.66" fill="#74200c"/>
<ellipse cx="173.4" cy="473.6" rx="0.77" ry="1.14" fill="#74200c"/>
<ellipse cx="169.2" cy="487.7" rx="1.08" ry="0.83" fill="#8e3616"/>
<ellipse cx="168.2" cy="457.9" rx="0.74" ry="1.24" fill="#8e3616"/>
<ellipse cx="203.3" cy="470.8" rx="0.64" ry="0.63" fill="#842c10"/>
<ellipse cx="208.1" cy="454.8" rx="1.27" ry="0.70" fill="#74200c"/>
<ellipse cx="219.6" cy="505.3" rx="1.27" ry="0.96" fill="#74200c"/>
<ellipse cx="208.5" cy="478.6" rx="0.61" ry="1.23" fill="#842c10"/>
<ellipse cx="203.7" cy="454.9" rx="0.83" ry="0.65" fill="#6a1a08"/>
<ellipse cx="221.6" cy="459.1" rx="0.71" ry="1.18" fill="#8e3616"/>
<ellipse cx="152.4" cy="491.7" rx="1.23" ry="1.18" fill="#6a1a08"/>
<ellipse cx="160.4" cy="479.6" rx="1.19" ry="0.67" fill="#842c10"/>
<ellipse cx="166.0" cy="470.8" rx="0.91" ry="0.84" fill="#842c10"/>
<ellipse cx="193.2" cy="479.8" rx="0.94" ry="0.63" fill="#842c10"/>
<ellipse cx="164.6" cy="470.3" rx="0.64" ry="0.76" fill="#74200c"/>
<ellipse cx="127.9" cy="521.4" rx="0.61" ry="0.76" fill="#6a1a08"/>
<ellipse cx="192.7" cy="494.0" rx="0.85" ry="0.84" fill="#8e3616"/>
<ellipse cx="192.2" cy="503.3" rx="0.64" ry="0.99" fill="#6a1a08"/>
<ellipse cx="210.8" cy="500.6" rx="0.67" ry="1.19" fill="#8e3616"/>
<ellipse cx="170.8" cy="458.3" rx="0.86" ry="1.25" fill="#842c10"/>
<ellipse cx="202.2" cy="452.4" rx="1.18" ry="0.80" fill="#6a1a08"/>
<ellipse cx="161.7" cy="474.4" rx="0.93" ry="0.65" fill="#74200c"/>
<ellipse cx="203.6" cy="457.9" rx="0.85" ry="1.09" fill="#8e3616"/>
<ellipse cx="153.4" cy="496.7" rx="1.06" ry="0.61" fill="#6a1a08"/>
<ellipse cx="187.6" cy="501.8" rx="0.94" ry="0.78" fill="#8e3616"/>
<ellipse cx="129.4" cy="496.9" rx="0.92" ry="1.00" fill="#6a1a08"/>
<ellipse cx="216.5" cy="468.3" rx="1.18" ry="0.70" fill="#842c10"/>
<ellipse cx="139.7" cy="496.1" rx="0.88" ry="0.97" fill="#842c10"/>
<ellipse cx="129.1" cy="457.1" rx="0.67" ry="0.66" fill="#6a1a08"/>
<ellipse cx="190.7" cy="516.1" rx="0.89" ry="0.88" fill="#74200c"/>
<ellipse cx="146.9" cy="482.8" rx="1.23" ry="0.67" fill="#74200c"/>
<ellipse cx="197.5" cy="479.5" rx="1.17" ry="0.91" fill="#6a1a08"/>
<ellipse cx="134.1" cy="496.1" rx="0.70" ry="1.03" fill="#74200c"/>
<ellipse cx="158.5" cy="471.4" rx="0.83" ry="1.15" fill="#6a1a08"/>
<ellipse cx="196.5" cy="501.8" rx="1.25" ry="1.29" fill="#6a1a08"/>
<ellipse cx="163.6" cy="483.3" rx="1.00" ry="1.10" fill="#842c10"/>
<ellipse cx="136.9" cy="492.5" rx="0.86" ry="0.75" fill="#842c10"/>
<ellipse cx="186.5" cy="493.0" rx="0.81" ry="0.94" fill="#6a1a08"/>
<ellipse cx="190.5" cy="516.6" rx="1.01" ry="0.78" fill="#74200c"/>
<ellipse cx="170.2" cy="451.8" rx="0.79" ry="0.72" fill="#842c10"/>
<ellipse cx="177.0" cy="481.8" rx="0.69" ry="0.82" fill="#74200c"/>
<ellipse cx="165.3" cy="451.2" rx="1.19" ry="1.05" fill="#74200c"/>
<ellipse cx="183.5" cy="488.6" rx="0.94" ry="0.68" fill="#842c10"/>
<ellipse cx="153.7" cy="498.5" rx="1.26" ry="0.60" fill="#842c10"/>
<ellipse cx="147.9" cy="481.8" rx="0.86" ry="0.82" fill="#8e3616"/>
<ellipse cx="175.5" cy="479.5" rx="1.15" ry="0.86" fill="#8e3616"/>
<ellipse cx="181.9" cy="495.8" rx="0.88" ry="0.61" fill="#8e3616"/>
<ellipse cx="204.0" cy="476.7" rx="1.25" ry="0.60" fill="#74200c"/>
<ellipse cx="201.6" cy="478.3" rx="1.19" ry="1.28" fill="#8e3616"/>
<ellipse cx="167.8" cy="453.4" rx="0.76" ry="1.19" fill="#6a1a08"/>
<ellipse cx="172.6" cy="484.9" rx="0.78" ry="1.19" fill="#842c10"/>
<ellipse cx="188.2" cy="474.8" rx="1.11" ry="0.61" fill="#8e3616"/>
<ellipse cx="190.6" cy="514.9" rx="0.93" ry="0.66" fill="#74200c"/>
<ellipse cx="187.0" cy="490.1" rx="1.07" ry="0.84" fill="#8e3616"/>
<ellipse cx="190.5" cy="502.5" rx="1.12" ry="1.13" fill="#8e3616"/>
<ellipse cx="170.6" cy="488.9" rx="1.15" ry="1.18" fill="#842c10"/>
<ellipse cx="197.5" cy="510.6" rx="1.03" ry="1.09" fill="#74200c"/>
<ellipse cx="189.6" cy="475.2" rx="0.90" ry="1.01" fill="#8e3616"/>
<ellipse cx="205.5" cy="453.2" rx="0.88" ry="1.22" fill="#842c10"/>
<ellipse cx="128.4" cy="518.5" rx="1.25" ry="0.77" fill="#8e3616"/>
<ellipse cx="199.5" cy="480.5" rx="0.83" ry="0.69" fill="#74200c"/>
<ellipse cx="163.7" cy="468.2" rx="1.12" ry="0.88" fill="#8e3616"/>
<ellipse cx="202.9" cy="501.7" rx="0.79" ry="1.05" fill="#6a1a08"/>
<ellipse cx="176.5" cy="453.8" rx="0.89" ry="1.10" fill="#842c10"/>
<ellipse cx="145.7" cy="478.7" rx="1.10" ry="0.90" fill="#74200c"/>
<ellipse cx="210.7" cy="466.9" rx="0.97" ry="0.78" fill="#6a1a08"/>
<ellipse cx="199.4" cy="484.5" rx="0.63" ry="0.62" fill="#74200c"/>
<ellipse cx="144.8" cy="462.5" rx="17.400000000000002" ry="12.2" fill="#9a5030" opacity="0.35"/>
<ellipse cx="191.3" cy="462.8" rx="12.2" ry="12.4" fill="#9a5030" opacity="0.35"/>
<ellipse cx="134.2" cy="482.0" rx="8.9" ry="9.9" fill="#9a5030" opacity="0.35"/>
<ellipse cx="213.5" cy="489.3" rx="11.1" ry="11.1" fill="#9a5030" opacity="0.35"/>
<ellipse cx="139.8" cy="510.0" rx="14.2" ry="13.4" fill="#9a5030" opacity="0.35"/>
<ellipse cx="171.0" cy="509.0" rx="16.8" ry="15.4" fill="#9a5030" opacity="0.35"/>
<ellipse cx="206.8" cy="517.0" rx="9.799999999999999" ry="8.4" fill="#9a5030" opacity="0.35"/>
<ellipse cx="221.0" cy="515.0" rx="3.6" ry="8.1" fill="#9a5030" opacity="0.35"/>
<ellipse cx="144.8" cy="462.5" rx="16.8" ry="11.6" fill="#d4d2ce"/>
<ellipse cx="191.3" cy="462.8" rx="11.6" ry="11.8" fill="#d4d2ce"/>
<ellipse cx="134.2" cy="482.0" rx="8.3" ry="9.3" fill="#d4d2ce"/>
<ellipse cx="213.5" cy="489.3" rx="10.5" ry="10.5" fill="#d4d2ce"/>
<ellipse cx="139.8" cy="510.0" rx="13.6" ry="12.8" fill="#d4d2ce"/>
<ellipse cx="171.0" cy="509.0" rx="16.2" ry="14.8" fill="#d4d2ce"/>
<ellipse cx="206.8" cy="517.0" rx="9.2" ry="7.8" fill="#d4d2ce"/>
<ellipse cx="221.0" cy="515.0" rx="3.0" ry="7.5" fill="#d4d2ce"/>
</g></g>
<clipPath id="c3"><rect x="287.7" y="450.8" width="89.60000000000002" height="70.69999999999999"/></clipPath>
<g clip-path="url(#c3)"><g filter="url(#pb)">
<rect x="287.7" y="450.8" width="89.60" height="70.70" fill="#dcdce4"/>
<circle cx="286.9" cy="450.2" r="3.02" fill="#9799b0" stroke="#7a80c2" stroke-width="0.8"/>
<circle cx="292.4" cy="449.4" r="2.66" fill="#9c9eb4" stroke="#7a80c2" stroke-width="0.8"/>
<circle cx="297.3" cy="449.4" r="2.61" fill="#9c9eb4" stroke="#7a80c2" stroke-width="0.8"/>
<circle cx="302.1" cy="449.4" r="2.68" fill="#a0a2b7" stroke="#7a80c2" stroke-width="0.8"/>
<circle cx="308.4" cy="449.2" r="2.67" fill="#9c9eb4" stroke="#7a80c2" stroke-width="0.8"/>
<circle cx="314.0" cy="449.0" r="3.04" fill="#9c9eb4" stroke="#7a80c2" stroke-width="0.8"/>
<circle cx="318.2" cy="450.5" r="2.69" fill="#9c9eb4" stroke="#7a80c2" stroke-width="0.8"/>
<circle cx="324.5" cy="449.3" r="2.75" fill="#a0a2b7" stroke="#7a80c2" stroke-width="0.8"/>
<circle cx="328.9" cy="449.3" r="2.77" fill="#9799b0" stroke="#7a80c2" stroke-width="0.8"/>
<circle cx="334.9" cy="449.9" r="2.63" fill="#9395ad" stroke="#7a80c2" stroke-width="0.8"/>
<circle cx="339.5" cy="449.5" r="2.84" fill="#9c9eb4" stroke="#7a80c2" stroke-width="0.8"/>
<circle cx="345.3" cy="449.1" r="3.07" fill="#9799b0" stroke="#7a80c2" stroke-width="0.8"/>
<circle cx="350.1" cy="449.6" r="2.78" fill="#a0a2b7" stroke="#7a80c2" stroke-width="0.8"/>
<circle cx="355.7" cy="449.0" r="2.91" fill="#9c9eb4" stroke="#7a80c2" stroke-width="0.8"/>
<circle cx="371.4" cy="449.8" r="2.99" fill="#9395ad" stroke="#7a80c2" stroke-width="0.8"/>
<circle cx="376.2" cy="450.2" r="2.62" fill="#9395ad" stroke="#7a80c2" stroke-width="0.8"/>
<circle cx="290.1" cy="453.8" r="3.06" fill="#9395ad" stroke="#7a80c2" stroke-width="0.8"/>
<circle cx="305.0" cy="454.0" r="2.96" fill="#9c9eb4" stroke="#7a80c2" stroke-width="0.8"/>
<circle cx="316.2" cy="453.8" r="2.62" fill="#a0a2b7" stroke="#7a80c2" stroke-width="0.8"/>
<circle cx="321.5" cy="454.3" r="2.67" fill="#a0a2b7" stroke="#7a80c2" stroke-width="0.8"/>
<circle cx="327.2" cy="454.7" r="3.02" fill="#9395ad" stroke="#7a80c2" stroke-width="0.8"/>
<circle cx="342.8" cy="453.9" r="2.63" fill="#9c9eb4" stroke="#7a80c2" stroke-width="0.8"/>
<circle cx="378.8" cy="455.0" r="2.91" fill="#9c9eb4" stroke="#7a80c2" stroke-width="0.8"/>
<circle cx="286.7" cy="458.9" r="2.86" fill="#9395ad" stroke="#7a80c2" stroke-width="0.8"/>
<circle cx="292.1" cy="459.2" r="2.95" fill="#9395ad" stroke="#7a80c2" stroke-width="0.8"/>
<circle cx="297.6" cy="459.6" r="3.02" fill="#9395ad" stroke="#7a80c2" stroke-width="0.8"/>
<circle cx="302.2" cy="460.0" r="2.92" fill="#9395ad" stroke="#7a80c2" stroke-width="0.8"/>
<circle cx="308.0" cy="458.4" r="2.76" fill="#9395ad" stroke="#7a80c2" stroke-width="0.8"/>
<circle cx="312.8" cy="458.9" r="2.77" fill="#9395ad" stroke="#7a80c2" stroke-width="0.8"/>
<circle cx="324.3" cy="459.0" r="3.09" fill="#a0a2b7" stroke="#7a80c2" stroke-width="0.8"/>
<circle cx="329.8" cy="459.2" r="2.70" fill="#9c9eb4" stroke="#7a80c2" stroke-width="0.8"/>
<circle cx="334.2" cy="459.8" r="2.96" fill="#9799b0" stroke="#7a80c2" stroke-width="0.8"/>
<circle cx="340.1" cy="458.7" r="2.75" fill="#a0a2b7" stroke="#7a80c2" stroke-width="0.8"/>
<circle cx="345.1" cy="459.8" r="2.70" fill="#9799b0" stroke="#7a80c2" stroke-width="0.8"/>
<circle cx="289.3" cy="464.0" r="2.79" fill="#9395ad" stroke="#7a80c2" stroke-width="0.8"/>
<circle cx="305.1" cy="463.5" r="2.94" fill="#9799b0" stroke="#7a80c2" stroke-width="0.8"/>
<circle cx="327.2" cy="463.6" r="2.81" fill="#9c9eb4" stroke="#7a80c2" stroke-width="0.8"/>
<circle cx="342.5" cy="464.0" r="2.90" fill="#9c9eb4" stroke="#7a80c2" stroke-width="0.8"/>
<circle cx="380.2" cy="463.7" r="2.90" fill="#9c9eb4" stroke="#7a80c2" stroke-width="0.8"/>
<circle cx="286.3" cy="469.4" r="2.61" fill="#a0a2b7" stroke="#7a80c2" stroke-width="0.8"/>
<circle cx="292.7" cy="468.3" r="2.84" fill="#9c9eb4" stroke="#7a80c2" stroke-width="0.8"/>
<circle cx="296.7" cy="468.8" r="2.62" fill="#9395ad" stroke="#7a80c2" stroke-width="0.8"/>
<circle cx="302.0" cy="468.4" r="2.72" fill="#9395ad" stroke="#7a80c2" stroke-width="0.8"/>
<circle cx="307.9" cy="467.9" r="2.96" fill="#9c9eb4" stroke="#7a80c2" stroke-width="0.8"/>
<circle cx="312.9" cy="468.6" r="2.61" fill="#9799b0" stroke="#7a80c2" stroke-width="0.8"/>
<circle cx="317.9" cy="468.3" r="2.97" fill="#9395ad" stroke="#7a80c2" stroke-width="0.8"/>
<circle cx="323.0" cy="468.4" r="2.62" fill="#9c9eb4" stroke="#7a80c2" stroke-width="0.8"/>
<circle cx="328.7" cy="468.5" r="2.61" fill="#9c9eb4" stroke="#7a80c2" stroke-width="0.8"/>
<circle cx="334.8" cy="468.5" r="3.03" fill="#a0a2b7" stroke="#7a80c2" stroke-width="0.8"/>
<circle cx="340.2" cy="468.6" r="3.05" fill="#9c9eb4" stroke="#7a80c2" stroke-width="0.8"/>
<circle cx="377.6" cy="468.7" r="2.63" fill="#9799b0" stroke="#7a80c2" stroke-width="0.8"/>
<circle cx="288.9" cy="473.8" r="2.77" fill="#9799b0" stroke="#7a80c2" stroke-width="0.8"/>
<circle cx="294.5" cy="472.6" r="2.62" fill="#a0a2b7" stroke="#7a80c2" stroke-width="0.8"/>
<circle cx="305.5" cy="474.0" r="3.10" fill="#9c9eb4" stroke="#7a80c2" stroke-width="0.8"/>
<circle cx="310.9" cy="473.2" r="2.81" fill="#9c9eb4" stroke="#7a80c2" stroke-width="0.8"/>
<circle cx="320.4" cy="472.7" r="2.74" fill="#9799b0" stroke="#7a80c2" stroke-width="0.8"/>
<circle cx="326.6" cy="472.7" r="2.60" fill="#9c9eb4" stroke="#7a80c2" stroke-width="0.8"/>
<circle cx="331.1" cy="473.6" r="3.07" fill="#9395ad" stroke="#7a80c2" stroke-width="0.8"/>
<circle cx="336.8" cy="472.6" r="2.88" fill="#9c9eb4" stroke="#7a80c2" stroke-width="0.8"/>
<circle cx="342.6" cy="473.0" r="2.73" fill="#9c9eb4" stroke="#7a80c2" stroke-width="0.8"/>
<circle cx="347.7" cy="472.9" r="3.00" fill="#9c9eb4" stroke="#7a80c2" stroke-width="0.8"/>
<circle cx="353.5" cy="473.2" r="2.96" fill="#9c9eb4" stroke="#7a80c2" stroke-width="0.8"/>
<circle cx="363.8" cy="472.6" r="2.72" fill="#a0a2b7" stroke="#7a80c2" stroke-width="0.8"/>
<circle cx="379.8" cy="472.6" r="2.94" fill="#a0a2b7" stroke="#7a80c2" stroke-width="0.8"/>
<circle cx="286.3" cy="477.4" r="3.01" fill="#a0a2b7" stroke="#7a80c2" stroke-width="0.8"/>
<circle cx="291.4" cy="478.2" r="2.74" fill="#9c9eb4" stroke="#7a80c2" stroke-width="0.8"/>
<circle cx="303.1" cy="477.8" r="2.92" fill="#9395ad" stroke="#7a80c2" stroke-width="0.8"/>
<circle cx="308.4" cy="477.9" r="2.90" fill="#9799b0" stroke="#7a80c2" stroke-width="0.8"/>
<circle cx="313.3" cy="478.4" r="2.62" fill="#9799b0" stroke="#7a80c2" stroke-width="0.8"/>
<circle cx="318.0" cy="477.5" r="2.93" fill="#a0a2b7" stroke="#7a80c2" stroke-width="0.8"/>
<circle cx="323.6" cy="477.9" r="2.76" fill="#a0a2b7" stroke="#7a80c2" stroke-width="0.8"/>
<circle cx="329.0" cy="477.5" r="2.79" fill="#9799b0" stroke="#7a80c2" stroke-width="0.8"/>
<circle cx="339.1" cy="477.6" r="2.98" fill="#9c9eb4" stroke="#7a80c2" stroke-width="0.8"/>
<circle cx="345.3" cy="477.3" r="3.06" fill="#9395ad" stroke="#7a80c2" stroke-width="0.8"/>
<circle cx="350.1" cy="478.7" r="2.84" fill="#a0a2b7" stroke="#7a80c2" stroke-width="0.8"/>
<circle cx="361.2" cy="477.7" r="2.62" fill="#9c9eb4" stroke="#7a80c2" stroke-width="0.8"/>
<circle cx="366.5" cy="478.1" r="3.06" fill="#a0a2b7" stroke="#7a80c2" stroke-width="0.8"/>
<circle cx="376.3" cy="477.8" r="2.68" fill="#a0a2b7" stroke="#7a80c2" stroke-width="0.8"/>
<circle cx="288.9" cy="483.0" r="2.96" fill="#a0a2b7" stroke="#7a80c2" stroke-width="0.8"/>
<circle cx="294.3" cy="482.6" r="2.68" fill="#a0a2b7" stroke="#7a80c2" stroke-width="0.8"/>
<circle cx="299.2" cy="483.2" r="3.07" fill="#9395ad" stroke="#7a80c2" stroke-width="0.8"/>
<circle cx="305.6" cy="482.3" r="3.07" fill="#9799b0" stroke="#7a80c2" stroke-width="0.8"/>
<circle cx="309.8" cy="482.3" r="2.99" fill="#a0a2b7" stroke="#7a80c2" stroke-width="0.8"/>
<circle cx="315.1" cy="483.2" r="3.04" fill="#9799b0" stroke="#7a80c2" stroke-width="0.8"/>
<circle cx="331.3" cy="482.3" r="2.64" fill="#9799b0" stroke="#7a80c2" stroke-width="0.8"/>
<circle cx="337.8" cy="482.2" r="2.91" fill="#9c9eb4" stroke="#7a80c2" stroke-width="0.8"/>
<circle cx="342.3" cy="482.5" r="2.86" fill="#a0a2b7" stroke="#7a80c2" stroke-width="0.8"/>
<circle cx="347.1" cy="481.9" r="3.05" fill="#a0a2b7" stroke="#7a80c2" stroke-width="0.8"/>
<circle cx="353.7" cy="482.8" r="2.64" fill="#a0a2b7" stroke="#7a80c2" stroke-width="0.8"/>
<circle cx="358.7" cy="483.2" r="2.87" fill="#9c9eb4" stroke="#7a80c2" stroke-width="0.8"/>
<circle cx="379.4" cy="482.3" r="3.04" fill="#9395ad" stroke="#7a80c2" stroke-width="0.8"/>
<circle cx="287.3" cy="486.7" r="2.98" fill="#a0a2b7" stroke="#7a80c2" stroke-width="0.8"/>
<circle cx="292.1" cy="488.0" r="2.89" fill="#9c9eb4" stroke="#7a80c2" stroke-width="0.8"/>
<circle cx="297.2" cy="487.9" r="2.96" fill="#9799b0" stroke="#7a80c2" stroke-width="0.8"/>
<circle cx="302.9" cy="487.0" r="2.88" fill="#a0a2b7" stroke="#7a80c2" stroke-width="0.8"/>
<circle cx="307.6" cy="487.1" r="2.94" fill="#a0a2b7" stroke="#7a80c2" stroke-width="0.8"/>
<circle cx="312.9" cy="486.7" r="2.61" fill="#9799b0" stroke="#7a80c2" stroke-width="0.8"/>
<circle cx="317.8" cy="486.8" r="3.07" fill="#9395ad" stroke="#7a80c2" stroke-width="0.8"/>
<circle cx="329.0" cy="487.2" r="2.68" fill="#9799b0" stroke="#7a80c2" stroke-width="0.8"/>
<circle cx="334.6" cy="486.9" r="2.87" fill="#9395ad" stroke="#7a80c2" stroke-width="0.8"/>
<circle cx="339.2" cy="487.7" r="3.00" fill="#a0a2b7" stroke="#7a80c2" stroke-width="0.8"/>
<circle cx="344.4" cy="487.1" r="2.90" fill="#a0a2b7" stroke="#7a80c2" stroke-width="0.8"/>
<circle cx="349.8" cy="486.7" r="2.87" fill="#9c9eb4" stroke="#7a80c2" stroke-width="0.8"/>
<circle cx="356.4" cy="487.6" r="2.94" fill="#a0a2b7" stroke="#7a80c2" stroke-width="0.8"/>
<circle cx="360.4" cy="486.6" r="2.84" fill="#9c9eb4" stroke="#7a80c2" stroke-width="0.8"/>
<circle cx="371.0" cy="487.0" r="2.98" fill="#9395ad" stroke="#7a80c2" stroke-width="0.8"/>
<circle cx="377.3" cy="487.2" r="2.91" fill="#9799b0" stroke="#7a80c2" stroke-width="0.8"/>
<circle cx="299.2" cy="491.6" r="3.05" fill="#9395ad" stroke="#7a80c2" stroke-width="0.8"/>
<circle cx="304.8" cy="492.6" r="3.03" fill="#a0a2b7" stroke="#7a80c2" stroke-width="0.8"/>
<circle cx="310.7" cy="492.6" r="2.65" fill="#9799b0" stroke="#7a80c2" stroke-width="0.8"/>
<circle cx="316.0" cy="492.3" r="2.76" fill="#9799b0" stroke="#7a80c2" stroke-width="0.8"/>
<circle cx="320.4" cy="491.8" r="2.87" fill="#a0a2b7" stroke="#7a80c2" stroke-width="0.8"/>
<circle cx="337.7" cy="492.2" r="3.00" fill="#9c9eb4" stroke="#7a80c2" stroke-width="0.8"/>
<circle cx="347.9" cy="492.1" r="2.61" fill="#9799b0" stroke="#7a80c2" stroke-width="0.8"/>
<circle cx="353.4" cy="492.3" r="2.75" fill="#a0a2b7" stroke="#7a80c2" stroke-width="0.8"/>
<circle cx="358.9" cy="491.7" r="2.62" fill="#9799b0" stroke="#7a80c2" stroke-width="0.8"/>
<circle cx="362.9" cy="492.8" r="2.94" fill="#9395ad" stroke="#7a80c2" stroke-width="0.8"/>
<circle cx="369.4" cy="492.5" r="2.84" fill="#9c9eb4" stroke="#7a80c2" stroke-width="0.8"/>
<circle cx="373.5" cy="491.5" r="2.80" fill="#a0a2b7" stroke="#7a80c2" stroke-width="0.8"/>
<circle cx="378.7" cy="491.9" r="3.06" fill="#9c9eb4" stroke="#7a80c2" stroke-width="0.8"/>
<circle cx="286.9" cy="496.6" r="2.72" fill="#9395ad" stroke="#7a80c2" stroke-width="0.8"/>
<circle cx="301.9" cy="497.5" r="2.98" fill="#a0a2b7" stroke="#7a80c2" stroke-width="0.8"/>
<circle cx="307.5" cy="496.1" r="2.81" fill="#a0a2b7" stroke="#7a80c2" stroke-width="0.8"/>
<circle cx="313.1" cy="496.8" r="2.81" fill="#9395ad" stroke="#7a80c2" stroke-width="0.8"/>
<circle cx="317.8" cy="497.4" r="2.62" fill="#a0a2b7" stroke="#7a80c2" stroke-width="0.8"/>
<circle cx="339.9" cy="497.1" r="3.08" fill="#9799b0" stroke="#7a80c2" stroke-width="0.8"/>
<circle cx="344.4" cy="496.8" r="3.03" fill="#9c9eb4" stroke="#7a80c2" stroke-width="0.8"/>
<circle cx="350.5" cy="497.5" r="3.02" fill="#a0a2b7" stroke="#7a80c2" stroke-width="0.8"/>
<circle cx="354.8" cy="497.1" r="2.68" fill="#9395ad" stroke="#7a80c2" stroke-width="0.8"/>
<circle cx="361.1" cy="496.2" r="3.01" fill="#9395ad" stroke="#7a80c2" stroke-width="0.8"/>
<circle cx="366.7" cy="497.1" r="2.78" fill="#9799b0" stroke="#7a80c2" stroke-width="0.8"/>
<circle cx="376.5" cy="496.3" r="2.72" fill="#9799b0" stroke="#7a80c2" stroke-width="0.8"/>
<circle cx="295.4" cy="502.2" r="2.85" fill="#9799b0" stroke="#7a80c2" stroke-width="0.8"/>
<circle cx="300.7" cy="502.2" r="2.61" fill="#9395ad" stroke="#7a80c2" stroke-width="0.8"/>
<circle cx="305.7" cy="502.3" r="3.06" fill="#9c9eb4" stroke="#7a80c2" stroke-width="0.8"/>
<circle cx="310.4" cy="501.2" r="2.89" fill="#9799b0" stroke="#7a80c2" stroke-width="0.8"/>
<circle cx="315.5" cy="501.2" r="2.63" fill="#a0a2b7" stroke="#7a80c2" stroke-width="0.8"/>
<circle cx="321.0" cy="501.1" r="2.67" fill="#9799b0" stroke="#7a80c2" stroke-width="0.8"/>
<circle cx="327.2" cy="501.6" r="2.87" fill="#9c9eb4" stroke="#7a80c2" stroke-width="0.8"/>
<circle cx="331.6" cy="502.2" r="2.66" fill="#9395ad" stroke="#7a80c2" stroke-width="0.8"/>
<circle cx="336.4" cy="502.0" r="2.61" fill="#9799b0" stroke="#7a80c2" stroke-width="0.8"/>
<circle cx="348.2" cy="500.8" r="3.09" fill="#9c9eb4" stroke="#7a80c2" stroke-width="0.8"/>
<circle cx="352.9" cy="501.5" r="2.90" fill="#9395ad" stroke="#7a80c2" stroke-width="0.8"/>
<circle cx="363.0" cy="501.9" r="2.71" fill="#9799b0" stroke="#7a80c2" stroke-width="0.8"/>
<circle cx="368.7" cy="501.9" r="3.06" fill="#a0a2b7" stroke="#7a80c2" stroke-width="0.8"/>
<circle cx="374.0" cy="502.3" r="2.67" fill="#9395ad" stroke="#7a80c2" stroke-width="0.8"/>
<circle cx="379.9" cy="501.4" r="2.71" fill="#9395ad" stroke="#7a80c2" stroke-width="0.8"/>
<circle cx="286.6" cy="505.8" r="2.60" fill="#9395ad" stroke="#7a80c2" stroke-width="0.8"/>
<circle cx="292.2" cy="506.6" r="2.64" fill="#9799b0" stroke="#7a80c2" stroke-width="0.8"/>
<circle cx="297.1" cy="506.8" r="2.92" fill="#9c9eb4" stroke="#7a80c2" stroke-width="0.8"/>
<circle cx="303.0" cy="506.2" r="2.67" fill="#a0a2b7" stroke="#7a80c2" stroke-width="0.8"/>
<circle cx="313.9" cy="505.4" r="2.64" fill="#a0a2b7" stroke="#7a80c2" stroke-width="0.8"/>
<circle cx="317.9" cy="506.4" r="2.68" fill="#9c9eb4" stroke="#7a80c2" stroke-width="0.8"/>
<circle cx="323.8" cy="507.0" r="2.74" fill="#9799b0" stroke="#7a80c2" stroke-width="0.8"/>
<circle cx="328.5" cy="506.0" r="2.87" fill="#a0a2b7" stroke="#7a80c2" stroke-width="0.8"/>
<circle cx="334.3" cy="506.8" r="2.73" fill="#9c9eb4" stroke="#7a80c2" stroke-width="0.8"/>
<circle cx="356.0" cy="506.1" r="3.00" fill="#9c9eb4" stroke="#7a80c2" stroke-width="0.8"/>
<circle cx="360.2" cy="506.2" r="3.04" fill="#a0a2b7" stroke="#7a80c2" stroke-width="0.8"/>
<circle cx="366.6" cy="506.3" r="2.93" fill="#9799b0" stroke="#7a80c2" stroke-width="0.8"/>
<circle cx="372.2" cy="506.0" r="3.09" fill="#a0a2b7" stroke="#7a80c2" stroke-width="0.8"/>
<circle cx="376.5" cy="505.7" r="2.92" fill="#9799b0" stroke="#7a80c2" stroke-width="0.8"/>
<circle cx="300.0" cy="511.4" r="2.67" fill="#a0a2b7" stroke="#7a80c2" stroke-width="0.8"/>
<circle cx="305.0" cy="510.9" r="2.88" fill="#9c9eb4" stroke="#7a80c2" stroke-width="0.8"/>
<circle cx="309.8" cy="511.3" r="2.79" fill="#9c9eb4" stroke="#7a80c2" stroke-width="0.8"/>
<circle cx="315.6" cy="511.4" r="2.97" fill="#9c9eb4" stroke="#7a80c2" stroke-width="0.8"/>
<circle cx="336.7" cy="511.5" r="2.90" fill="#9c9eb4" stroke="#7a80c2" stroke-width="0.8"/>
<circle cx="352.9" cy="511.2" r="2.61" fill="#9799b0" stroke="#7a80c2" stroke-width="0.8"/>
<circle cx="374.5" cy="511.2" r="2.62" fill="#9799b0" stroke="#7a80c2" stroke-width="0.8"/>
<circle cx="379.8" cy="510.6" r="3.08" fill="#9799b0" stroke="#7a80c2" stroke-width="0.8"/>
<circle cx="297.2" cy="515.3" r="2.86" fill="#9395ad" stroke="#7a80c2" stroke-width="0.8"/>
<circle cx="303.2" cy="515.5" r="3.07" fill="#9c9eb4" stroke="#7a80c2" stroke-width="0.8"/>
<circle cx="307.6" cy="515.8" r="2.78" fill="#9c9eb4" stroke="#7a80c2" stroke-width="0.8"/>
<circle cx="312.5" cy="515.5" r="2.69" fill="#a0a2b7" stroke="#7a80c2" stroke-width="0.8"/>
<circle cx="317.9" cy="515.6" r="3.07" fill="#a0a2b7" stroke="#7a80c2" stroke-width="0.8"/>
<circle cx="334.4" cy="516.3" r="2.93" fill="#9c9eb4" stroke="#7a80c2" stroke-width="0.8"/>
<circle cx="339.6" cy="516.1" r="2.91" fill="#9395ad" stroke="#7a80c2" stroke-width="0.8"/>
<circle cx="344.5" cy="515.5" r="2.84" fill="#9395ad" stroke="#7a80c2" stroke-width="0.8"/>
<circle cx="350.6" cy="514.9" r="2.77" fill="#9799b0" stroke="#7a80c2" stroke-width="0.8"/>
<circle cx="355.0" cy="515.8" r="2.62" fill="#9c9eb4" stroke="#7a80c2" stroke-width="0.8"/>
<circle cx="376.5" cy="515.0" r="2.81" fill="#9395ad" stroke="#7a80c2" stroke-width="0.8"/>
<circle cx="289.9" cy="519.6" r="2.62" fill="#9c9eb4" stroke="#7a80c2" stroke-width="0.8"/>
<circle cx="294.0" cy="520.7" r="2.65" fill="#a0a2b7" stroke="#7a80c2" stroke-width="0.8"/>
<circle cx="305.4" cy="520.0" r="3.07" fill="#9395ad" stroke="#7a80c2" stroke-width="0.8"/>
<circle cx="311.3" cy="520.2" r="2.66" fill="#9c9eb4" stroke="#7a80c2" stroke-width="0.8"/>
<circle cx="315.9" cy="519.6" r="2.82" fill="#a0a2b7" stroke="#7a80c2" stroke-width="0.8"/>
<circle cx="320.8" cy="520.4" r="2.62" fill="#a0a2b7" stroke="#7a80c2" stroke-width="0.8"/>
<circle cx="331.2" cy="520.6" r="2.76" fill="#9c9eb4" stroke="#7a80c2" stroke-width="0.8"/>
<circle cx="337.5" cy="520.3" r="3.03" fill="#9799b0" stroke="#7a80c2" stroke-width="0.8"/>
<circle cx="342.6" cy="520.0" r="2.74" fill="#9395ad" stroke="#7a80c2" stroke-width="0.8"/>
<circle cx="348.0" cy="519.9" r="2.67" fill="#9799b0" stroke="#7a80c2" stroke-width="0.8"/>
<circle cx="352.5" cy="520.6" r="2.82" fill="#9799b0" stroke="#7a80c2" stroke-width="0.8"/>
<circle cx="357.8" cy="519.9" r="2.73" fill="#a0a2b7" stroke="#7a80c2" stroke-width="0.8"/>
<circle cx="363.5" cy="520.6" r="2.65" fill="#a0a2b7" stroke="#7a80c2" stroke-width="0.8"/>
<circle cx="369.0" cy="519.9" r="2.87" fill="#9799b0" stroke="#7a80c2" stroke-width="0.8"/>
<circle cx="379.6" cy="520.3" r="2.90" fill="#9395ad" stroke="#7a80c2" stroke-width="0.8"/>
<circle cx="286.0" cy="524.7" r="2.81" fill="#9395ad" stroke="#7a80c2" stroke-width="0.8"/>
<circle cx="292.8" cy="524.4" r="2.60" fill="#9799b0" stroke="#7a80c2" stroke-width="0.8"/>
<circle cx="298.0" cy="524.7" r="2.81" fill="#9395ad" stroke="#7a80c2" stroke-width="0.8"/>
<circle cx="303.1" cy="525.3" r="2.96" fill="#9395ad" stroke="#7a80c2" stroke-width="0.8"/>
<circle cx="308.1" cy="525.5" r="2.93" fill="#a0a2b7" stroke="#7a80c2" stroke-width="0.8"/>
<circle cx="313.3" cy="525.0" r="2.62" fill="#9395ad" stroke="#7a80c2" stroke-width="0.8"/>
<circle cx="318.6" cy="525.0" r="2.68" fill="#9c9eb4" stroke="#7a80c2" stroke-width="0.8"/>
<circle cx="323.3" cy="525.0" r="2.93" fill="#a0a2b7" stroke="#7a80c2" stroke-width="0.8"/>
<circle cx="328.9" cy="525.2" r="3.06" fill="#9395ad" stroke="#7a80c2" stroke-width="0.8"/>
<circle cx="333.9" cy="524.6" r="2.82" fill="#9395ad" stroke="#7a80c2" stroke-width="0.8"/>
<circle cx="339.4" cy="525.4" r="2.99" fill="#a0a2b7" stroke="#7a80c2" stroke-width="0.8"/>
<circle cx="345.4" cy="525.6" r="2.67" fill="#9799b0" stroke="#7a80c2" stroke-width="0.8"/>
<circle cx="349.6" cy="524.2" r="2.69" fill="#9799b0" stroke="#7a80c2" stroke-width="0.8"/>
<circle cx="356.2" cy="525.6" r="2.86" fill="#9395ad" stroke="#7a80c2" stroke-width="0.8"/>
<circle cx="360.1" cy="525.5" r="3.02" fill="#a0a2b7" stroke="#7a80c2" stroke-width="0.8"/>
<circle cx="366.4" cy="525.3" r="2.61" fill="#9c9eb4" stroke="#7a80c2" stroke-width="0.8"/>
<circle cx="372.1" cy="525.8" r="2.95" fill="#9799b0" stroke="#7a80c2" stroke-width="0.8"/>
<circle cx="376.3" cy="525.1" r="2.71" fill="#9c9eb4" stroke="#7a80c2" stroke-width="0.8"/>
<ellipse cx="307.2" cy="488.5" rx="8.5" ry="7.0" fill="#5e4aa6" opacity="0.85"/>
<ellipse cx="307.2" cy="487.2" rx="5.4" ry="3.4" fill="#5018a8"/>
<ellipse cx="358.5" cy="481.0" rx="6.5" ry="8.5" fill="#5e4aa6" opacity="0.8"/>
<ellipse cx="361.8" cy="487.5" rx="3.4" ry="4.2" fill="#6a14b8"/>
<ellipse cx="290.8" cy="463.0" rx="3.0" ry="4.2" fill="#5218a8"/>
<ellipse cx="292.5" cy="477.3" rx="2.8" ry="3.7" fill="#a020b8"/>
<ellipse cx="323.2" cy="477.9" rx="4.3" ry="4.3" fill="#5a1cb0"/>
<ellipse cx="312.0" cy="514.0" rx="3.4" ry="4.1" fill="#9a18b8"/>
<circle cx="373.0" cy="512.7" r="1.2" fill="#3a2090"/>
</g></g>
<clipPath id="c4"><rect x="381.5" y="451.5" width="91.69999999999999" height="69.5"/></clipPath>
<g clip-path="url(#c4)"><g filter="url(#pb)">
<rect x="381.5" y="451.5" width="91.70" height="69.50" fill="#dccac2"/>
<ellipse cx="416.4" cy="467.5" rx="2.63" ry="1.54" fill="#d49c7c" opacity="0.6"/>
<ellipse cx="396.7" cy="515.0" rx="1.87" ry="1.67" fill="#c07a58" opacity="0.6"/>
<ellipse cx="432.2" cy="478.2" rx="2.94" ry="2.36" fill="#c98a66" opacity="0.6"/>
<ellipse cx="448.6" cy="491.6" rx="2.62" ry="1.67" fill="#c98a66" opacity="0.6"/>
<ellipse cx="458.5" cy="482.0" rx="2.01" ry="1.82" fill="#c98a66" opacity="0.6"/>
<ellipse cx="447.8" cy="463.1" rx="2.47" ry="2.16" fill="#d49c7c" opacity="0.6"/>
<ellipse cx="441.5" cy="494.6" rx="3.16" ry="2.55" fill="#d49c7c" opacity="0.6"/>
<ellipse cx="458.6" cy="466.5" rx="1.98" ry="2.26" fill="#c98a66" opacity="0.6"/>
<ellipse cx="393.0" cy="498.1" rx="1.81" ry="1.68" fill="#c07a58" opacity="0.6"/>
<ellipse cx="392.8" cy="515.0" rx="2.82" ry="1.37" fill="#c98a66" opacity="0.6"/>
<ellipse cx="444.7" cy="519.6" rx="2.95" ry="1.43" fill="#c98a66" opacity="0.6"/>
<ellipse cx="386.4" cy="473.6" rx="2.91" ry="1.24" fill="#c07a58" opacity="0.6"/>
<ellipse cx="438.3" cy="493.8" rx="1.83" ry="1.50" fill="#c07a58" opacity="0.6"/>
<ellipse cx="398.2" cy="513.2" rx="3.19" ry="1.62" fill="#d49c7c" opacity="0.6"/>
<ellipse cx="459.1" cy="472.4" rx="2.87" ry="1.24" fill="#c98a66" opacity="0.6"/>
<ellipse cx="426.7" cy="478.9" rx="2.90" ry="2.23" fill="#d49c7c" opacity="0.6"/>
<ellipse cx="383.5" cy="460.9" rx="1.51" ry="1.85" fill="#c98a66" opacity="0.6"/>
<ellipse cx="441.6" cy="473.9" rx="2.30" ry="2.51" fill="#c07a58" opacity="0.6"/>
<ellipse cx="391.5" cy="497.4" rx="2.67" ry="2.24" fill="#c98a66" opacity="0.6"/>
<ellipse cx="393.2" cy="513.3" rx="1.60" ry="1.56" fill="#c98a66" opacity="0.6"/>
<ellipse cx="437.4" cy="480.6" rx="1.62" ry="2.71" fill="#c07a58" opacity="0.6"/>
<ellipse cx="419.2" cy="482.8" rx="2.42" ry="2.69" fill="#c98a66" opacity="0.6"/>
<ellipse cx="406.9" cy="513.9" rx="2.26" ry="1.95" fill="#c98a66" opacity="0.6"/>
<ellipse cx="411.4" cy="515.8" rx="2.51" ry="1.44" fill="#c98a66" opacity="0.6"/>
<ellipse cx="384.3" cy="464.1" rx="1.66" ry="1.21" fill="#c98a66" opacity="0.6"/>
<ellipse cx="442.6" cy="456.0" rx="2.80" ry="1.47" fill="#d49c7c" opacity="0.6"/>
<ellipse cx="395.7" cy="474.4" rx="1.90" ry="2.17" fill="#c98a66" opacity="0.6"/>
<ellipse cx="392.4" cy="520.8" rx="1.67" ry="1.38" fill="#c98a66" opacity="0.6"/>
<ellipse cx="436.4" cy="501.1" rx="2.56" ry="2.38" fill="#c98a66" opacity="0.6"/>
<ellipse cx="432.2" cy="486.1" rx="1.68" ry="2.33" fill="#c98a66" opacity="0.6"/>
<ellipse cx="470.5" cy="513.6" rx="2.30" ry="1.54" fill="#c07a58" opacity="0.6"/>
<ellipse cx="435.6" cy="516.9" rx="2.28" ry="1.78" fill="#c98a66" opacity="0.6"/>
<ellipse cx="440.0" cy="487.2" rx="2.85" ry="2.09" fill="#c07a58" opacity="0.6"/>
<ellipse cx="441.1" cy="463.8" rx="2.41" ry="2.54" fill="#d49c7c" opacity="0.6"/>
<ellipse cx="388.1" cy="486.9" rx="2.95" ry="1.30" fill="#c07a58" opacity="0.6"/>
<ellipse cx="436.1" cy="476.0" rx="2.16" ry="1.39" fill="#c07a58" opacity="0.6"/>
<ellipse cx="464.6" cy="472.9" rx="3.08" ry="1.62" fill="#d49c7c" opacity="0.6"/>
<ellipse cx="395.4" cy="510.8" rx="2.02" ry="2.05" fill="#d49c7c" opacity="0.6"/>
<ellipse cx="437.6" cy="509.2" rx="3.09" ry="2.74" fill="#d49c7c" opacity="0.6"/>
<ellipse cx="461.2" cy="470.9" rx="3.17" ry="1.31" fill="#d49c7c" opacity="0.6"/>
<ellipse cx="435.4" cy="472.6" rx="1.95" ry="2.57" fill="#d49c7c" opacity="0.6"/>
<ellipse cx="436.0" cy="467.7" rx="2.93" ry="1.68" fill="#c98a66" opacity="0.6"/>
<ellipse cx="388.1" cy="485.9" rx="2.55" ry="2.76" fill="#c07a58" opacity="0.6"/>
<ellipse cx="467.7" cy="508.9" rx="3.08" ry="1.94" fill="#c98a66" opacity="0.6"/>
<ellipse cx="399.4" cy="507.3" rx="2.88" ry="1.29" fill="#c07a58" opacity="0.6"/>
<ellipse cx="411.1" cy="477.0" rx="2.99" ry="2.01" fill="#c07a58" opacity="0.6"/>
<ellipse cx="397.3" cy="511.8" rx="3.03" ry="2.51" fill="#c07a58" opacity="0.6"/>
<ellipse cx="401.8" cy="512.2" rx="2.40" ry="2.43" fill="#d49c7c" opacity="0.6"/>
<ellipse cx="441.6" cy="488.4" rx="2.94" ry="2.24" fill="#c07a58" opacity="0.6"/>
<ellipse cx="406.3" cy="453.2" rx="2.91" ry="1.69" fill="#d49c7c" opacity="0.6"/>
<ellipse cx="416.9" cy="464.4" rx="3.15" ry="2.70" fill="#c98a66" opacity="0.6"/>
<ellipse cx="429.8" cy="492.3" rx="1.95" ry="2.59" fill="#c07a58" opacity="0.6"/>
<ellipse cx="444.7" cy="485.5" rx="1.99" ry="1.40" fill="#d49c7c" opacity="0.6"/>
<ellipse cx="391.2" cy="478.5" rx="2.38" ry="1.20" fill="#d49c7c" opacity="0.6"/>
<ellipse cx="473.2" cy="498.0" rx="1.70" ry="1.87" fill="#c07a58" opacity="0.6"/>
<ellipse cx="450.5" cy="477.4" rx="2.26" ry="1.57" fill="#d49c7c" opacity="0.6"/>
<ellipse cx="415.5" cy="475.9" rx="2.92" ry="2.05" fill="#d49c7c" opacity="0.6"/>
<ellipse cx="458.8" cy="473.4" rx="2.27" ry="2.71" fill="#d49c7c" opacity="0.6"/>
<ellipse cx="464.3" cy="473.3" rx="3.06" ry="1.24" fill="#c98a66" opacity="0.6"/>
<ellipse cx="458.2" cy="465.0" rx="2.52" ry="2.27" fill="#d49c7c" opacity="0.6"/>
<ellipse cx="464.3" cy="519.2" rx="1.55" ry="2.65" fill="#c98a66" opacity="0.6"/>
<ellipse cx="413.2" cy="463.2" rx="2.99" ry="2.67" fill="#d49c7c" opacity="0.6"/>
<ellipse cx="464.0" cy="484.3" rx="1.79" ry="2.44" fill="#d49c7c" opacity="0.6"/>
<ellipse cx="425.9" cy="469.0" rx="1.97" ry="1.51" fill="#c07a58" opacity="0.6"/>
<ellipse cx="444.4" cy="488.5" rx="2.80" ry="1.21" fill="#c07a58" opacity="0.6"/>
<ellipse cx="464.4" cy="468.6" rx="2.90" ry="2.79" fill="#c07a58" opacity="0.6"/>
<ellipse cx="442.5" cy="471.1" rx="1.64" ry="2.02" fill="#c98a66" opacity="0.6"/>
<ellipse cx="404.5" cy="510.8" rx="2.00" ry="2.59" fill="#c07a58" opacity="0.6"/>
<ellipse cx="459.0" cy="520.6" rx="2.82" ry="1.73" fill="#c98a66" opacity="0.6"/>
<ellipse cx="382.6" cy="496.5" rx="2.34" ry="2.79" fill="#c07a58" opacity="0.6"/>
<ellipse cx="402.9" cy="516.1" rx="1.90" ry="1.43" fill="#c98a66" opacity="0.6"/>
<ellipse cx="385.0" cy="465.6" rx="2.61" ry="1.79" fill="#d49c7c" opacity="0.6"/>
<ellipse cx="389.6" cy="490.9" rx="2.25" ry="2.05" fill="#c07a58" opacity="0.6"/>
<ellipse cx="469.8" cy="511.1" rx="3.10" ry="2.04" fill="#c98a66" opacity="0.6"/>
<ellipse cx="438.5" cy="519.7" rx="2.11" ry="1.54" fill="#d49c7c" opacity="0.6"/>
<ellipse cx="470.6" cy="505.0" rx="3.06" ry="1.68" fill="#c98a66" opacity="0.6"/>
<ellipse cx="383.0" cy="517.3" rx="2.21" ry="1.31" fill="#d49c7c" opacity="0.6"/>
<ellipse cx="433.6" cy="482.9" rx="1.55" ry="2.67" fill="#c07a58" opacity="0.6"/>
<ellipse cx="421.0" cy="470.3" rx="2.19" ry="1.91" fill="#d49c7c" opacity="0.6"/>
<ellipse cx="384.6" cy="494.5" rx="2.75" ry="2.25" fill="#d49c7c" opacity="0.6"/>
<ellipse cx="466.1" cy="514.3" rx="1.81" ry="1.43" fill="#d49c7c" opacity="0.6"/>
<ellipse cx="460.8" cy="488.8" rx="2.21" ry="1.55" fill="#c07a58" opacity="0.6"/>
<ellipse cx="416.8" cy="484.2" rx="3.19" ry="1.67" fill="#d49c7c" opacity="0.6"/>
<ellipse cx="415.5" cy="517.9" rx="3.02" ry="2.38" fill="#d49c7c" opacity="0.6"/>
<ellipse cx="465.8" cy="513.9" rx="1.56" ry="1.79" fill="#c98a66" opacity="0.6"/>
<ellipse cx="429.2" cy="487.0" rx="3.03" ry="2.02" fill="#d49c7c" opacity="0.6"/>
<ellipse cx="444.5" cy="471.6" rx="1.98" ry="1.71" fill="#c98a66" opacity="0.6"/>
<ellipse cx="398.4" cy="520.0" rx="2.85" ry="2.04" fill="#d49c7c" opacity="0.6"/>
<ellipse cx="455.0" cy="470.2" rx="2.58" ry="1.71" fill="#d49c7c" opacity="0.6"/>
<ellipse cx="469.1" cy="463.6" rx="2.59" ry="1.50" fill="#c98a66" opacity="0.6"/>
<ellipse cx="471.8" cy="461.8" rx="2.91" ry="1.75" fill="#d49c7c" opacity="0.6"/>
<ellipse cx="413.7" cy="452.0" rx="1.55" ry="1.54" fill="#d49c7c" opacity="0.6"/>
<ellipse cx="389.8" cy="520.1" rx="3.20" ry="2.14" fill="#c07a58" opacity="0.6"/>
<ellipse cx="414.9" cy="517.5" rx="1.80" ry="2.04" fill="#d49c7c" opacity="0.6"/>
<ellipse cx="394.9" cy="472.3" rx="2.50" ry="2.13" fill="#c07a58" opacity="0.6"/>
<ellipse cx="468.4" cy="503.4" rx="2.39" ry="2.73" fill="#c07a58" opacity="0.6"/>
<ellipse cx="431.2" cy="469.0" rx="3.15" ry="2.51" fill="#d49c7c" opacity="0.6"/>
<ellipse cx="428.2" cy="480.4" rx="1.51" ry="2.37" fill="#d49c7c" opacity="0.6"/>
<ellipse cx="413.3" cy="478.3" rx="2.75" ry="2.61" fill="#c07a58" opacity="0.6"/>
<ellipse cx="451.5" cy="461.8" rx="2.73" ry="2.19" fill="#c07a58" opacity="0.6"/>
<ellipse cx="390.3" cy="482.6" rx="2.58" ry="2.52" fill="#d49c7c" opacity="0.6"/>
<ellipse cx="391.7" cy="471.6" rx="2.95" ry="1.31" fill="#c07a58" opacity="0.6"/>
<ellipse cx="412.1" cy="516.9" rx="2.80" ry="2.56" fill="#d49c7c" opacity="0.6"/>
<ellipse cx="442.9" cy="492.7" rx="2.27" ry="2.27" fill="#c98a66" opacity="0.6"/>
<ellipse cx="466.3" cy="492.8" rx="2.31" ry="2.60" fill="#c98a66" opacity="0.6"/>
<ellipse cx="390.6" cy="481.3" rx="1.88" ry="1.60" fill="#c98a66" opacity="0.6"/>
<ellipse cx="418.7" cy="460.6" rx="2.90" ry="2.50" fill="#d49c7c" opacity="0.6"/>
<ellipse cx="468.8" cy="452.7" rx="2.02" ry="2.76" fill="#d49c7c" opacity="0.6"/>
<ellipse cx="422.0" cy="468.6" rx="1.57" ry="2.21" fill="#c98a66" opacity="0.6"/>
<ellipse cx="409.3" cy="513.8" rx="1.78" ry="1.39" fill="#c98a66" opacity="0.6"/>
<ellipse cx="439.3" cy="453.9" rx="2.85" ry="1.66" fill="#c98a66" opacity="0.6"/>
<ellipse cx="411.5" cy="509.6" rx="2.49" ry="1.39" fill="#c98a66" opacity="0.6"/>
<ellipse cx="418.4" cy="455.5" rx="2.80" ry="2.53" fill="#d49c7c" opacity="0.6"/>
<ellipse cx="424.6" cy="489.1" rx="2.72" ry="2.63" fill="#c07a58" opacity="0.6"/>
<ellipse cx="424.6" cy="480.8" rx="1.91" ry="1.48" fill="#d49c7c" opacity="0.6"/>
<ellipse cx="467.5" cy="498.1" rx="2.04" ry="1.34" fill="#c07a58" opacity="0.6"/>
<ellipse cx="422.2" cy="482.6" rx="1.88" ry="2.40" fill="#c98a66" opacity="0.6"/>
<ellipse cx="452.1" cy="468.1" rx="3.17" ry="2.18" fill="#d49c7c" opacity="0.6"/>
<ellipse cx="389.8" cy="461.8" rx="2.86" ry="1.89" fill="#d49c7c" opacity="0.6"/>
<ellipse cx="386.2" cy="498.1" rx="2.60" ry="1.62" fill="#c07a58" opacity="0.6"/>
<ellipse cx="438.3" cy="453.7" rx="1.74" ry="2.03" fill="#c98a66" opacity="0.6"/>
<ellipse cx="414.9" cy="483.6" rx="2.46" ry="2.50" fill="#d49c7c" opacity="0.6"/>
<ellipse cx="412.4" cy="468.9" rx="2.20" ry="2.15" fill="#d49c7c" opacity="0.6"/>
<ellipse cx="415.6" cy="467.3" rx="2.97" ry="1.45" fill="#c07a58" opacity="0.6"/>
<ellipse cx="387.9" cy="491.2" rx="1.60" ry="2.70" fill="#d49c7c" opacity="0.6"/>
<ellipse cx="383.7" cy="481.6" rx="1.93" ry="1.82" fill="#d49c7c" opacity="0.6"/>
<ellipse cx="446.3" cy="483.4" rx="3.16" ry="1.99" fill="#c07a58" opacity="0.6"/>
<ellipse cx="382.1" cy="501.0" rx="2.61" ry="2.54" fill="#d49c7c" opacity="0.6"/>
<ellipse cx="417.8" cy="488.6" rx="2.32" ry="2.03" fill="#d49c7c" opacity="0.6"/>
<ellipse cx="391.1" cy="495.0" rx="1.67" ry="2.10" fill="#c98a66" opacity="0.6"/>
<ellipse cx="393.6" cy="498.0" rx="2.42" ry="1.49" fill="#d49c7c" opacity="0.6"/>
<ellipse cx="437.6" cy="499.1" rx="2.75" ry="1.46" fill="#d49c7c" opacity="0.6"/>
<ellipse cx="468.0" cy="520.0" rx="3.19" ry="1.68" fill="#c07a58" opacity="0.6"/>
<ellipse cx="451.7" cy="462.4" rx="2.74" ry="2.27" fill="#d49c7c" opacity="0.6"/>
<ellipse cx="452.5" cy="463.8" rx="1.71" ry="1.58" fill="#d49c7c" opacity="0.6"/>
<ellipse cx="471.3" cy="453.7" rx="1.87" ry="1.42" fill="#c98a66" opacity="0.6"/>
<ellipse cx="383.0" cy="479.4" rx="2.20" ry="1.76" fill="#c98a66" opacity="0.6"/>
<ellipse cx="388.7" cy="517.7" rx="2.85" ry="1.77" fill="#d49c7c" opacity="0.6"/>
<ellipse cx="466.8" cy="469.5" rx="2.22" ry="1.25" fill="#d49c7c" opacity="0.6"/>
<ellipse cx="461.2" cy="475.8" rx="1.86" ry="2.29" fill="#c98a66" opacity="0.6"/>
<ellipse cx="381.6" cy="454.1" rx="2.56" ry="2.00" fill="#d49c7c" opacity="0.6"/>
<ellipse cx="425.0" cy="492.9" rx="3.12" ry="2.69" fill="#c07a58" opacity="0.6"/>
<ellipse cx="412.3" cy="469.7" rx="2.63" ry="1.99" fill="#c07a58" opacity="0.6"/>
<ellipse cx="383.4" cy="515.2" rx="3.09" ry="2.61" fill="#d49c7c" opacity="0.6"/>
<ellipse cx="445.6" cy="469.9" rx="1.78" ry="2.55" fill="#d49c7c" opacity="0.6"/>
<ellipse cx="440.1" cy="482.9" rx="1.54" ry="2.59" fill="#c98a66" opacity="0.6"/>
<ellipse cx="451.0" cy="464.4" rx="1.68" ry="2.75" fill="#c98a66" opacity="0.6"/>
<ellipse cx="387.4" cy="470.2" rx="1.78" ry="1.81" fill="#c07a58" opacity="0.6"/>
<ellipse cx="443.5" cy="466.4" rx="2.58" ry="1.26" fill="#c07a58" opacity="0.6"/>
<ellipse cx="409.3" cy="505.4" rx="1.91" ry="2.21" fill="#d49c7c" opacity="0.6"/>
<ellipse cx="419.5" cy="459.1" rx="1.76" ry="2.49" fill="#c98a66" opacity="0.6"/>
<ellipse cx="459.5" cy="494.0" rx="1.90" ry="1.46" fill="#c07a58" opacity="0.6"/>
<ellipse cx="406.4" cy="452.2" rx="1.98" ry="2.31" fill="#d49c7c" opacity="0.6"/>
<ellipse cx="413.7" cy="520.3" rx="1.56" ry="1.61" fill="#c98a66" opacity="0.6"/>
<ellipse cx="448.9" cy="474.0" rx="1.77" ry="2.13" fill="#c07a58" opacity="0.6"/>
<ellipse cx="436.7" cy="513.1" rx="2.03" ry="1.89" fill="#d49c7c" opacity="0.6"/>
<ellipse cx="447.9" cy="474.8" rx="3.14" ry="1.75" fill="#c98a66" opacity="0.6"/>
<ellipse cx="472.7" cy="498.1" rx="2.53" ry="2.00" fill="#c07a58" opacity="0.6"/>
<ellipse cx="403.5" cy="507.7" rx="2.46" ry="2.77" fill="#c98a66" opacity="0.6"/>
<ellipse cx="401.2" cy="520.1" rx="2.69" ry="2.37" fill="#c07a58" opacity="0.6"/>
<ellipse cx="436.9" cy="471.7" rx="1.52" ry="1.57" fill="#d49c7c" opacity="0.6"/>
<ellipse cx="407.1" cy="515.8" rx="2.84" ry="1.35" fill="#c98a66" opacity="0.6"/>
<ellipse cx="439.8" cy="480.4" rx="2.77" ry="1.83" fill="#c07a58" opacity="0.6"/>
<ellipse cx="381.7" cy="490.5" rx="2.18" ry="2.09" fill="#c07a58" opacity="0.6"/>
<ellipse cx="444.8" cy="490.1" rx="1.88" ry="1.72" fill="#d49c7c" opacity="0.6"/>
<ellipse cx="418.2" cy="489.5" rx="2.65" ry="1.82" fill="#d49c7c" opacity="0.6"/>
<ellipse cx="391.1" cy="496.3" rx="2.60" ry="1.64" fill="#d49c7c" opacity="0.6"/>
<ellipse cx="387.6" cy="460.7" rx="1.86" ry="2.76" fill="#c07a58" opacity="0.6"/>
<ellipse cx="388.8" cy="517.7" rx="2.53" ry="1.94" fill="#c07a58" opacity="0.6"/>
<ellipse cx="464.8" cy="495.0" rx="2.78" ry="2.25" fill="#d49c7c" opacity="0.6"/>
<ellipse cx="467.5" cy="466.1" rx="2.90" ry="1.20" fill="#c98a66" opacity="0.6"/>
<ellipse cx="442.2" cy="484.4" rx="1.81" ry="2.59" fill="#c07a58" opacity="0.6"/>
<ellipse cx="391.4" cy="491.6" rx="1.95" ry="2.72" fill="#c07a58" opacity="0.6"/>
<ellipse cx="391.6" cy="471.0" rx="3.15" ry="2.54" fill="#d49c7c" opacity="0.6"/>
<ellipse cx="463.7" cy="485.8" rx="2.67" ry="1.45" fill="#c98a66" opacity="0.6"/>
<ellipse cx="445.8" cy="491.7" rx="1.68" ry="1.70" fill="#d49c7c" opacity="0.6"/>
<ellipse cx="449.5" cy="492.2" rx="2.06" ry="1.98" fill="#c07a58" opacity="0.6"/>
<ellipse cx="441.8" cy="518.4" rx="1.69" ry="1.68" fill="#d49c7c" opacity="0.6"/>
<ellipse cx="451.6" cy="451.5" rx="2.22" ry="2.12" fill="#d49c7c" opacity="0.6"/>
<ellipse cx="388.9" cy="454.2" rx="1.84" ry="1.43" fill="#c98a66" opacity="0.6"/>
<ellipse cx="463.4" cy="466.1" rx="2.68" ry="2.18" fill="#c07a58" opacity="0.6"/>
<ellipse cx="423.9" cy="492.1" rx="2.39" ry="2.73" fill="#c07a58" opacity="0.6"/>
<ellipse cx="457.8" cy="484.1" rx="2.84" ry="2.42" fill="#c07a58" opacity="0.6"/>
<ellipse cx="444.7" cy="478.8" rx="2.13" ry="2.68" fill="#c07a58" opacity="0.6"/>
<ellipse cx="420.3" cy="472.3" rx="2.93" ry="1.46" fill="#d49c7c" opacity="0.6"/>
<ellipse cx="382.5" cy="465.9" rx="2.65" ry="2.27" fill="#d49c7c" opacity="0.6"/>
<ellipse cx="413.7" cy="499.9" rx="3.15" ry="2.26" fill="#d49c7c" opacity="0.6"/>
<ellipse cx="462.1" cy="491.4" rx="2.93" ry="2.40" fill="#c07a58" opacity="0.6"/>
<ellipse cx="463.1" cy="477.9" rx="2.26" ry="2.09" fill="#c98a66" opacity="0.6"/>
<ellipse cx="468.7" cy="491.9" rx="2.27" ry="1.35" fill="#c07a58" opacity="0.6"/>
<ellipse cx="413.2" cy="462.2" rx="1.66" ry="2.52" fill="#c98a66" opacity="0.6"/>
<ellipse cx="454.9" cy="463.6" rx="1.62" ry="2.13" fill="#c98a66" opacity="0.6"/>
<ellipse cx="393.6" cy="502.1" rx="2.66" ry="1.69" fill="#d49c7c" opacity="0.6"/>
<ellipse cx="445.8" cy="458.0" rx="2.37" ry="2.50" fill="#c07a58" opacity="0.6"/>
<ellipse cx="419.1" cy="468.1" rx="2.69" ry="1.75" fill="#c98a66" opacity="0.6"/>
<ellipse cx="383.5" cy="489.1" rx="2.77" ry="2.72" fill="#d49c7c" opacity="0.6"/>
<ellipse cx="405.8" cy="511.8" rx="2.48" ry="2.65" fill="#d49c7c" opacity="0.6"/>
<ellipse cx="408.4" cy="453.1" rx="2.00" ry="1.85" fill="#c98a66" opacity="0.6"/>
<ellipse cx="421.2" cy="480.0" rx="2.15" ry="1.68" fill="#c98a66" opacity="0.6"/>
<ellipse cx="407.6" cy="518.4" rx="2.19" ry="1.92" fill="#c07a58" opacity="0.6"/>
<ellipse cx="382.8" cy="467.0" rx="1.81" ry="1.87" fill="#c98a66" opacity="0.6"/>
<ellipse cx="456.7" cy="465.5" rx="2.46" ry="2.77" fill="#c98a66" opacity="0.6"/>
<ellipse cx="453.7" cy="463.8" rx="2.72" ry="1.83" fill="#c98a66" opacity="0.6"/>
<ellipse cx="392.1" cy="477.8" rx="2.43" ry="1.42" fill="#c98a66" opacity="0.6"/>
<ellipse cx="451.0" cy="453.6" rx="1.90" ry="2.13" fill="#c98a66" opacity="0.6"/>
<ellipse cx="408.1" cy="515.7" rx="2.29" ry="1.30" fill="#c07a58" opacity="0.6"/>
<ellipse cx="392.9" cy="512.3" rx="1.67" ry="2.45" fill="#c98a66" opacity="0.6"/>
<ellipse cx="464.6" cy="479.3" rx="2.93" ry="1.21" fill="#c98a66" opacity="0.6"/>
<ellipse cx="406.8" cy="509.6" rx="3.16" ry="1.48" fill="#d49c7c" opacity="0.6"/>
<ellipse cx="427.1" cy="493.2" rx="2.41" ry="1.30" fill="#c07a58" opacity="0.6"/>
<ellipse cx="428.7" cy="483.4" rx="2.93" ry="2.73" fill="#c07a58" opacity="0.6"/>
<ellipse cx="421.7" cy="466.7" rx="1.98" ry="2.43" fill="#d49c7c" opacity="0.6"/>
<ellipse cx="437.5" cy="508.6" rx="2.00" ry="2.75" fill="#c07a58" opacity="0.6"/>
<ellipse cx="420.6" cy="465.9" rx="2.79" ry="2.50" fill="#c07a58" opacity="0.6"/>
<ellipse cx="392.6" cy="514.1" rx="2.91" ry="2.05" fill="#c98a66" opacity="0.6"/>
<ellipse cx="435.2" cy="516.5" rx="1.94" ry="1.26" fill="#c98a66" opacity="0.6"/>
<ellipse cx="435.5" cy="474.7" rx="2.68" ry="2.58" fill="#d49c7c" opacity="0.6"/>
<ellipse cx="425.6" cy="485.0" rx="2.94" ry="1.65" fill="#d49c7c" opacity="0.6"/>
<ellipse cx="416.1" cy="468.9" rx="2.38" ry="2.47" fill="#c07a58" opacity="0.6"/>
<ellipse cx="466.2" cy="517.1" rx="1.73" ry="2.43" fill="#c98a66" opacity="0.6"/>
<ellipse cx="447.4" cy="476.1" rx="2.12" ry="1.74" fill="#d49c7c" opacity="0.6"/>
<ellipse cx="422.0" cy="490.7" rx="2.65" ry="1.35" fill="#c07a58" opacity="0.6"/>
<ellipse cx="389.5" cy="497.2" rx="2.34" ry="1.41" fill="#c07a58" opacity="0.6"/>
<ellipse cx="386.3" cy="489.4" rx="1.95" ry="2.79" fill="#c98a66" opacity="0.6"/>
<ellipse cx="402.5" cy="507.7" rx="1.82" ry="2.56" fill="#c98a66" opacity="0.6"/>
<ellipse cx="383.4" cy="487.1" rx="1.90" ry="2.74" fill="#c07a58" opacity="0.6"/>
<ellipse cx="419.7" cy="465.8" rx="1.91" ry="2.05" fill="#c07a58" opacity="0.6"/>
<ellipse cx="453.3" cy="486.5" rx="2.73" ry="1.81" fill="#c98a66" opacity="0.6"/>
<ellipse cx="472.1" cy="505.6" rx="3.04" ry="1.48" fill="#d49c7c" opacity="0.6"/>
<ellipse cx="450.0" cy="484.5" rx="2.90" ry="2.02" fill="#c98a66" opacity="0.6"/>
<ellipse cx="415.1" cy="457.1" rx="2.76" ry="1.21" fill="#c07a58" opacity="0.6"/>
<ellipse cx="418.7" cy="477.9" rx="2.89" ry="1.55" fill="#c07a58" opacity="0.6"/>
<ellipse cx="460.7" cy="482.3" rx="1.76" ry="2.41" fill="#c98a66" opacity="0.6"/>
<ellipse cx="412.7" cy="454.5" rx="2.65" ry="1.51" fill="#d49c7c" opacity="0.6"/>
<ellipse cx="390.4" cy="478.5" rx="1.52" ry="2.79" fill="#c98a66" opacity="0.6"/>
<ellipse cx="384.7" cy="460.6" rx="2.58" ry="1.59" fill="#d49c7c" opacity="0.6"/>
<ellipse cx="407.8" cy="474.0" rx="1.88" ry="1.84" fill="#c07a58" opacity="0.6"/>
<ellipse cx="467.9" cy="464.3" rx="2.06" ry="2.14" fill="#c07a58" opacity="0.6"/>
<ellipse cx="465.9" cy="486.4" rx="2.08" ry="1.34" fill="#c07a58" opacity="0.6"/>
<ellipse cx="455.4" cy="490.3" rx="3.17" ry="2.57" fill="#d49c7c" opacity="0.6"/>
<ellipse cx="469.5" cy="518.2" rx="2.79" ry="1.81" fill="#c98a66" opacity="0.6"/>
<ellipse cx="438.4" cy="475.0" rx="2.86" ry="1.54" fill="#d49c7c" opacity="0.6"/>
<ellipse cx="419.7" cy="489.0" rx="1.81" ry="2.04" fill="#c98a66" opacity="0.6"/>
<ellipse cx="468.8" cy="502.3" rx="2.36" ry="1.76" fill="#c07a58" opacity="0.6"/>
<ellipse cx="467.1" cy="504.7" rx="2.28" ry="1.59" fill="#c07a58" opacity="0.6"/>
<ellipse cx="445.7" cy="461.7" rx="3.17" ry="2.09" fill="#d49c7c" opacity="0.6"/>
<ellipse cx="441.6" cy="457.5" rx="1.82" ry="1.66" fill="#c98a66" opacity="0.6"/>
<ellipse cx="434.6" cy="488.2" rx="2.38" ry="1.39" fill="#c07a58" opacity="0.6"/>
<ellipse cx="445.7" cy="466.9" rx="2.67" ry="2.07" fill="#c98a66" opacity="0.6"/>
<ellipse cx="426.6" cy="480.4" rx="3.07" ry="2.06" fill="#c07a58" opacity="0.6"/>
<ellipse cx="417.0" cy="467.3" rx="3.08" ry="2.13" fill="#c07a58" opacity="0.6"/>
<ellipse cx="387.2" cy="481.3" rx="1.77" ry="2.33" fill="#d49c7c" opacity="0.6"/>
<ellipse cx="427.1" cy="483.5" rx="2.63" ry="2.59" fill="#c07a58" opacity="0.6"/>
<ellipse cx="397.7" cy="516.4" rx="2.35" ry="1.44" fill="#d49c7c" opacity="0.6"/>
<ellipse cx="424.3" cy="485.5" rx="3.19" ry="2.07" fill="#d49c7c" opacity="0.6"/>
<ellipse cx="416.4" cy="491.0" rx="1.96" ry="2.02" fill="#d49c7c" opacity="0.6"/>
<ellipse cx="437.8" cy="470.5" rx="2.77" ry="2.78" fill="#c07a58" opacity="0.6"/>
<ellipse cx="429.3" cy="491.8" rx="2.93" ry="2.26" fill="#c07a58" opacity="0.6"/>
<ellipse cx="471.7" cy="454.0" rx="2.81" ry="1.81" fill="#c98a66" opacity="0.6"/>
<ellipse cx="468.3" cy="520.1" rx="2.56" ry="2.68" fill="#c07a58" opacity="0.6"/>
<ellipse cx="395.3" cy="453.6" rx="1.13" ry="1.22" fill="#b3c2d8"/>
<ellipse cx="393.5" cy="512.3" rx="1.78" ry="1.39" fill="#a9bbd3"/>
<ellipse cx="390.1" cy="516.6" rx="1.54" ry="0.89" fill="#a0b3ce"/>
<ellipse cx="388.0" cy="476.7" rx="1.12" ry="1.56" fill="#a0b3ce"/>
<ellipse cx="460.3" cy="490.4" rx="1.31" ry="1.26" fill="#a0b3ce"/>
<ellipse cx="422.4" cy="468.6" rx="1.18" ry="1.48" fill="#a9bbd3"/>
<ellipse cx="441.2" cy="464.6" rx="1.34" ry="1.49" fill="#a9bbd3"/>
<ellipse cx="447.9" cy="459.4" rx="1.81" ry="1.40" fill="#a0b3ce"/>
<ellipse cx="425.8" cy="473.6" rx="1.08" ry="0.94" fill="#a9bbd3"/>
<ellipse cx="393.2" cy="499.5" rx="0.94" ry="1.01" fill="#a9bbd3"/>
<ellipse cx="466.1" cy="483.2" rx="1.26" ry="1.40" fill="#a9bbd3"/>
<ellipse cx="446.7" cy="476.3" rx="1.20" ry="0.84" fill="#a0b3ce"/>
<ellipse cx="453.2" cy="478.9" rx="0.95" ry="0.88" fill="#a9bbd3"/>
<ellipse cx="399.9" cy="511.5" rx="1.02" ry="1.30" fill="#a0b3ce"/>
<ellipse cx="431.9" cy="469.1" rx="1.45" ry="0.95" fill="#b3c2d8"/>
<ellipse cx="437.7" cy="482.1" rx="1.44" ry="1.53" fill="#a0b3ce"/>
<ellipse cx="445.8" cy="462.5" rx="1.53" ry="1.07" fill="#a9bbd3"/>
<ellipse cx="425.6" cy="473.1" rx="1.73" ry="1.12" fill="#a9bbd3"/>
<ellipse cx="442.9" cy="486.1" rx="1.08" ry="0.81" fill="#a9bbd3"/>
<ellipse cx="423.2" cy="473.0" rx="1.26" ry="1.15" fill="#a0b3ce"/>
<ellipse cx="433.4" cy="490.9" rx="1.02" ry="1.40" fill="#a0b3ce"/>
<ellipse cx="469.5" cy="451.6" rx="1.13" ry="1.43" fill="#a0b3ce"/>
<ellipse cx="381.6" cy="499.9" rx="1.72" ry="1.04" fill="#a0b3ce"/>
<ellipse cx="472.6" cy="511.1" rx="1.44" ry="0.98" fill="#a0b3ce"/>
<ellipse cx="383.2" cy="464.7" rx="1.06" ry="0.91" fill="#a0b3ce"/>
<ellipse cx="435.5" cy="470.3" rx="1.89" ry="1.51" fill="#a0b3ce"/>
<ellipse cx="456.7" cy="492.8" rx="1.21" ry="1.54" fill="#a0b3ce"/>
<ellipse cx="435.1" cy="517.4" rx="1.33" ry="0.88" fill="#a9bbd3"/>
<ellipse cx="446.0" cy="493.6" rx="1.82" ry="0.87" fill="#a0b3ce"/>
<ellipse cx="412.7" cy="498.3" rx="1.14" ry="1.37" fill="#a0b3ce"/>
<ellipse cx="419.0" cy="484.3" rx="1.31" ry="1.10" fill="#a9bbd3"/>
<ellipse cx="391.2" cy="501.7" rx="1.76" ry="1.27" fill="#a0b3ce"/>
<ellipse cx="392.4" cy="476.1" rx="1.04" ry="1.48" fill="#a0b3ce"/>
<ellipse cx="391.4" cy="453.5" rx="1.53" ry="1.38" fill="#a0b3ce"/>
<ellipse cx="388.5" cy="483.2" rx="1.12" ry="1.26" fill="#a0b3ce"/>
<ellipse cx="459.9" cy="494.7" rx="1.01" ry="1.30" fill="#b3c2d8"/>
<ellipse cx="446.5" cy="487.3" rx="0.99" ry="1.26" fill="#b3c2d8"/>
<ellipse cx="407.1" cy="520.7" rx="1.07" ry="0.82" fill="#a9bbd3"/>
<ellipse cx="460.6" cy="485.3" rx="0.92" ry="1.12" fill="#a0b3ce"/>
<ellipse cx="449.1" cy="493.3" rx="1.50" ry="1.36" fill="#a9bbd3"/>
<ellipse cx="393.4" cy="480.5" rx="1.61" ry="1.17" fill="#b3c2d8"/>
<ellipse cx="415.6" cy="470.6" rx="1.55" ry="1.45" fill="#b3c2d8"/>
<ellipse cx="414.8" cy="492.5" rx="1.45" ry="1.12" fill="#a9bbd3"/>
<ellipse cx="403.9" cy="509.0" rx="1.67" ry="1.35" fill="#a0b3ce"/>
<ellipse cx="389.5" cy="483.3" rx="1.18" ry="0.92" fill="#a9bbd3"/>
<ellipse cx="437.0" cy="468.0" rx="1.68" ry="0.85" fill="#b3c2d8"/>
<ellipse cx="444.4" cy="482.1" rx="0.94" ry="1.07" fill="#a9bbd3"/>
<ellipse cx="385.2" cy="489.0" rx="1.10" ry="1.35" fill="#a9bbd3"/>
<ellipse cx="387.0" cy="499.0" rx="1.62" ry="1.08" fill="#a0b3ce"/>
<ellipse cx="387.8" cy="484.0" rx="1.55" ry="0.81" fill="#b3c2d8"/>
<ellipse cx="410.6" cy="451.5" rx="1.61" ry="1.22" fill="#a0b3ce"/>
<ellipse cx="408.0" cy="507.5" rx="1.85" ry="1.43" fill="#a0b3ce"/>
<ellipse cx="386.2" cy="474.1" rx="1.23" ry="1.13" fill="#a9bbd3"/>
<ellipse cx="438.5" cy="471.6" rx="1.51" ry="1.35" fill="#b3c2d8"/>
<ellipse cx="437.8" cy="492.8" rx="1.47" ry="0.90" fill="#a0b3ce"/>
<ellipse cx="423.3" cy="475.7" rx="1.36" ry="0.94" fill="#a9bbd3"/>
<ellipse cx="433.7" cy="470.2" rx="1.69" ry="1.14" fill="#b3c2d8"/>
<ellipse cx="391.3" cy="513.5" rx="1.63" ry="1.26" fill="#b3c2d8"/>
<ellipse cx="382.2" cy="513.3" rx="1.41" ry="0.88" fill="#a0b3ce"/>
<ellipse cx="467.4" cy="512.3" rx="1.78" ry="0.81" fill="#a9bbd3"/>
<ellipse cx="433.0" cy="481.9" rx="1.10" ry="1.06" fill="#ecebe8"/>
<ellipse cx="431.6" cy="489.9" rx="0.85" ry="1.37" fill="#e0dcd8"/>
<ellipse cx="403.4" cy="509.6" rx="0.87" ry="1.29" fill="#ecebe8"/>
<ellipse cx="464.3" cy="482.4" rx="1.18" ry="0.83" fill="#ecebe8"/>
<ellipse cx="420.4" cy="476.2" rx="1.56" ry="1.11" fill="#e8e4e2"/>
<ellipse cx="389.6" cy="516.0" rx="1.07" ry="1.38" fill="#e0dcd8"/>
<ellipse cx="453.8" cy="455.1" rx="1.24" ry="1.37" fill="#e8e4e2"/>
<ellipse cx="453.3" cy="473.6" rx="1.50" ry="1.20" fill="#e0dcd8"/>
<ellipse cx="405.4" cy="518.9" rx="1.34" ry="0.90" fill="#e0dcd8"/>
<ellipse cx="418.6" cy="460.5" rx="1.45" ry="1.18" fill="#e8e4e2"/>
<ellipse cx="453.8" cy="492.1" rx="1.14" ry="0.83" fill="#e0dcd8"/>
<ellipse cx="454.7" cy="476.5" rx="1.01" ry="0.89" fill="#e8e4e2"/>
<ellipse cx="420.0" cy="482.5" rx="0.92" ry="0.98" fill="#ecebe8"/>
<ellipse cx="439.8" cy="490.4" rx="1.12" ry="0.93" fill="#e0dcd8"/>
<ellipse cx="419.7" cy="476.2" rx="1.58" ry="0.82" fill="#e8e4e2"/>
<ellipse cx="389.8" cy="456.5" rx="0.98" ry="0.88" fill="#ecebe8"/>
<ellipse cx="453.5" cy="484.8" rx="1.56" ry="1.25" fill="#ecebe8"/>
<ellipse cx="405.7" cy="506.7" rx="1.58" ry="1.21" fill="#e0dcd8"/>
<ellipse cx="450.3" cy="483.2" rx="0.92" ry="0.93" fill="#ecebe8"/>
<ellipse cx="414.2" cy="516.3" rx="1.02" ry="0.90" fill="#e0dcd8"/>
<ellipse cx="458.6" cy="495.2" rx="1.32" ry="1.22" fill="#ecebe8"/>
<ellipse cx="417.4" cy="483.5" rx="1.01" ry="1.24" fill="#ecebe8"/>
<ellipse cx="425.4" cy="471.4" rx="0.94" ry="1.02" fill="#ecebe8"/>
<ellipse cx="407.8" cy="502.0" rx="0.93" ry="1.34" fill="#e8e4e2"/>
<ellipse cx="451.7" cy="491.0" rx="0.80" ry="1.37" fill="#e0dcd8"/>
<line x1="417.3" y1="470.6" x2="415.3" y2="471.5" stroke="#7a2410" stroke-width="1.24" stroke-linecap="round"/>
<line x1="427.7" y1="478.3" x2="429.0" y2="481.5" stroke="#9a3a1c" stroke-width="0.95" stroke-linecap="round"/>
<line x1="407.7" y1="506.8" x2="405.1" y2="508.9" stroke="#7a2410" stroke-width="1.33" stroke-linecap="round"/>
<line x1="452.2" y1="477.5" x2="450.1" y2="478.4" stroke="#6e1e0c" stroke-width="0.93" stroke-linecap="round"/>
<line x1="455.5" y1="484.2" x2="455.7" y2="485.9" stroke="#6e1e0c" stroke-width="1.36" stroke-linecap="round"/>
<line x1="383.0" y1="469.0" x2="385.5" y2="470.9" stroke="#9a3a1c" stroke-width="1.27" stroke-linecap="round"/>
<line x1="436.6" y1="495.9" x2="435.3" y2="497.6" stroke="#9a3a1c" stroke-width="1.38" stroke-linecap="round"/>
<line x1="452.5" y1="462.8" x2="452.7" y2="465.4" stroke="#7a2410" stroke-width="1.01" stroke-linecap="round"/>
<line x1="435.3" y1="494.8" x2="438.0" y2="495.5" stroke="#6e1e0c" stroke-width="1.36" stroke-linecap="round"/>
<line x1="449.8" y1="482.1" x2="447.7" y2="483.1" stroke="#7a2410" stroke-width="1.35" stroke-linecap="round"/>
<line x1="398.4" y1="517.2" x2="399.4" y2="520.6" stroke="#6e1e0c" stroke-width="1.22" stroke-linecap="round"/>
<line x1="383.1" y1="487.4" x2="386.3" y2="487.8" stroke="#8a2e14" stroke-width="0.88" stroke-linecap="round"/>
<line x1="437.1" y1="467.6" x2="439.3" y2="470.3" stroke="#9a3a1c" stroke-width="0.83" stroke-linecap="round"/>
<line x1="412.8" y1="464.6" x2="415.0" y2="464.7" stroke="#7a2410" stroke-width="1.28" stroke-linecap="round"/>
<line x1="446.0" y1="459.9" x2="445.8" y2="463.2" stroke="#9a3a1c" stroke-width="0.80" stroke-linecap="round"/>
<line x1="467.7" y1="511.9" x2="468.9" y2="514.2" stroke="#6e1e0c" stroke-width="1.05" stroke-linecap="round"/>
<line x1="392.1" y1="478.8" x2="390.3" y2="479.9" stroke="#8a2e14" stroke-width="1.17" stroke-linecap="round"/>
<line x1="418.5" y1="464.0" x2="416.5" y2="464.6" stroke="#7a2410" stroke-width="1.39" stroke-linecap="round"/>
<line x1="452.9" y1="474.1" x2="454.3" y2="475.7" stroke="#8a2e14" stroke-width="1.11" stroke-linecap="round"/>
<line x1="461.0" y1="487.9" x2="463.7" y2="489.8" stroke="#7a2410" stroke-width="0.83" stroke-linecap="round"/>
<line x1="386.9" y1="458.6" x2="386.3" y2="462.1" stroke="#9a3a1c" stroke-width="1.15" stroke-linecap="round"/>
<line x1="445.2" y1="517.3" x2="442.2" y2="519.6" stroke="#7a2410" stroke-width="1.13" stroke-linecap="round"/>
<line x1="468.3" y1="502.7" x2="470.0" y2="503.5" stroke="#6e1e0c" stroke-width="0.84" stroke-linecap="round"/>
<line x1="431.9" y1="492.4" x2="431.1" y2="495.8" stroke="#8a2e14" stroke-width="0.99" stroke-linecap="round"/>
<line x1="422.4" y1="487.7" x2="421.6" y2="489.4" stroke="#7a2410" stroke-width="1.24" stroke-linecap="round"/>
<line x1="443.1" y1="453.7" x2="441.1" y2="453.9" stroke="#9a3a1c" stroke-width="0.99" stroke-linecap="round"/>
<line x1="463.8" y1="515.4" x2="463.4" y2="518.5" stroke="#8a2e14" stroke-width="0.95" stroke-linecap="round"/>
<line x1="410.8" y1="507.2" x2="411.3" y2="510.1" stroke="#8a2e14" stroke-width="0.94" stroke-linecap="round"/>
<line x1="398.1" y1="516.8" x2="394.5" y2="518.3" stroke="#7a2410" stroke-width="1.12" stroke-linecap="round"/>
<line x1="467.5" y1="490.7" x2="468.7" y2="494.3" stroke="#8a2e14" stroke-width="1.09" stroke-linecap="round"/>
<line x1="440.5" y1="470.4" x2="437.8" y2="470.4" stroke="#8a2e14" stroke-width="1.36" stroke-linecap="round"/>
<line x1="432.6" y1="473.6" x2="428.8" y2="474.5" stroke="#6e1e0c" stroke-width="1.14" stroke-linecap="round"/>
<line x1="464.4" y1="469.4" x2="465.3" y2="471.3" stroke="#6e1e0c" stroke-width="1.31" stroke-linecap="round"/>
<line x1="447.2" y1="471.3" x2="446.1" y2="473.5" stroke="#8a2e14" stroke-width="1.35" stroke-linecap="round"/>
<line x1="421.0" y1="453.4" x2="423.2" y2="454.7" stroke="#9a3a1c" stroke-width="1.18" stroke-linecap="round"/>
<line x1="450.1" y1="486.6" x2="449.5" y2="488.2" stroke="#9a3a1c" stroke-width="1.22" stroke-linecap="round"/>
<line x1="413.5" y1="481.8" x2="415.3" y2="481.8" stroke="#6e1e0c" stroke-width="1.13" stroke-linecap="round"/>
<line x1="387.2" y1="519.2" x2="390.2" y2="520.0" stroke="#9a3a1c" stroke-width="0.90" stroke-linecap="round"/>
<line x1="437.1" y1="468.9" x2="435.9" y2="469.8" stroke="#7a2410" stroke-width="1.19" stroke-linecap="round"/>
<line x1="461.3" y1="483.1" x2="459.3" y2="486.4" stroke="#7a2410" stroke-width="1.38" stroke-linecap="round"/>
<line x1="404.8" y1="472.8" x2="403.1" y2="474.5" stroke="#9a3a1c" stroke-width="0.83" stroke-linecap="round"/>
<line x1="421.3" y1="487.8" x2="424.9" y2="489.7" stroke="#6e1e0c" stroke-width="0.84" stroke-linecap="round"/>
<line x1="431.1" y1="489.2" x2="434.6" y2="490.9" stroke="#9a3a1c" stroke-width="0.95" stroke-linecap="round"/>
<line x1="411.5" y1="471.6" x2="410.4" y2="475.4" stroke="#7a2410" stroke-width="1.09" stroke-linecap="round"/>
<line x1="382.6" y1="482.7" x2="382.2" y2="486.4" stroke="#9a3a1c" stroke-width="1.09" stroke-linecap="round"/>
<line x1="384.6" y1="485.6" x2="383.7" y2="488.0" stroke="#6e1e0c" stroke-width="1.34" stroke-linecap="round"/>
<line x1="444.2" y1="489.0" x2="445.1" y2="492.3" stroke="#8a2e14" stroke-width="1.15" stroke-linecap="round"/>
<line x1="456.9" y1="467.8" x2="455.0" y2="468.5" stroke="#9a3a1c" stroke-width="0.85" stroke-linecap="round"/>
<line x1="390.3" y1="502.4" x2="392.2" y2="503.8" stroke="#6e1e0c" stroke-width="1.26" stroke-linecap="round"/>
<line x1="412.5" y1="456.8" x2="411.5" y2="458.0" stroke="#6e1e0c" stroke-width="1.05" stroke-linecap="round"/>
<line x1="463.5" y1="469.1" x2="463.1" y2="471.1" stroke="#8a2e14" stroke-width="1.03" stroke-linecap="round"/>
<line x1="399.3" y1="511.4" x2="400.7" y2="514.5" stroke="#6e1e0c" stroke-width="1.20" stroke-linecap="round"/>
<line x1="446.7" y1="481.8" x2="448.5" y2="485.2" stroke="#6e1e0c" stroke-width="1.32" stroke-linecap="round"/>
<line x1="439.9" y1="500.0" x2="437.8" y2="501.5" stroke="#8a2e14" stroke-width="1.08" stroke-linecap="round"/>
<line x1="459.7" y1="490.3" x2="459.3" y2="493.5" stroke="#7a2410" stroke-width="1.39" stroke-linecap="round"/>
<line x1="382.1" y1="476.8" x2="382.7" y2="478.4" stroke="#9a3a1c" stroke-width="1.30" stroke-linecap="round"/>
<line x1="392.8" y1="453.4" x2="391.2" y2="454.3" stroke="#7a2410" stroke-width="0.82" stroke-linecap="round"/>
<line x1="439.4" y1="495.8" x2="439.5" y2="498.6" stroke="#7a2410" stroke-width="1.00" stroke-linecap="round"/>
<line x1="413.2" y1="465.2" x2="413.1" y2="467.1" stroke="#8a2e14" stroke-width="1.18" stroke-linecap="round"/>
<line x1="436.5" y1="493.5" x2="438.6" y2="494.2" stroke="#9a3a1c" stroke-width="1.31" stroke-linecap="round"/>
<line x1="394.7" y1="509.3" x2="393.3" y2="510.9" stroke="#6e1e0c" stroke-width="0.98" stroke-linecap="round"/>
<line x1="427.5" y1="481.0" x2="425.1" y2="482.1" stroke="#8a2e14" stroke-width="1.01" stroke-linecap="round"/>
<line x1="466.4" y1="519.4" x2="466.2" y2="521.5" stroke="#6e1e0c" stroke-width="0.96" stroke-linecap="round"/>
<line x1="381.0" y1="477.5" x2="383.7" y2="479.4" stroke="#9a3a1c" stroke-width="1.08" stroke-linecap="round"/>
<line x1="419.2" y1="466.1" x2="421.5" y2="466.3" stroke="#8a2e14" stroke-width="1.20" stroke-linecap="round"/>
<line x1="436.6" y1="504.5" x2="438.0" y2="506.6" stroke="#9a3a1c" stroke-width="1.18" stroke-linecap="round"/>
<line x1="408.1" y1="472.8" x2="408.1" y2="475.5" stroke="#7a2410" stroke-width="1.13" stroke-linecap="round"/>
<line x1="465.1" y1="502.2" x2="469.0" y2="502.6" stroke="#6e1e0c" stroke-width="1.38" stroke-linecap="round"/>
<line x1="417.2" y1="452.6" x2="415.5" y2="453.6" stroke="#7a2410" stroke-width="1.17" stroke-linecap="round"/>
<line x1="390.4" y1="494.1" x2="391.9" y2="495.7" stroke="#6e1e0c" stroke-width="1.20" stroke-linecap="round"/>
<line x1="453.2" y1="478.7" x2="453.0" y2="482.2" stroke="#8a2e14" stroke-width="1.32" stroke-linecap="round"/>
<line x1="420.0" y1="466.9" x2="422.6" y2="467.5" stroke="#6e1e0c" stroke-width="1.33" stroke-linecap="round"/>
<line x1="462.3" y1="475.3" x2="463.9" y2="477.2" stroke="#9a3a1c" stroke-width="0.86" stroke-linecap="round"/>
<line x1="443.4" y1="482.8" x2="439.7" y2="483.5" stroke="#7a2410" stroke-width="1.24" stroke-linecap="round"/>
<line x1="473.4" y1="516.8" x2="471.4" y2="517.0" stroke="#9a3a1c" stroke-width="1.14" stroke-linecap="round"/>
<line x1="421.0" y1="467.3" x2="423.9" y2="468.9" stroke="#6e1e0c" stroke-width="1.13" stroke-linecap="round"/>
<line x1="437.6" y1="490.7" x2="435.9" y2="493.3" stroke="#6e1e0c" stroke-width="1.01" stroke-linecap="round"/>
<line x1="463.8" y1="489.9" x2="462.6" y2="490.9" stroke="#7a2410" stroke-width="0.97" stroke-linecap="round"/>
<line x1="444.5" y1="454.6" x2="443.2" y2="455.6" stroke="#6e1e0c" stroke-width="1.32" stroke-linecap="round"/>
<line x1="441.2" y1="485.6" x2="439.8" y2="487.5" stroke="#8a2e14" stroke-width="1.40" stroke-linecap="round"/>
<line x1="391.1" y1="506.8" x2="391.8" y2="510.2" stroke="#8a2e14" stroke-width="0.85" stroke-linecap="round"/>
<line x1="411.2" y1="450.7" x2="411.0" y2="454.3" stroke="#6e1e0c" stroke-width="1.19" stroke-linecap="round"/>
<line x1="445.2" y1="481.4" x2="448.0" y2="482.8" stroke="#6e1e0c" stroke-width="0.88" stroke-linecap="round"/>
<line x1="388.8" y1="519.8" x2="391.5" y2="521.5" stroke="#6e1e0c" stroke-width="0.93" stroke-linecap="round"/>
<line x1="457.6" y1="475.9" x2="455.2" y2="476.8" stroke="#9a3a1c" stroke-width="0.85" stroke-linecap="round"/>
<line x1="463.7" y1="517.1" x2="466.3" y2="519.4" stroke="#6e1e0c" stroke-width="1.05" stroke-linecap="round"/>
<line x1="411.6" y1="450.2" x2="412.2" y2="453.7" stroke="#6e1e0c" stroke-width="1.21" stroke-linecap="round"/>
<line x1="388.4" y1="464.5" x2="392.2" y2="465.7" stroke="#8a2e14" stroke-width="1.29" stroke-linecap="round"/>
<line x1="420.7" y1="452.7" x2="419.9" y2="454.5" stroke="#6e1e0c" stroke-width="1.12" stroke-linecap="round"/>
<line x1="463.8" y1="467.7" x2="465.9" y2="468.4" stroke="#9a3a1c" stroke-width="1.07" stroke-linecap="round"/>
<line x1="387.2" y1="469.4" x2="388.0" y2="472.8" stroke="#7a2410" stroke-width="1.00" stroke-linecap="round"/>
<line x1="441.5" y1="469.1" x2="440.8" y2="471.4" stroke="#7a2410" stroke-width="1.08" stroke-linecap="round"/>
<line x1="384.5" y1="515.7" x2="385.9" y2="518.8" stroke="#7a2410" stroke-width="0.83" stroke-linecap="round"/>
<line x1="438.8" y1="469.8" x2="437.1" y2="470.6" stroke="#9a3a1c" stroke-width="1.29" stroke-linecap="round"/>
<line x1="455.0" y1="483.1" x2="455.4" y2="484.9" stroke="#7a2410" stroke-width="1.16" stroke-linecap="round"/>
<line x1="457.2" y1="520.1" x2="458.8" y2="521.4" stroke="#9a3a1c" stroke-width="1.01" stroke-linecap="round"/>
<line x1="436.4" y1="487.4" x2="433.3" y2="489.2" stroke="#7a2410" stroke-width="1.17" stroke-linecap="round"/>
<line x1="390.1" y1="476.4" x2="393.4" y2="477.7" stroke="#6e1e0c" stroke-width="1.07" stroke-linecap="round"/>
<line x1="460.9" y1="474.6" x2="462.6" y2="474.8" stroke="#6e1e0c" stroke-width="1.29" stroke-linecap="round"/>
<line x1="470.6" y1="464.1" x2="469.6" y2="466.1" stroke="#9a3a1c" stroke-width="0.95" stroke-linecap="round"/>
<line x1="413.8" y1="459.6" x2="410.6" y2="461.4" stroke="#8a2e14" stroke-width="1.18" stroke-linecap="round"/>
<line x1="451.1" y1="488.5" x2="452.6" y2="492.1" stroke="#9a3a1c" stroke-width="1.24" stroke-linecap="round"/>
<line x1="449.0" y1="461.7" x2="448.1" y2="463.0" stroke="#9a3a1c" stroke-width="1.32" stroke-linecap="round"/>
<line x1="426.5" y1="467.7" x2="424.3" y2="470.4" stroke="#8a2e14" stroke-width="0.87" stroke-linecap="round"/>
<line x1="397.7" y1="510.0" x2="398.3" y2="513.2" stroke="#6e1e0c" stroke-width="1.17" stroke-linecap="round"/>
<line x1="411.8" y1="518.1" x2="415.4" y2="518.7" stroke="#9a3a1c" stroke-width="1.32" stroke-linecap="round"/>
<line x1="399.0" y1="511.1" x2="401.2" y2="512.9" stroke="#6e1e0c" stroke-width="1.26" stroke-linecap="round"/>
<line x1="383.6" y1="494.2" x2="385.2" y2="494.6" stroke="#7a2410" stroke-width="1.16" stroke-linecap="round"/>
<line x1="466.8" y1="490.3" x2="464.6" y2="491.6" stroke="#8a2e14" stroke-width="1.16" stroke-linecap="round"/>
<line x1="466.5" y1="508.0" x2="468.4" y2="511.1" stroke="#8a2e14" stroke-width="1.17" stroke-linecap="round"/>
<circle cx="439.7" cy="451.6" r="1.65" fill="#e0bca4" stroke="#6e1e0c" stroke-width="1.21"/>
<circle cx="444.3" cy="479.0" r="1.53" fill="#e6c8b4" stroke="#7a2410" stroke-width="0.91"/>
<circle cx="445.2" cy="472.9" r="1.51" fill="#e0bca4" stroke="#9a3a1c" stroke-width="1.09"/>
<circle cx="421.5" cy="453.3" r="1.20" fill="#d8b098" stroke="#9a3a1c" stroke-width="1.20"/>
<circle cx="413.1" cy="474.9" r="1.96" fill="#e0bca4" stroke="#9a3a1c" stroke-width="1.08"/>
<circle cx="393.7" cy="509.7" r="1.35" fill="#d8b098" stroke="#9a3a1c" stroke-width="1.18"/>
<circle cx="382.0" cy="497.9" r="1.35" fill="#d8b098" stroke="#7a2410" stroke-width="1.08"/>
<circle cx="444.6" cy="486.2" r="1.60" fill="#e0bca4" stroke="#8a2e14" stroke-width="1.04"/>
<circle cx="452.7" cy="485.0" r="1.53" fill="#e6c8b4" stroke="#7a2410" stroke-width="1.03"/>
<circle cx="419.2" cy="461.0" r="1.23" fill="#e0bca4" stroke="#6e1e0c" stroke-width="0.92"/>
<circle cx="381.6" cy="462.9" r="1.41" fill="#d8b098" stroke="#7a2410" stroke-width="1.30"/>
<circle cx="457.2" cy="465.2" r="1.83" fill="#e6c8b4" stroke="#7a2410" stroke-width="1.13"/>
<circle cx="453.4" cy="483.6" r="1.35" fill="#e0bca4" stroke="#9a3a1c" stroke-width="1.21"/>
<circle cx="436.5" cy="480.4" r="1.34" fill="#d8b098" stroke="#7a2410" stroke-width="0.90"/>
<circle cx="388.1" cy="484.3" r="1.94" fill="#e6c8b4" stroke="#8a2e14" stroke-width="0.95"/>
<circle cx="433.9" cy="485.6" r="1.62" fill="#d8b098" stroke="#7a2410" stroke-width="1.11"/>
<circle cx="447.6" cy="492.3" r="1.60" fill="#d8b098" stroke="#9a3a1c" stroke-width="1.16"/>
<circle cx="396.3" cy="452.0" r="1.61" fill="#e0bca4" stroke="#6e1e0c" stroke-width="1.25"/>
<circle cx="453.3" cy="490.8" r="1.74" fill="#e6c8b4" stroke="#8a2e14" stroke-width="1.24"/>
<circle cx="395.4" cy="516.5" r="1.78" fill="#e0bca4" stroke="#9a3a1c" stroke-width="1.15"/>
<circle cx="429.0" cy="487.0" r="1.54" fill="#d8b098" stroke="#7a2410" stroke-width="1.20"/>
<circle cx="443.4" cy="458.1" r="1.44" fill="#e6c8b4" stroke="#7a2410" stroke-width="1.24"/>
<circle cx="398.1" cy="509.4" r="1.58" fill="#e6c8b4" stroke="#9a3a1c" stroke-width="1.16"/>
<circle cx="414.1" cy="457.9" r="1.89" fill="#e0bca4" stroke="#7a2410" stroke-width="1.13"/>
<circle cx="463.3" cy="470.6" r="1.80" fill="#d8b098" stroke="#7a2410" stroke-width="1.11"/>
<circle cx="451.7" cy="464.8" r="1.36" fill="#e6c8b4" stroke="#6e1e0c" stroke-width="1.04"/>
<circle cx="459.5" cy="485.3" r="1.84" fill="#d8b098" stroke="#7a2410" stroke-width="0.95"/>
<circle cx="435.8" cy="487.3" r="1.60" fill="#e0bca4" stroke="#7a2410" stroke-width="1.18"/>
<circle cx="381.8" cy="475.5" r="1.71" fill="#d8b098" stroke="#8a2e14" stroke-width="0.91"/>
<circle cx="470.6" cy="465.2" r="1.31" fill="#d8b098" stroke="#7a2410" stroke-width="1.00"/>
<circle cx="434.5" cy="469.8" r="1.22" fill="#e6c8b4" stroke="#7a2410" stroke-width="1.14"/>
<circle cx="433.6" cy="479.7" r="1.25" fill="#e0bca4" stroke="#7a2410" stroke-width="0.99"/>
<circle cx="446.2" cy="475.7" r="1.51" fill="#e0bca4" stroke="#6e1e0c" stroke-width="0.90"/>
<circle cx="440.8" cy="468.2" r="1.98" fill="#e6c8b4" stroke="#9a3a1c" stroke-width="0.98"/>
<circle cx="418.6" cy="472.1" r="1.55" fill="#e0bca4" stroke="#9a3a1c" stroke-width="1.16"/>
<circle cx="415.4" cy="465.0" r="1.72" fill="#d8b098" stroke="#6e1e0c" stroke-width="1.24"/>
<circle cx="458.1" cy="478.0" r="1.77" fill="#d8b098" stroke="#7a2410" stroke-width="1.18"/>
<circle cx="413.4" cy="469.0" r="1.27" fill="#d8b098" stroke="#7a2410" stroke-width="1.15"/>
<circle cx="467.0" cy="471.2" r="1.52" fill="#e0bca4" stroke="#9a3a1c" stroke-width="1.08"/>
<circle cx="417.9" cy="477.6" r="1.66" fill="#e6c8b4" stroke="#9a3a1c" stroke-width="1.23"/>
<circle cx="425.1" cy="474.4" r="1.38" fill="#e6c8b4" stroke="#8a2e14" stroke-width="0.98"/>
<circle cx="463.6" cy="497.0" r="1.53" fill="#e6c8b4" stroke="#6e1e0c" stroke-width="1.28"/>
<circle cx="452.0" cy="469.3" r="1.57" fill="#e6c8b4" stroke="#7a2410" stroke-width="1.26"/>
<circle cx="412.5" cy="474.6" r="1.64" fill="#e0bca4" stroke="#7a2410" stroke-width="1.06"/>
<circle cx="386.2" cy="471.9" r="1.22" fill="#d8b098" stroke="#8a2e14" stroke-width="1.16"/>
<circle cx="466.8" cy="495.8" r="1.22" fill="#e6c8b4" stroke="#7a2410" stroke-width="0.96"/>
<circle cx="449.7" cy="457.0" r="1.91" fill="#e6c8b4" stroke="#9a3a1c" stroke-width="1.10"/>
<circle cx="412.7" cy="466.5" r="1.29" fill="#d8b098" stroke="#8a2e14" stroke-width="1.01"/>
<circle cx="382.4" cy="512.3" r="1.77" fill="#d8b098" stroke="#9a3a1c" stroke-width="1.18"/>
<circle cx="415.4" cy="454.9" r="1.35" fill="#d8b098" stroke="#7a2410" stroke-width="1.11"/>
<ellipse cx="416.9" cy="492.3" rx="0.97" ry="0.89" fill="#8a2e14"/>
<ellipse cx="414.9" cy="488.2" rx="1.12" ry="0.76" fill="#8a2e14"/>
<ellipse cx="449.9" cy="464.0" rx="1.16" ry="0.87" fill="#9a3a1c"/>
<ellipse cx="462.6" cy="478.3" rx="0.92" ry="1.04" fill="#7a2410"/>
<ellipse cx="416.7" cy="481.6" rx="1.20" ry="0.94" fill="#8a2e14"/>
<ellipse cx="443.9" cy="495.3" rx="1.29" ry="0.65" fill="#8a2e14"/>
<ellipse cx="462.4" cy="470.9" rx="1.19" ry="1.16" fill="#8a2e14"/>
<ellipse cx="398.3" cy="511.5" rx="1.00" ry="0.70" fill="#9a3a1c"/>
<ellipse cx="457.7" cy="493.2" rx="0.94" ry="0.72" fill="#8a2e14"/>
<ellipse cx="393.3" cy="503.4" rx="0.61" ry="1.16" fill="#8a2e14"/>
<ellipse cx="419.5" cy="476.3" rx="0.91" ry="1.05" fill="#9a3a1c"/>
<ellipse cx="441.9" cy="479.7" rx="1.10" ry="0.91" fill="#8a2e14"/>
<ellipse cx="440.1" cy="496.3" rx="0.95" ry="1.17" fill="#8a2e14"/>
<ellipse cx="392.0" cy="506.3" rx="0.77" ry="1.21" fill="#6e1e0c"/>
<ellipse cx="387.1" cy="472.4" rx="1.04" ry="0.98" fill="#9a3a1c"/>
<ellipse cx="390.2" cy="513.8" rx="1.00" ry="0.87" fill="#8a2e14"/>
<ellipse cx="409.7" cy="519.3" rx="0.77" ry="0.72" fill="#8a2e14"/>
<ellipse cx="383.4" cy="489.1" rx="0.79" ry="1.07" fill="#7a2410"/>
<ellipse cx="436.5" cy="475.6" rx="1.04" ry="0.94" fill="#7a2410"/>
<ellipse cx="467.8" cy="515.5" rx="1.19" ry="0.77" fill="#7a2410"/>
<ellipse cx="403.2" cy="511.6" rx="0.91" ry="1.09" fill="#6e1e0c"/>
<ellipse cx="392.6" cy="506.8" rx="0.92" ry="1.21" fill="#6e1e0c"/>
<ellipse cx="438.0" cy="502.7" rx="1.04" ry="0.78" fill="#8a2e14"/>
<ellipse cx="432.7" cy="493.8" rx="1.16" ry="0.81" fill="#8a2e14"/>
<ellipse cx="467.3" cy="470.4" rx="0.73" ry="1.12" fill="#8a2e14"/>
<ellipse cx="464.4" cy="467.9" rx="0.83" ry="1.23" fill="#7a2410"/>
<ellipse cx="387.2" cy="460.0" rx="1.19" ry="1.16" fill="#6e1e0c"/>
<ellipse cx="389.6" cy="456.9" rx="0.75" ry="0.92" fill="#7a2410"/>
<ellipse cx="432.4" cy="479.2" rx="0.66" ry="0.86" fill="#8a2e14"/>
<ellipse cx="450.6" cy="463.9" rx="0.78" ry="1.16" fill="#8a2e14"/>
<ellipse cx="382.7" cy="502.8" rx="1.07" ry="1.09" fill="#6e1e0c"/>
<ellipse cx="438.7" cy="520.5" rx="0.69" ry="0.90" fill="#8a2e14"/>
<ellipse cx="427.7" cy="478.2" rx="1.26" ry="0.76" fill="#9a3a1c"/>
<ellipse cx="421.6" cy="481.1" rx="1.27" ry="0.82" fill="#7a2410"/>
<ellipse cx="401.8" cy="512.9" rx="0.60" ry="0.81" fill="#8a2e14"/>
<ellipse cx="397.9" cy="503.2" rx="1.18" ry="1.06" fill="#9a3a1c"/>
<ellipse cx="385.0" cy="470.5" rx="0.72" ry="0.76" fill="#6e1e0c"/>
<ellipse cx="391.8" cy="520.8" rx="0.68" ry="0.93" fill="#9a3a1c"/>
<ellipse cx="451.0" cy="452.7" rx="1.20" ry="0.96" fill="#7a2410"/>
<ellipse cx="383.4" cy="459.8" rx="0.74" ry="0.66" fill="#7a2410"/>
<ellipse cx="435.0" cy="478.8" rx="0.86" ry="1.11" fill="#7a2410"/>
<ellipse cx="470.9" cy="507.4" rx="1.09" ry="0.61" fill="#7a2410"/>
<ellipse cx="472.9" cy="513.4" rx="0.91" ry="1.29" fill="#8a2e14"/>
<ellipse cx="437.0" cy="512.4" rx="1.04" ry="0.67" fill="#7a2410"/>
<ellipse cx="395.0" cy="511.9" rx="0.96" ry="1.10" fill="#6e1e0c"/>
<ellipse cx="469.0" cy="496.8" rx="1.30" ry="0.62" fill="#9a3a1c"/>
<ellipse cx="384.5" cy="482.1" rx="0.80" ry="0.87" fill="#9a3a1c"/>
<ellipse cx="388.3" cy="512.1" rx="1.21" ry="1.04" fill="#6e1e0c"/>
<ellipse cx="448.5" cy="464.0" rx="1.00" ry="1.08" fill="#8a2e14"/>
<ellipse cx="407.3" cy="452.8" rx="0.68" ry="0.61" fill="#8a2e14"/>
<ellipse cx="404.4" cy="513.6" rx="1.12" ry="0.72" fill="#7a2410"/>
<ellipse cx="449.6" cy="463.0" rx="0.82" ry="0.61" fill="#8a2e14"/>
<ellipse cx="425.7" cy="491.2" rx="1.29" ry="1.07" fill="#9a3a1c"/>
<ellipse cx="442.1" cy="496.3" rx="0.90" ry="1.00" fill="#9a3a1c"/>
<ellipse cx="394.1" cy="513.8" rx="0.67" ry="1.29" fill="#9a3a1c"/>
<ellipse cx="453.1" cy="485.8" rx="1.16" ry="0.96" fill="#9a3a1c"/>
<ellipse cx="390.7" cy="488.0" rx="1.29" ry="0.96" fill="#7a2410"/>
<ellipse cx="420.1" cy="491.2" rx="0.60" ry="0.66" fill="#7a2410"/>
<ellipse cx="451.0" cy="491.8" rx="1.27" ry="0.62" fill="#8a2e14"/>
<ellipse cx="384.9" cy="472.7" rx="0.81" ry="0.73" fill="#7a2410"/>
<ellipse cx="439.8" cy="482.8" rx="0.94" ry="1.09" fill="#9a3a1c"/>
<ellipse cx="423.8" cy="487.8" rx="0.87" ry="0.74" fill="#8a2e14"/>
<ellipse cx="396.6" cy="475.0" rx="1.26" ry="1.02" fill="#9a3a1c"/>
<ellipse cx="403.0" cy="505.0" rx="0.65" ry="0.98" fill="#7a2410"/>
<ellipse cx="404.2" cy="507.5" rx="1.26" ry="1.20" fill="#6e1e0c"/>
<ellipse cx="414.6" cy="478.6" rx="0.62" ry="1.24" fill="#6e1e0c"/>
<ellipse cx="471.5" cy="454.2" rx="1.20" ry="0.66" fill="#9a3a1c"/>
<ellipse cx="391.4" cy="478.3" rx="0.62" ry="0.89" fill="#6e1e0c"/>
<ellipse cx="389.0" cy="477.1" rx="0.88" ry="0.87" fill="#6e1e0c"/>
<ellipse cx="382.7" cy="519.2" rx="1.09" ry="1.11" fill="#8a2e14"/>
<ellipse cx="393.5" cy="475.4" rx="1.14" ry="1.25" fill="#7a2410"/>
<ellipse cx="454.1" cy="465.8" rx="0.68" ry="0.96" fill="#7a2410"/>
<ellipse cx="413.5" cy="466.7" rx="1.28" ry="1.19" fill="#6e1e0c"/>
<ellipse cx="462.2" cy="476.0" rx="0.90" ry="1.13" fill="#8a2e14"/>
<ellipse cx="431.0" cy="494.2" rx="0.68" ry="1.21" fill="#9a3a1c"/>
<ellipse cx="424.5" cy="490.2" rx="0.76" ry="0.82" fill="#8a2e14"/>
<ellipse cx="460.6" cy="470.9" rx="0.76" ry="0.77" fill="#6e1e0c"/>
<ellipse cx="388.5" cy="463.1" rx="1.06" ry="1.08" fill="#7a2410"/>
<ellipse cx="415.8" cy="479.7" rx="1.17" ry="0.73" fill="#6e1e0c"/>
<ellipse cx="390.5" cy="516.8" rx="0.84" ry="1.10" fill="#7a2410"/>
<ellipse cx="466.3" cy="487.5" rx="0.73" ry="0.91" fill="#6e1e0c"/>
<ellipse cx="471.2" cy="501.1" rx="0.81" ry="0.94" fill="#8a2e14"/>
<ellipse cx="472.9" cy="468.6" rx="0.67" ry="0.70" fill="#9a3a1c"/>
<ellipse cx="449.3" cy="479.6" rx="0.68" ry="0.83" fill="#9a3a1c"/>
<ellipse cx="413.8" cy="494.7" rx="1.09" ry="0.80" fill="#8a2e14"/>
<ellipse cx="463.4" cy="519.4" rx="0.81" ry="0.81" fill="#8a2e14"/>
<ellipse cx="470.1" cy="515.9" rx="0.80" ry="0.97" fill="#7a2410"/>
<ellipse cx="436.5" cy="483.5" rx="1.26" ry="1.06" fill="#7a2410"/>
<ellipse cx="402.8" cy="517.4" rx="0.98" ry="1.05" fill="#8a2e14"/>
<ellipse cx="450.5" cy="469.9" rx="1.23" ry="1.19" fill="#7a2410"/>
<ellipse cx="465.6" cy="494.8" rx="1.17" ry="0.99" fill="#9a3a1c"/>
<ellipse cx="442.1" cy="491.2" rx="1.08" ry="1.27" fill="#9a3a1c"/>
<ellipse cx="384.8" cy="454.1" rx="0.73" ry="0.73" fill="#7a2410"/>
<ellipse cx="419.8" cy="452.4" rx="0.87" ry="0.76" fill="#6e1e0c"/>
<ellipse cx="424.1" cy="473.7" rx="1.13" ry="1.14" fill="#8a2e14"/>
<ellipse cx="393.7" cy="507.6" rx="0.92" ry="0.91" fill="#9a3a1c"/>
<ellipse cx="447.4" cy="480.1" rx="1.26" ry="1.17" fill="#9a3a1c"/>
<ellipse cx="413.2" cy="463.8" rx="0.83" ry="0.86" fill="#8a2e14"/>
<ellipse cx="461.1" cy="470.3" rx="0.74" ry="0.90" fill="#9a3a1c"/>
<ellipse cx="405.1" cy="505.2" rx="0.65" ry="1.11" fill="#6e1e0c"/>
<ellipse cx="442.0" cy="490.3" rx="1.24" ry="1.04" fill="#8a2e14"/>
<ellipse cx="390.4" cy="480.5" rx="1.23" ry="0.77" fill="#8a2e14"/>
<ellipse cx="410.9" cy="451.9" rx="0.66" ry="0.94" fill="#8a2e14"/>
<ellipse cx="393.9" cy="472.8" rx="0.85" ry="0.67" fill="#8a2e14"/>
<ellipse cx="416.9" cy="463.1" rx="0.68" ry="1.28" fill="#6e1e0c"/>
<ellipse cx="465.5" cy="498.7" rx="0.63" ry="0.67" fill="#6e1e0c"/>
<ellipse cx="473.0" cy="504.0" rx="0.64" ry="1.10" fill="#6e1e0c"/>
<ellipse cx="388.8" cy="461.5" rx="0.94" ry="1.11" fill="#8a2e14"/>
<ellipse cx="416.1" cy="462.0" rx="0.73" ry="1.04" fill="#9a3a1c"/>
<ellipse cx="448.3" cy="456.6" rx="1.26" ry="1.06" fill="#7a2410"/>
<ellipse cx="436.5" cy="475.7" rx="0.63" ry="1.19" fill="#6e1e0c"/>
<ellipse cx="414.8" cy="462.0" rx="0.64" ry="0.63" fill="#9a3a1c"/>
<ellipse cx="400.6" cy="520.7" rx="1.28" ry="1.26" fill="#6e1e0c"/>
<ellipse cx="385.3" cy="495.1" rx="0.94" ry="0.63" fill="#6e1e0c"/>
<ellipse cx="417.0" cy="481.3" rx="1.22" ry="1.23" fill="#9a3a1c"/>
<ellipse cx="388.8" cy="514.6" rx="0.73" ry="1.16" fill="#7a2410"/>
<ellipse cx="466.9" cy="513.3" rx="1.26" ry="0.85" fill="#8a2e14"/>
<ellipse cx="450.6" cy="458.6" rx="0.76" ry="0.80" fill="#9a3a1c"/>
<ellipse cx="427.9" cy="482.5" rx="1.02" ry="0.74" fill="#7a2410"/>
<ellipse cx="439.6" cy="474.3" rx="1.03" ry="0.65" fill="#9a3a1c"/>
<ellipse cx="414.9" cy="485.6" rx="0.94" ry="0.93" fill="#9a3a1c"/>
<ellipse cx="391.4" cy="453.0" rx="1.03" ry="1.15" fill="#6e1e0c"/>
<ellipse cx="431.9" cy="469.1" rx="0.91" ry="1.03" fill="#6e1e0c"/>
<ellipse cx="426.3" cy="470.0" rx="0.95" ry="0.68" fill="#9a3a1c"/>
<ellipse cx="468.2" cy="469.8" rx="0.60" ry="0.67" fill="#8a2e14"/>
<ellipse cx="441.0" cy="496.5" rx="1.23" ry="0.63" fill="#9a3a1c"/>
<ellipse cx="389.7" cy="463.9" rx="1.11" ry="1.16" fill="#7a2410"/>
<ellipse cx="392.0" cy="519.7" rx="0.93" ry="0.97" fill="#8a2e14"/>
<ellipse cx="384.1" cy="469.5" rx="0.79" ry="0.63" fill="#8a2e14"/>
<ellipse cx="441.1" cy="490.5" rx="0.79" ry="1.26" fill="#7a2410"/>
<ellipse cx="414.9" cy="474.4" rx="0.68" ry="0.99" fill="#8a2e14"/>
<ellipse cx="444.0" cy="493.9" rx="0.74" ry="0.79" fill="#7a2410"/>
<ellipse cx="446.9" cy="487.1" rx="0.86" ry="0.99" fill="#9a3a1c"/>
<ellipse cx="464.5" cy="472.8" rx="0.74" ry="0.95" fill="#9a3a1c"/>
<ellipse cx="411.9" cy="454.4" rx="0.69" ry="1.16" fill="#9a3a1c"/>
<ellipse cx="444.9" cy="483.7" rx="1.24" ry="0.90" fill="#7a2410"/>
<ellipse cx="387.3" cy="459.5" rx="0.99" ry="0.83" fill="#7a2410"/>
<ellipse cx="381.5" cy="451.8" rx="0.85" ry="0.66" fill="#8a2e14"/>
<ellipse cx="424.3" cy="471.0" rx="0.78" ry="1.30" fill="#7a2410"/>
<ellipse cx="391.8" cy="470.4" rx="0.86" ry="0.63" fill="#6e1e0c"/>
<ellipse cx="429.5" cy="479.1" rx="0.77" ry="1.11" fill="#6e1e0c"/>
<ellipse cx="410.7" cy="472.3" rx="0.69" ry="0.65" fill="#8a2e14"/>
<ellipse cx="432.1" cy="479.2" rx="1.23" ry="1.08" fill="#7a2410"/>
<ellipse cx="469.5" cy="493.4" rx="0.84" ry="0.69" fill="#6e1e0c"/>
<ellipse cx="385.6" cy="454.2" rx="0.94" ry="1.11" fill="#7a2410"/>
<ellipse cx="389.6" cy="501.1" rx="0.97" ry="1.09" fill="#6e1e0c"/>
<ellipse cx="471.0" cy="465.5" rx="1.24" ry="0.68" fill="#7a2410"/>
<ellipse cx="461.4" cy="470.3" rx="1.19" ry="1.30" fill="#9a3a1c"/>
<ellipse cx="406.6" cy="515.6" rx="0.74" ry="0.62" fill="#6e1e0c"/>
<ellipse cx="386.4" cy="493.3" rx="1.11" ry="1.14" fill="#7a2410"/>
<ellipse cx="439.7" cy="494.9" rx="0.77" ry="0.84" fill="#9a3a1c"/>
<ellipse cx="423.8" cy="472.3" rx="0.79" ry="1.26" fill="#9a3a1c"/>
<ellipse cx="383.7" cy="475.4" rx="1.14" ry="1.18" fill="#9a3a1c"/>
<ellipse cx="442.0" cy="464.4" rx="0.69" ry="0.94" fill="#7a2410"/>
<ellipse cx="400.0" cy="474.0" rx="1.29" ry="0.99" fill="#9a3a1c"/>
<ellipse cx="445.7" cy="495.2" rx="0.85" ry="0.85" fill="#9a3a1c"/>
<ellipse cx="448.2" cy="481.8" rx="1.02" ry="0.73" fill="#7a2410"/>
<ellipse cx="463.7" cy="467.1" rx="1.18" ry="0.66" fill="#9a3a1c"/>
<ellipse cx="443.8" cy="456.7" rx="0.73" ry="1.29" fill="#8a2e14"/>
<ellipse cx="434.2" cy="480.0" rx="1.10" ry="0.74" fill="#9a3a1c"/>
<ellipse cx="457.0" cy="473.6" rx="0.78" ry="0.97" fill="#7a2410"/>
<ellipse cx="470.4" cy="464.8" rx="0.92" ry="0.60" fill="#7a2410"/>
<ellipse cx="436.8" cy="493.0" rx="1.10" ry="0.77" fill="#7a2410"/>
<ellipse cx="454.6" cy="463.9" rx="0.71" ry="1.14" fill="#6e1e0c"/>
<ellipse cx="395.7" cy="517.1" rx="1.18" ry="0.77" fill="#6e1e0c"/>
<ellipse cx="452.2" cy="454.9" rx="0.98" ry="0.87" fill="#6e1e0c"/>
<ellipse cx="454.8" cy="494.0" rx="1.21" ry="1.07" fill="#8a2e14"/>
<ellipse cx="414.4" cy="458.6" rx="0.81" ry="0.96" fill="#9a3a1c"/>
<ellipse cx="444.1" cy="489.5" rx="0.81" ry="1.22" fill="#6e1e0c"/>
<ellipse cx="457.7" cy="468.8" rx="1.24" ry="0.81" fill="#8a2e14"/>
<ellipse cx="448.3" cy="458.0" rx="0.94" ry="0.75" fill="#8a2e14"/>
<ellipse cx="441.3" cy="463.6" rx="0.93" ry="1.13" fill="#7a2410"/>
<ellipse cx="451.9" cy="458.0" rx="1.19" ry="0.97" fill="#6e1e0c"/>
<ellipse cx="394.9" cy="507.5" rx="0.76" ry="0.94" fill="#8a2e14"/>
<ellipse cx="383.1" cy="502.3" rx="0.70" ry="0.69" fill="#9a3a1c"/>
<ellipse cx="437.7" cy="453.5" rx="1.25" ry="0.96" fill="#9a3a1c"/>
<ellipse cx="382.0" cy="468.5" rx="1.04" ry="1.13" fill="#8a2e14"/>
<ellipse cx="418.2" cy="482.0" rx="1.17" ry="0.82" fill="#7a2410"/>
<ellipse cx="434.3" cy="491.1" rx="1.27" ry="1.24" fill="#7a2410"/>
<ellipse cx="440.4" cy="478.7" rx="0.79" ry="0.63" fill="#6e1e0c"/>
<ellipse cx="428.9" cy="485.0" rx="0.62" ry="0.83" fill="#6e1e0c"/>
<ellipse cx="387.2" cy="483.4" rx="1.10" ry="0.64" fill="#8a2e14"/>
<ellipse cx="465.9" cy="469.3" rx="0.80" ry="0.90" fill="#8a2e14"/>
<ellipse cx="413.3" cy="474.3" rx="1.30" ry="0.99" fill="#9a3a1c"/>
<ellipse cx="437.6" cy="499.2" rx="1.02" ry="1.29" fill="#8a2e14"/>
<ellipse cx="458.4" cy="479.1" rx="0.88" ry="0.62" fill="#7a2410"/>
<ellipse cx="430.7" cy="485.8" rx="1.29" ry="0.72" fill="#9a3a1c"/>
<ellipse cx="385.6" cy="515.9" rx="0.97" ry="0.86" fill="#7a2410"/>
<ellipse cx="453.5" cy="490.1" rx="1.26" ry="1.09" fill="#9a3a1c"/>
<ellipse cx="394.2" cy="518.8" rx="0.80" ry="0.64" fill="#6e1e0c"/>
<ellipse cx="401.7" cy="463.0" rx="10.9" ry="11.2" fill="#b07058" opacity="0.35"/>
<ellipse cx="430.8" cy="460.0" rx="10.4" ry="8.799999999999999" fill="#b07058" opacity="0.35"/>
<ellipse cx="403.0" cy="488.7" rx="11.4" ry="14.9" fill="#b07058" opacity="0.35"/>
<ellipse cx="424.7" cy="507.2" rx="12.799999999999999" ry="14.2" fill="#b07058" opacity="0.35"/>
<ellipse cx="452.5" cy="507.6" rx="14.6" ry="13.799999999999999" fill="#b07058" opacity="0.35"/>
<ellipse cx="471.5" cy="481.0" rx="5.1" ry="12.1" fill="#b07058" opacity="0.35"/>
<ellipse cx="386.5" cy="507.0" rx="5.3999999999999995" ry="5.8" fill="#b07058" opacity="0.35"/>
<ellipse cx="463.0" cy="458.0" rx="10.6" ry="6.6" fill="#b07058" opacity="0.35"/>
<ellipse cx="401.7" cy="463.0" rx="10.3" ry="10.6" fill="#d6d5d2"/>
<ellipse cx="430.8" cy="460.0" rx="9.8" ry="8.2" fill="#d6d5d2"/>
<ellipse cx="403.0" cy="488.7" rx="10.8" ry="14.3" fill="#d6d5d2"/>
<ellipse cx="424.7" cy="507.2" rx="12.2" ry="13.6" fill="#d6d5d2"/>
<ellipse cx="452.5" cy="507.6" rx="14.0" ry="13.2" fill="#d6d5d2"/>
<ellipse cx="471.5" cy="481.0" rx="4.5" ry="11.5" fill="#d6d5d2"/>
<ellipse cx="386.5" cy="507.0" rx="4.8" ry="5.2" fill="#d6d5d2"/>
<ellipse cx="463.0" cy="458.0" rx="10.0" ry="6.0" fill="#dccdc6"/>
</g></g>
<rect x="0" y="0" width="520" height="1.1" fill="#000"/>
<rect x="0" y="0" width="1.1" height="530" fill="#000"/>
<rect x="518.8" y="0" width="1.2" height="530" fill="#000"/>
<rect x="0" y="528.6" width="520" height="1.4" fill="#000"/></svg>
</body></html>
